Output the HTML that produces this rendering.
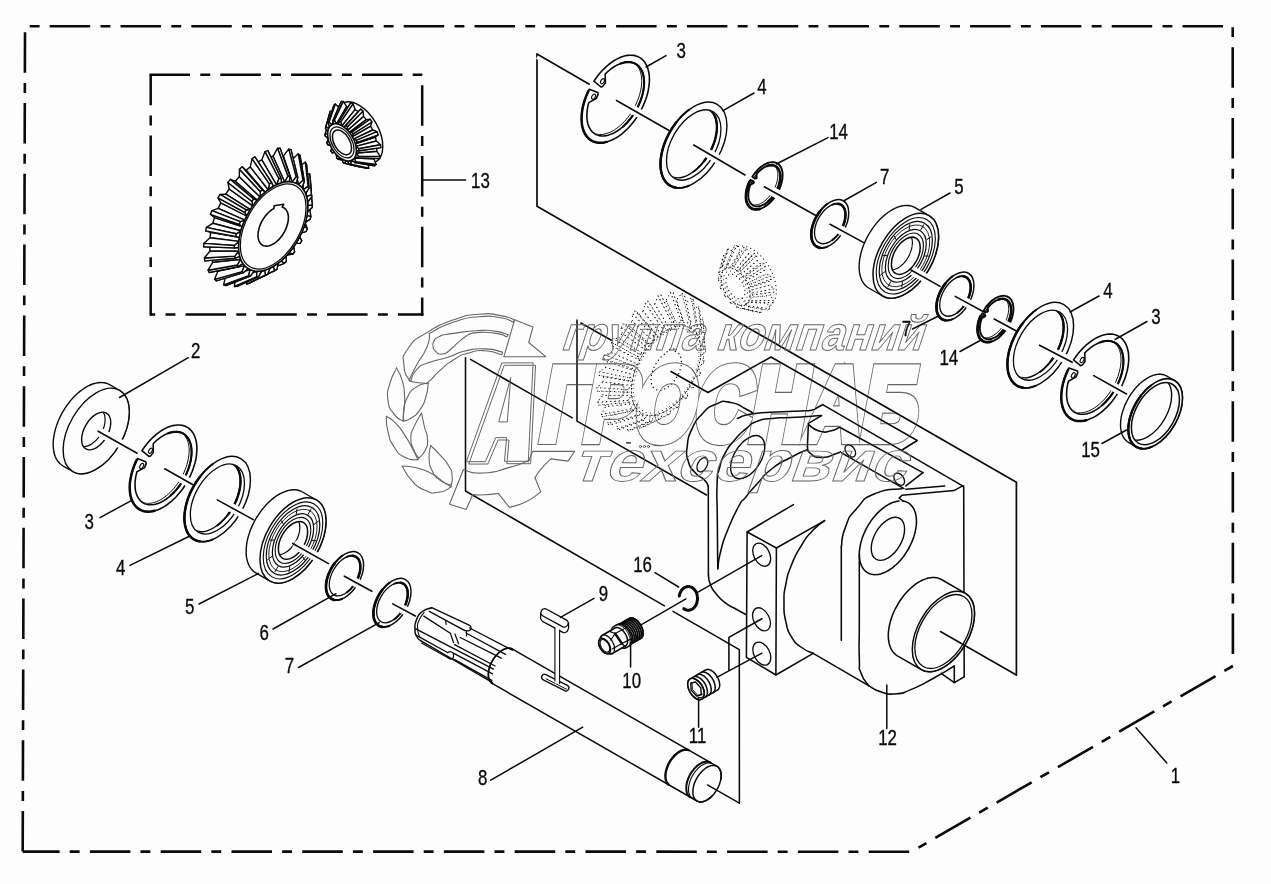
<!DOCTYPE html>
<html><head><meta charset="utf-8"><title>Exploded view</title>
<style>html,body{margin:0;padding:0;background:#fcfdfc;}body{width:1271px;height:884px;overflow:hidden;font-family:"Liberation Sans",sans-serif;}svg{display:block;}</style></head>
<body>
<svg width="1271" height="884" viewBox="0 0 1271 884" font-family="'Liberation Sans', sans-serif" fill="#0a0a0a" stroke-linecap="round" stroke-linejoin="round">
<defs><clipPath id="c1"><ellipse cx="615.5" cy="99.0" rx="39.70" ry="22.92" transform="rotate(-60 615.5 99.0)"/></clipPath><clipPath id="c2"><ellipse cx="693.7" cy="145.0" rx="37.90" ry="21.88" transform="rotate(-60 693.7 145.0)"/></clipPath><clipPath id="c3"><ellipse cx="764.3" cy="185.8" rx="21.80" ry="12.59" transform="rotate(-60 764.3 185.8)"/></clipPath><clipPath id="c4"><ellipse cx="905.8" cy="255.8" rx="19.90" ry="11.49" transform="rotate(-60 905.8 255.8)"/></clipPath><clipPath id="c5"><ellipse cx="995.5" cy="319.0" rx="21.30" ry="12.30" transform="rotate(-60 995.5 319.0)"/></clipPath><clipPath id="c6"><ellipse cx="1040.5" cy="345.2" rx="37.70" ry="21.77" transform="rotate(-60 1040.5 345.2)"/></clipPath><clipPath id="c7"><ellipse cx="1095.0" cy="377.6" rx="39.40" ry="22.75" transform="rotate(-60 1095.0 377.6)"/></clipPath><clipPath id="c8"><ellipse cx="1155.4" cy="413.7" rx="33.50" ry="19.34" transform="rotate(-60 1155.4 413.7)"/></clipPath><clipPath id="c9"><ellipse cx="96.2" cy="431.0" rx="20.10" ry="11.60" transform="rotate(-60 96.2 431.0)"/></clipPath><clipPath id="c10"><ellipse cx="163.3" cy="468.3" rx="39.20" ry="22.63" transform="rotate(-60 163.3 468.3)"/></clipPath><clipPath id="c11"><ellipse cx="217.4" cy="499.0" rx="37.70" ry="21.77" transform="rotate(-60 217.4 499.0)"/></clipPath><clipPath id="c12"><ellipse cx="293.0" cy="540.4" rx="20.20" ry="11.66" transform="rotate(-60 293.0 540.4)"/></clipPath></defs>
<line x1="29.7" y1="26.2" x2="1223.4" y2="26.2" stroke="#0a0a0a" stroke-width="2.6" stroke-dasharray="40.5 10.3 9.9 10.1" stroke-dashoffset="50.8" stroke-linecap="butt"/>
<line x1="1232.7" y1="27.2" x2="1232.9" y2="654.6" stroke="#0a0a0a" stroke-width="2.6" stroke-dasharray="40.5 10.3 9.9 10.1" stroke-dashoffset="50.8" stroke-linecap="butt"/>
<line x1="1232.9" y1="666.0" x2="918.5" y2="847.7" stroke="#0a0a0a" stroke-width="2.6" stroke-dasharray="40.5 10.3 9.9 10.1" stroke-dashoffset="50.8" stroke-linecap="butt"/>
<line x1="909.2" y1="851.7" x2="22.7" y2="851.6" stroke="#0a0a0a" stroke-width="2.6" stroke-dasharray="40.5 10.3 9.9 10.1" stroke-dashoffset="0.0" stroke-linecap="butt"/>
<line x1="25.0" y1="32.2" x2="22.7" y2="851.6" stroke="#0a0a0a" stroke-width="2.6" stroke-dasharray="40.5 10.3 9.9 10.1" stroke-dashoffset="0.0" stroke-linecap="butt"/>
<line x1="149.5" y1="74.7" x2="422.2" y2="74.7" stroke="#0a0a0a" stroke-width="2.5" stroke-dasharray="40.5 10.3 9.9 10.1" stroke-dashoffset="0.0" stroke-linecap="butt"/>
<line x1="422.2" y1="74.7" x2="422.2" y2="315.8" stroke="#0a0a0a" stroke-width="2.5" stroke-dasharray="40.5 10.3 9.9 10.1" stroke-dashoffset="60.3" stroke-linecap="butt"/>
<line x1="150.7" y1="74.7" x2="150.7" y2="315.8" stroke="#0a0a0a" stroke-width="2.5" stroke-dasharray="40.5 10.3 9.9 10.1" stroke-dashoffset="9.9" stroke-linecap="butt"/>
<line x1="150.7" y1="314.6" x2="423.4" y2="314.6" stroke="#0a0a0a" stroke-width="2.5" stroke-dasharray="40.5 10.3 9.9 10.1" stroke-dashoffset="36.0" stroke-linecap="butt"/>
<line x1="423.0" y1="180.0" x2="465.6" y2="180.0" stroke="#0a0a0a" stroke-width="1.6" />
<path d="M537.0 54.0 L537.0 206.3 L1016.4 482.3 L1016.4 675.0" fill="none" stroke="#0a0a0a" stroke-width="1.7" />
<path d="M593.9 81.2 L595.8 78.5 L597.8 75.8 L599.8 73.3 L602.0 70.8 L604.2 68.6 L606.5 66.4 L608.8 64.5 L611.1 62.7 L613.5 61.0 L615.9 59.6 L618.2 58.4 L620.6 57.3 L622.9 56.5 L625.2 55.8 L627.5 55.4 L629.7 55.2 L631.8 55.2 L633.8 55.4 L635.8 55.9 L637.6 56.5 L639.4 57.4 L641.0 58.4 L642.5 59.7 L643.9 61.1 L645.1 62.8 L646.2 64.6 L647.1 66.6 L647.9 68.7 L648.5 71.0 L649.0 73.4 L649.3 76.0 L649.4 78.6 L649.4 81.4 L649.2 84.2 L648.8 87.2 L648.3 90.2 L647.6 93.2 L646.8 96.2 L645.8 99.3 L644.6 102.4 L643.3 105.4 L641.9 108.4 L640.3 111.4 L638.6 114.3 L636.9 117.1 L635.0 119.9 L633.0 122.5 L630.9 125.1 L628.7 127.5 L626.5 129.7 L624.2 131.8 L621.9 133.8 L619.6 135.6 L617.2 137.2 L614.8 138.6 L612.5 139.8 L610.1 140.8 L607.8 141.6 L605.5 142.2 L603.2 142.6 L601.0 142.8 L598.9 142.8 L596.9 142.5 L595.0 142.1 L593.1 141.4 L591.4 140.5 L589.8 139.4 L588.3 138.1 L586.9 136.7 L585.7 135.0 L584.7 133.2 L583.7 131.2 L583.0 129.0 L582.4 126.7 L581.9 124.3 L581.7 121.7 L581.6 119.0 L581.6 116.2 L581.8 113.4 L582.2 110.4 L582.8 107.5 L583.5 104.4 L584.4 101.4 L585.4 98.3 L586.6 95.2 L587.9 92.2 L589.3 89.2 L597.8 92.4 L598.2 94.2 L597.3 96.2 L596.5 98.3 L588.8 102.6 L588.8 102.6 L588.1 105.1 L587.6 107.7 L587.2 110.2 L587.0 112.6 L586.9 115.0 L586.9 117.2 L587.1 119.4 L587.4 121.5 L587.8 123.5 L588.4 125.4 L589.1 127.1 L590.0 128.7 L591.0 130.2 L592.0 131.5 L593.2 132.7 L594.6 133.6 L596.0 134.5 L597.5 135.1 L599.1 135.6 L600.8 135.9 L602.5 136.0 L604.3 135.9 L606.2 135.6 L608.1 135.2 L610.0 134.6 L612.0 133.8 L614.0 132.9 L616.0 131.8 L618.0 130.5 L620.0 129.1 L621.9 127.5 L623.9 125.8 L625.8 123.9 L627.6 122.0 L629.4 119.9 L631.1 117.7 L632.7 115.5 L634.3 113.1 L635.7 110.7 L637.1 108.2 L638.4 105.7 L639.5 103.1 L640.5 100.6 L641.5 98.0 L642.2 95.4 L642.9 92.9 L643.4 90.3 L643.8 87.8 L644.0 85.4 L644.1 83.0 L644.1 80.8 L643.9 78.6 L643.6 76.5 L643.2 74.5 L642.6 72.6 L641.9 70.9 L641.0 69.3 L640.0 67.8 L639.0 66.5 L637.8 65.3 L636.4 64.4 L635.0 63.5 L633.5 62.9 L631.9 62.4 L630.2 62.1 L628.5 62.0 L626.7 62.1 L624.8 62.4 L622.9 62.8 L621.0 63.4 L619.0 64.2 L617.0 65.1 L615.0 66.2 L613.0 67.5 L611.0 68.9 L609.1 70.5 L607.1 72.2 L605.2 74.1 L605.4 82.9 L604.0 84.6 L602.7 86.4 L600.9 87.0 Z" fill="#fcfdfc" stroke="#0a0a0a" stroke-width="1.6" />
<path d="M606.7 141.9 L604.4 142.4 L602.2 142.7 L600.1 142.8 L598.0 142.7 L596.0 142.3 L594.1 141.8 L592.4 141.0 L590.7 140.1 L589.1 138.9 L587.7 137.5 L586.4 136.0 L585.3 134.3 L584.3 132.4 L583.4 130.3 L582.7 128.1 L582.2 125.7 L581.8 123.2 L581.6 120.6 L581.6 117.9 L581.7 115.1 L582.0 112.2 L582.4 109.3 L583.0 106.3 L583.8 103.2 L584.7 100.2 L585.8 97.1 L587.0 94.1 L588.4 91.1" fill="none" stroke="#0a0a0a" stroke-width="2.5" />
<path d="M620.5 63.6 L622.5 62.9 L624.4 62.4 L626.3 62.1 L628.2 62.0 L630.0 62.1 L631.7 62.4 L633.3 62.8 L634.9 63.5 L636.3 64.3 L637.7 65.3 L638.9 66.4 L640.0 67.8 L641.0 69.3 L641.9 70.9 L642.6 72.7 L643.2 74.6 L643.6 76.6 L643.9 78.8 L644.1 81.0 L644.1 83.4 L644.0 85.8 L643.7 88.3 L643.3 90.8 L642.8 93.4 L642.1 96.0 L641.2 98.7 L640.3 101.3 L639.2 103.9 L638.0 106.5 L636.7 109.1 L635.2 111.6 L633.7 114.0 L632.1 116.4 L630.4 118.7 L628.6 120.8 L626.8 122.9 L624.9 124.8 L622.9 126.7" fill="none" stroke="#0a0a0a" stroke-width="2.1" />
<g clip-path="url(#c1)">
<path d="M605.7 69.9 L607.6 68.3 L609.6 66.8 L611.6 65.4 L613.6 64.2 L615.6 63.2 L617.6 62.4 L619.5 61.7 L621.4 61.1 L623.3 60.8 L625.2 60.6 L627.0 60.7 L628.7 60.9 L630.3 61.2 L631.9 61.8 L633.3 62.5 L634.7 63.4 L635.9 64.5 L637.1 65.7 L638.1 67.1 L639.0 68.6 L639.8 70.3 L640.5 72.1 L641.0 74.1 L641.4 76.1 L641.6 78.2 L641.7 80.5 L641.7 82.8 L641.5 85.2 L641.2 87.7 L640.7 90.2 L640.2 92.7 L639.4 95.3 L638.6 97.9 L637.6 100.5 L636.5 103.0 L635.3 105.6 L634.0 108.1 L632.6 110.5 L631.1 112.9 L629.5 115.2 L627.8 117.4 L626.1 119.6 L624.3 121.6 L622.4 123.5 L620.5 125.3 L618.5 126.9 L616.6 128.4 L614.6 129.8 L612.6 131.0 L610.6 132.0 L608.6 132.8 L606.6 133.5 L604.7 134.1 L602.8 134.4 L601.0 134.6 L599.2 134.5 L597.5 134.3 L595.8 134.0 L594.3 133.4 L592.8 132.7 L591.5 131.8 L590.2 130.7 L589.1 129.5 L588.0 128.1 L587.1 126.6" fill="none" stroke="#0a0a0a" stroke-width="1.0" />
</g>
<ellipse cx="593.6" cy="96.6" rx="2.80" ry="1.62" transform="rotate(-60 593.6 96.6)" fill="none" stroke="#0a0a0a" stroke-width="1.1" />
<ellipse cx="602.5" cy="81.2" rx="2.80" ry="1.62" transform="rotate(-60 602.5 81.2)" fill="none" stroke="#0a0a0a" stroke-width="1.1" />
<ellipse cx="693.7" cy="145.0" rx="47.00" ry="27.14" transform="rotate(-60 693.7 145.0)" fill="#fcfdfc" stroke="#0a0a0a" stroke-width="1.45" />
<path d="M689.1 185.7 L686.8 186.5 L684.5 187.2 L682.3 187.6 L680.2 187.9 L678.1 187.9 L676.1 187.7 L674.2 187.3 L672.3 186.7 L670.6 185.9 L669.0 184.9 L667.5 183.7 L666.1 182.4 L664.9 180.8 L663.8 179.1 L662.9 177.2 L662.1 175.1 L661.5 172.9 L661.0 170.6 L660.6 168.1 L660.5 165.5 L660.5 162.8 L660.6 160.1 L661.0 157.2 L661.5 154.3 L662.1 151.4 L662.9 148.4 L663.8 145.4 L664.9 142.4 L666.1 139.4 L667.5 136.5 L669.0 133.6 L670.6 130.7 L672.3 127.9 L674.2 125.2 L676.1 122.6 L678.1 120.1 L680.2 117.7 L682.3 115.5 L684.5 113.4 L686.8 111.5 L689.1 109.7" fill="none" stroke="#0a0a0a" stroke-width="1.9" />
<path d="M676.1 187.7 L674.2 187.3 L672.3 186.7 L670.6 185.9 L669.0 184.9 L667.5 183.7 L666.1 182.4 L664.9 180.8 L663.8 179.1 L662.9 177.2 L662.1 175.1 L661.5 172.9 L661.0 170.6 L660.6 168.1 L660.5 165.5 L660.5 162.8 L660.6 160.1 L661.0 157.2 L661.5 154.3 L662.1 151.4 L662.9 148.4 L663.8 145.4 L664.9 142.4 L666.1 139.4 L667.5 136.5 L669.0 133.6 L670.6 130.7 L672.3 127.9 L674.2 125.2 L676.1 122.6" fill="none" stroke="#0a0a0a" stroke-width="2.5" />
<ellipse cx="693.7" cy="145.0" rx="38.50" ry="22.23" transform="rotate(-60 693.7 145.0)" fill="none" stroke="#0a0a0a" stroke-width="1.3" />
<g clip-path="url(#c2)">
<ellipse cx="689.7" cy="142.7" rx="38.50" ry="22.23" transform="rotate(-60 689.7 142.7)" fill="none" stroke="#0a0a0a" stroke-width="1.3" />
<path d="M693.5 109.4 L695.4 108.7 L697.2 108.2 L699.0 107.8 L700.8 107.6 L702.5 107.6 L704.1 107.7 L705.7 108.0 L707.2 108.5 L708.6 109.2 L709.9 110.0 L711.2 111.0 L712.3 112.1 L713.3 113.4 L714.2 114.8 L715.0 116.4 L715.6 118.0 L716.1 119.8 L716.5 121.8 L716.8 123.8 L716.9 125.9 L716.9 128.1 L716.8 130.4 L716.5 132.7 L716.1 135.1 L715.6 137.5 L715.0 139.9 L714.2 142.4 L713.3 144.8 L712.3 147.2 L711.2 149.7 L709.9 152.1 L708.6 154.4 L707.2 156.7 L705.7 158.9 L704.1 161.0 L702.5 163.1 L700.8 165.0 L699.0 166.9 L697.2 168.6 L695.4 170.2 L693.5 171.6" fill="none" stroke="#0a0a0a" stroke-width="1.8" />
<path d="M704.1 107.7 L705.7 108.0 L707.2 108.5 L708.6 109.2 L709.9 110.0 L711.2 111.0 L712.3 112.1 L713.3 113.4 L714.2 114.8 L715.0 116.4 L715.6 118.0 L716.1 119.8 L716.5 121.8 L716.8 123.8 L716.9 125.9 L716.9 128.1 L716.8 130.4 L716.5 132.7 L716.1 135.1 L715.6 137.5 L715.0 139.9 L714.2 142.4 L713.3 144.8 L712.3 147.2 L711.2 149.7 L709.9 152.1 L708.6 154.4 L707.2 156.7 L705.7 158.9 L704.1 161.0" fill="none" stroke="#0a0a0a" stroke-width="2.3" />
</g>
<path d="M752.3 176.8 L753.3 175.3 L754.3 173.8 L755.4 172.4 L756.6 171.1 L757.7 169.8 L758.9 168.7 L760.2 167.6 L761.4 166.6 L762.7 165.7 L764.0 164.8 L765.3 164.1 L766.5 163.5 L767.8 163.0 L769.0 162.6 L770.3 162.4 L771.5 162.2 L772.6 162.2 L773.7 162.2 L774.8 162.4 L775.8 162.7 L776.8 163.1 L777.7 163.6 L778.5 164.3 L779.3 165.0 L780.0 165.8 L780.6 166.8 L781.2 167.8 L781.6 168.9 L782.0 170.1 L782.3 171.4 L782.5 172.7 L782.6 174.1 L782.6 175.6 L782.5 177.1 L782.4 178.7 L782.1 180.3 L781.8 181.9 L781.4 183.5 L780.9 185.2 L780.3 186.8 L779.7 188.4 L778.9 190.1 L778.1 191.7 L777.2 193.3 L776.3 194.8 L775.3 196.3 L774.3 197.8 L773.2 199.2 L772.0 200.5 L770.9 201.8 L769.7 202.9 L768.4 204.0 L767.2 205.0 L765.9 205.9 L764.6 206.8 L763.3 207.5 L762.1 208.1 L760.8 208.6 L759.6 209.0 L758.3 209.2 L757.1 209.4 L756.0 209.4 L754.9 209.4 L753.8 209.2 L752.8 208.9 L751.8 208.5 L750.9 208.0 L750.1 207.3 L749.3 206.6 L748.6 205.8 L748.0 204.8 L747.4 203.8 L747.0 202.7 L746.6 201.5 L746.3 200.2 L746.1 198.9 L746.0 197.5 L746.0 196.0 L746.1 194.5 L746.2 192.9 L746.5 191.3 L746.8 189.7 L747.2 188.1 L747.7 186.4 L748.3 184.8 L748.9 183.2 L749.7 181.5 L750.5 179.9 L753.3 181.1 L753.9 182.4 L753.7 183.0 L750.3 184.9 L750.3 184.9 L749.8 186.4 L749.4 187.8 L749.0 189.2 L748.7 190.6 L748.5 192.0 L748.4 193.4 L748.3 194.7 L748.3 196.0 L748.4 197.2 L748.6 198.4 L748.9 199.5 L749.2 200.5 L749.6 201.5 L750.1 202.4 L750.6 203.2 L751.2 203.9 L751.9 204.6 L752.6 205.1 L753.4 205.6 L754.2 205.9 L755.1 206.2 L756.1 206.4 L757.0 206.4 L758.1 206.4 L759.1 206.3 L760.2 206.0 L761.3 205.7 L762.4 205.2 L763.5 204.7 L764.6 204.1 L765.7 203.4 L766.8 202.6 L767.9 201.7 L769.0 200.7 L770.0 199.7 L771.1 198.6 L772.0 197.5 L773.0 196.3 L773.9 195.0 L774.8 193.7 L775.6 192.3 L776.4 190.9 L777.1 189.5 L777.7 188.1 L778.3 186.7 L778.8 185.2 L779.2 183.8 L779.6 182.4 L779.9 181.0 L780.1 179.6 L780.2 178.2 L780.3 176.9 L780.3 175.6 L780.2 174.4 L780.0 173.2 L779.7 172.1 L779.4 171.1 L779.0 170.1 L778.5 169.2 L778.0 168.4 L777.4 167.7 L776.7 167.0 L776.0 166.5 L775.2 166.0 L774.4 165.7 L773.5 165.4 L772.5 165.2 L771.6 165.2 L770.5 165.2 L769.5 165.3 L768.4 165.6 L767.3 165.9 L766.2 166.4 L765.1 166.9 L764.0 167.5 L762.9 168.2 L761.8 169.0 L760.7 169.9 L759.6 170.9 L758.6 171.9 L757.5 173.0 L756.6 174.1 L756.6 178.0 L756.2 178.5 L754.7 178.6 Z" fill="#fcfdfc" stroke="#0a0a0a" stroke-width="1.9" />
<path d="M759.6 209.0 L758.3 209.2 L757.1 209.4 L756.0 209.4 L754.9 209.4 L753.8 209.2 L752.8 208.9 L751.8 208.5 L750.9 208.0 L750.1 207.3 L749.3 206.6 L748.6 205.8 L748.0 204.8 L747.4 203.8 L747.0 202.7 L746.6 201.5 L746.3 200.2 L746.1 198.9 L746.0 197.5 L746.0 196.0 L746.1 194.5 L746.2 192.9 L746.5 191.3 L746.8 189.7 L747.2 188.1 L747.7 186.4 L748.3 184.8 L748.9 183.2 L749.7 181.5" fill="none" stroke="#0a0a0a" stroke-width="2.8" />
<path d="M767.1 166.0 L768.2 165.7 L769.3 165.4 L770.3 165.2 L771.4 165.2 L772.4 165.2 L773.3 165.4 L774.3 165.6 L775.1 166.0 L775.9 166.4 L776.7 167.0 L777.4 167.6 L778.0 168.4 L778.5 169.2 L779.0 170.1 L779.4 171.1 L779.8 172.2 L780.0 173.3 L780.2 174.5 L780.3 175.8 L780.3 177.1 L780.2 178.4 L780.1 179.8 L779.8 181.2 L779.5 182.7 L779.1 184.1 L778.7 185.6 L778.1 187.1 L777.5 188.5 L776.8 190.0 L776.1 191.4 L775.3 192.8 L774.5 194.2 L773.6 195.5 L772.6 196.8 L771.6 198.0 L770.6 199.1 L769.5 200.2 L768.4 201.2" fill="none" stroke="#0a0a0a" stroke-width="2.4" />
<g clip-path="url(#c3)">
<path d="M757.7 169.0 L758.8 168.0 L759.9 167.2 L761.0 166.5 L762.2 165.8 L763.3 165.2 L764.4 164.7 L765.5 164.3 L766.5 164.1 L767.6 163.9 L768.6 163.8 L769.6 163.8 L770.6 163.9 L771.5 164.1 L772.4 164.4 L773.2 164.8 L773.9 165.3 L774.6 165.9 L775.3 166.6 L775.9 167.4 L776.4 168.2 L776.8 169.2 L777.2 170.2 L777.4 171.3 L777.7 172.4 L777.8 173.6 L777.9 174.9 L777.8 176.2 L777.7 177.5 L777.6 178.9 L777.3 180.3 L777.0 181.7 L776.6 183.1 L776.1 184.6 L775.6 186.0 L775.0 187.4 L774.3 188.8 L773.6 190.2 L772.8 191.6 L771.9 192.9 L771.0 194.2 L770.1 195.5 L769.1 196.7 L768.1 197.8 L767.1 198.8 L766.0 199.8 L764.9 200.8 L763.8 201.6 L762.7 202.3 L761.6 203.0 L760.5 203.6 L759.4 204.1 L758.3 204.5 L757.2 204.7 L756.1 204.9 L755.1 205.0 L754.1 205.0 L753.2 204.9 L752.3 204.7 L751.4 204.4 L750.6 204.0 L749.8 203.5 L749.1 202.9 L748.5 202.2 L747.9 201.4 L747.4 200.6" fill="none" stroke="#0a0a0a" stroke-width="1.0" />
</g>
<ellipse cx="752.0" cy="182.8" rx="1.30" ry="0.75" transform="rotate(-60 752.0 182.8)" fill="none" stroke="#0a0a0a" stroke-width="1.1" />
<ellipse cx="755.5" cy="176.7" rx="1.30" ry="0.75" transform="rotate(-60 755.5 176.7)" fill="none" stroke="#0a0a0a" stroke-width="1.1" />
<ellipse cx="830.0" cy="223.7" rx="26.50" ry="15.30" transform="rotate(-60 830.0 223.7)" fill="#fcfdfc" stroke="#0a0a0a" stroke-width="1.45" />
<path d="M827.4 246.6 L826.1 247.1 L824.8 247.5 L823.6 247.7 L822.4 247.9 L821.2 247.9 L820.1 247.8 L819.0 247.6 L818.0 247.2 L817.0 246.8 L816.1 246.2 L815.2 245.5 L814.5 244.8 L813.8 243.9 L813.2 242.9 L812.6 241.8 L812.2 240.7 L811.8 239.4 L811.5 238.1 L811.4 236.7 L811.3 235.3 L811.3 233.8 L811.4 232.2 L811.5 230.6 L811.8 229.0 L812.2 227.3 L812.6 225.6 L813.2 223.9 L813.8 222.3 L814.5 220.6 L815.2 218.9 L816.1 217.3 L817.0 215.7 L818.0 214.1 L819.0 212.6 L820.1 211.1 L821.2 209.7 L822.4 208.3 L823.6 207.1 L824.8 205.9 L826.1 204.8 L827.4 203.8" fill="none" stroke="#0a0a0a" stroke-width="2.0" />
<path d="M820.1 247.8 L819.0 247.6 L818.0 247.2 L817.0 246.8 L816.1 246.2 L815.2 245.5 L814.5 244.8 L813.8 243.9 L813.2 242.9 L812.6 241.8 L812.2 240.7 L811.8 239.4 L811.5 238.1 L811.4 236.7 L811.3 235.3 L811.3 233.8 L811.4 232.2 L811.5 230.6 L811.8 229.0 L812.2 227.3 L812.6 225.6 L813.2 223.9 L813.8 222.3 L814.5 220.6 L815.2 218.9 L816.1 217.3 L817.0 215.7 L818.0 214.1 L819.0 212.6 L820.1 211.1" fill="none" stroke="#0a0a0a" stroke-width="2.7" />
<ellipse cx="830.0" cy="223.7" rx="21.90" ry="12.64" transform="rotate(-60 830.0 223.7)" fill="none" stroke="#0a0a0a" stroke-width="1.3" />
<path d="M832.2 204.7 L833.2 204.4 L834.3 204.0 L835.3 203.8 L836.3 203.7 L837.3 203.7 L838.2 203.8 L839.1 204.0 L840.0 204.3 L840.8 204.6 L841.5 205.1 L842.2 205.6 L842.8 206.3 L843.4 207.0 L843.9 207.8 L844.4 208.7 L844.7 209.7 L845.0 210.7 L845.3 211.8 L845.4 212.9 L845.5 214.1 L845.5 215.4 L845.4 216.7 L845.3 218.0 L845.0 219.4 L844.7 220.7 L844.4 222.1 L843.9 223.5 L843.4 224.9 L842.8 226.3 L842.2 227.7 L841.5 229.0 L840.8 230.4 L840.0 231.7 L839.1 232.9 L838.2 234.1 L837.3 235.3 L836.3 236.4 L835.3 237.4 L834.3 238.4 L833.2 239.3 L832.2 240.2" fill="none" stroke="#0a0a0a" stroke-width="1.9" />
<path d="M838.2 203.8 L839.1 204.0 L840.0 204.3 L840.8 204.6 L841.5 205.1 L842.2 205.6 L842.8 206.3 L843.4 207.0 L843.9 207.8 L844.4 208.7 L844.7 209.7 L845.0 210.7 L845.3 211.8 L845.4 212.9 L845.5 214.1 L845.5 215.4 L845.4 216.7 L845.3 218.0 L845.0 219.4 L844.7 220.7 L844.4 222.1 L843.9 223.5 L843.4 224.9 L842.8 226.3 L842.2 227.7 L841.5 229.0 L840.8 230.4 L840.0 231.7 L839.1 232.9 L838.2 234.1" fill="none" stroke="#0a0a0a" stroke-width="2.5" />
<path d="M868.7 288.0 L867.2 287.0 L865.7 285.7 L864.4 284.3 L863.2 282.7 L862.2 281.0 L861.3 279.1 L860.6 277.0 L860.0 274.8 L859.5 272.4 L859.3 270.0 L859.1 267.4 L859.2 264.7 L859.4 262.0 L859.7 259.2 L860.3 256.3 L860.9 253.4 L861.7 250.4 L862.7 247.5 L863.8 244.5 L865.1 241.6 L866.4 238.7 L867.9 235.8 L869.6 233.0 L871.3 230.3 L873.1 227.6 L875.0 225.1 L877.0 222.6 L879.1 220.3 L881.3 218.1 L883.5 216.1 L885.7 214.2 L887.9 212.5 L890.2 211.0 L892.5 209.6 L894.8 208.4 L897.1 207.4 L899.3 206.6 L901.5 206.0 L903.7 205.6 L905.8 205.5 L907.9 205.5 L909.8 205.7 L911.7 206.1 L913.5 206.8 L915.1 207.6 L929.0 215.6 L930.6 216.6 L932.0 217.9 L933.3 219.3 L934.5 220.9 L935.5 222.6 L936.4 224.5 L937.2 226.6 L937.8 228.8 L938.2 231.2 L938.5 233.6 L938.6 236.2 L938.6 238.9 L938.4 241.6 L938.0 244.4 L937.5 247.3 L936.8 250.2 L936.0 253.2 L935.0 256.1 L933.9 259.1 L932.7 262.0 L931.3 264.9 L929.8 267.8 L928.2 270.6 L926.4 273.3 L924.6 276.0 L922.7 278.5 L920.7 281.0 L918.6 283.3 L916.5 285.5 L914.3 287.5 L912.1 289.4 L909.8 291.1 L907.5 292.6 L905.2 294.0 L902.9 295.2 L900.7 296.2 L898.4 297.0 L896.2 297.6 L894.0 298.0 L891.9 298.1 L889.9 298.1 L887.9 297.9 L886.1 297.5 L884.3 296.8 L882.6 296.0 Z" fill="#fcfdfc" stroke="#0a0a0a" stroke-width="1.4" />
<ellipse cx="905.8" cy="255.8" rx="46.40" ry="26.79" transform="rotate(-60 905.8 255.8)" fill="#fcfdfc" stroke="#0a0a0a" stroke-width="1.5" />
<ellipse cx="905.8" cy="255.8" rx="41.80" ry="24.13" transform="rotate(-60 905.8 255.8)" fill="none" stroke="#0a0a0a" stroke-width="1.1" />
<ellipse cx="905.8" cy="255.8" rx="37.60" ry="21.71" transform="rotate(-60 905.8 255.8)" fill="none" stroke="#0a0a0a" stroke-width="1.2" />
<ellipse cx="905.8" cy="255.8" rx="33.90" ry="19.57" transform="rotate(-60 905.8 255.8)" fill="none" stroke="#0a0a0a" stroke-width="0.8" />
<ellipse cx="905.8" cy="255.8" rx="28.90" ry="16.69" transform="rotate(-60 905.8 255.8)" fill="none" stroke="#0a0a0a" stroke-width="1.2" />
<ellipse cx="905.8" cy="255.8" rx="24.90" ry="14.38" transform="rotate(-60 905.8 255.8)" fill="none" stroke="#0a0a0a" stroke-width="1.1" />
<line x1="923.8" y1="224.7" x2="920.8" y2="229.9" stroke="#0a0a0a" stroke-width="1.0" />
<line x1="930.9" y1="236.7" x2="926.7" y2="239.9" stroke="#0a0a0a" stroke-width="1.0" />
<line x1="928.4" y1="256.0" x2="924.6" y2="256.0" stroke="#0a0a0a" stroke-width="1.0" />
<line x1="917.3" y1="275.3" x2="915.4" y2="272.0" stroke="#0a0a0a" stroke-width="1.0" />
<line x1="901.8" y1="287.0" x2="902.5" y2="281.8" stroke="#0a0a0a" stroke-width="1.0" />
<line x1="887.8" y1="286.9" x2="890.8" y2="281.7" stroke="#0a0a0a" stroke-width="1.0" />
<line x1="880.7" y1="274.9" x2="884.9" y2="271.7" stroke="#0a0a0a" stroke-width="1.0" />
<line x1="883.2" y1="255.6" x2="887.0" y2="255.6" stroke="#0a0a0a" stroke-width="1.0" />
<line x1="894.3" y1="236.3" x2="896.2" y2="239.6" stroke="#0a0a0a" stroke-width="1.0" />
<line x1="909.8" y1="224.6" x2="909.1" y2="229.8" stroke="#0a0a0a" stroke-width="1.0" />
<ellipse cx="905.8" cy="255.8" rx="20.40" ry="11.78" transform="rotate(-60 905.8 255.8)" fill="#fcfdfc" stroke="#0a0a0a" stroke-width="1.5" />
<g clip-path="url(#c4)">
<ellipse cx="898.0" cy="251.3" rx="20.40" ry="11.78" transform="rotate(-60 898.0 251.3)" fill="none" stroke="#0a0a0a" stroke-width="1.2" />
</g>
<ellipse cx="955.2" cy="296.2" rx="26.50" ry="15.30" transform="rotate(-60 955.2 296.2)" fill="#fcfdfc" stroke="#0a0a0a" stroke-width="1.45" />
<path d="M952.6 319.1 L951.3 319.6 L950.0 320.0 L948.8 320.2 L947.6 320.4 L946.4 320.4 L945.3 320.3 L944.2 320.1 L943.2 319.7 L942.2 319.3 L941.3 318.7 L940.4 318.0 L939.7 317.3 L939.0 316.4 L938.4 315.4 L937.8 314.3 L937.4 313.2 L937.0 311.9 L936.7 310.6 L936.6 309.2 L936.5 307.8 L936.5 306.3 L936.6 304.7 L936.7 303.1 L937.0 301.5 L937.4 299.8 L937.8 298.1 L938.4 296.4 L939.0 294.8 L939.7 293.1 L940.4 291.4 L941.3 289.8 L942.2 288.2 L943.2 286.6 L944.2 285.1 L945.3 283.6 L946.4 282.2 L947.6 280.8 L948.8 279.6 L950.0 278.4 L951.3 277.3 L952.6 276.3" fill="none" stroke="#0a0a0a" stroke-width="2.0" />
<path d="M945.3 320.3 L944.2 320.1 L943.2 319.7 L942.2 319.3 L941.3 318.7 L940.4 318.0 L939.7 317.3 L939.0 316.4 L938.4 315.4 L937.8 314.3 L937.4 313.2 L937.0 311.9 L936.7 310.6 L936.6 309.2 L936.5 307.8 L936.5 306.3 L936.6 304.7 L936.7 303.1 L937.0 301.5 L937.4 299.8 L937.8 298.1 L938.4 296.4 L939.0 294.8 L939.7 293.1 L940.4 291.4 L941.3 289.8 L942.2 288.2 L943.2 286.6 L944.2 285.1 L945.3 283.6" fill="none" stroke="#0a0a0a" stroke-width="2.7" />
<ellipse cx="955.2" cy="296.2" rx="21.90" ry="12.64" transform="rotate(-60 955.2 296.2)" fill="none" stroke="#0a0a0a" stroke-width="1.3" />
<path d="M957.4 277.2 L958.4 276.9 L959.5 276.5 L960.5 276.3 L961.5 276.2 L962.5 276.2 L963.4 276.3 L964.3 276.5 L965.2 276.8 L966.0 277.1 L966.7 277.6 L967.4 278.1 L968.0 278.8 L968.6 279.5 L969.1 280.3 L969.6 281.2 L969.9 282.2 L970.2 283.2 L970.5 284.3 L970.6 285.4 L970.7 286.6 L970.7 287.9 L970.6 289.2 L970.5 290.5 L970.2 291.9 L969.9 293.2 L969.6 294.6 L969.1 296.0 L968.6 297.4 L968.0 298.8 L967.4 300.2 L966.7 301.5 L966.0 302.9 L965.2 304.2 L964.3 305.4 L963.4 306.6 L962.5 307.8 L961.5 308.9 L960.5 309.9 L959.5 310.9 L958.4 311.8 L957.4 312.7" fill="none" stroke="#0a0a0a" stroke-width="1.9" />
<path d="M963.4 276.3 L964.3 276.5 L965.2 276.8 L966.0 277.1 L966.7 277.6 L967.4 278.1 L968.0 278.8 L968.6 279.5 L969.1 280.3 L969.6 281.2 L969.9 282.2 L970.2 283.2 L970.5 284.3 L970.6 285.4 L970.7 286.6 L970.7 287.9 L970.6 289.2 L970.5 290.5 L970.2 291.9 L969.9 293.2 L969.6 294.6 L969.1 296.0 L968.6 297.4 L968.0 298.8 L967.4 300.2 L966.7 301.5 L966.0 302.9 L965.2 304.2 L964.3 305.4 L963.4 306.6" fill="none" stroke="#0a0a0a" stroke-width="2.5" />
<path d="M983.7 310.2 L984.7 308.7 L985.7 307.3 L986.8 305.9 L987.9 304.6 L989.1 303.4 L990.2 302.2 L991.5 301.1 L992.7 300.1 L993.9 299.2 L995.2 298.4 L996.4 297.7 L997.7 297.2 L998.9 296.7 L1000.1 296.3 L1001.3 296.0 L1002.5 295.9 L1003.7 295.8 L1004.8 295.9 L1005.8 296.1 L1006.8 296.4 L1007.7 296.8 L1008.6 297.3 L1009.5 297.9 L1010.2 298.6 L1010.9 299.4 L1011.5 300.3 L1012.0 301.4 L1012.5 302.4 L1012.8 303.6 L1013.1 304.9 L1013.3 306.2 L1013.4 307.6 L1013.5 309.0 L1013.4 310.5 L1013.2 312.0 L1013.0 313.6 L1012.7 315.1 L1012.3 316.8 L1011.8 318.4 L1011.2 320.0 L1010.6 321.6 L1009.8 323.2 L1009.1 324.8 L1008.2 326.3 L1007.3 327.8 L1006.3 329.3 L1005.3 330.7 L1004.2 332.1 L1003.1 333.4 L1001.9 334.6 L1000.8 335.8 L999.5 336.9 L998.3 337.9 L997.1 338.8 L995.8 339.6 L994.6 340.3 L993.3 340.8 L992.1 341.3 L990.9 341.7 L989.7 342.0 L988.5 342.1 L987.3 342.2 L986.2 342.1 L985.2 341.9 L984.2 341.6 L983.3 341.2 L982.4 340.7 L981.5 340.1 L980.8 339.4 L980.1 338.6 L979.5 337.7 L979.0 336.6 L978.5 335.6 L978.2 334.4 L977.9 333.1 L977.7 331.8 L977.6 330.4 L977.5 329.0 L977.6 327.5 L977.8 326.0 L978.0 324.4 L978.3 322.9 L978.7 321.2 L979.2 319.6 L979.8 318.0 L980.4 316.4 L981.2 314.8 L981.9 313.2 L984.7 314.4 L985.4 315.7 L985.1 316.3 L981.8 318.1 L981.8 318.1 L981.3 319.6 L980.9 321.0 L980.6 322.4 L980.3 323.7 L980.1 325.1 L979.9 326.4 L979.9 327.7 L979.9 329.0 L980.0 330.2 L980.2 331.3 L980.4 332.4 L980.7 333.4 L981.1 334.4 L981.6 335.2 L982.1 336.0 L982.7 336.7 L983.4 337.4 L984.1 337.9 L984.8 338.4 L985.7 338.7 L986.5 339.0 L987.5 339.1 L988.4 339.2 L989.4 339.1 L990.4 339.0 L991.5 338.8 L992.5 338.4 L993.6 338.0 L994.7 337.5 L995.8 336.9 L996.9 336.2 L997.9 335.4 L999.0 334.6 L1000.1 333.6 L1001.1 332.6 L1002.1 331.5 L1003.1 330.4 L1004.0 329.2 L1004.9 328.0 L1005.8 326.7 L1006.5 325.4 L1007.3 324.0 L1008.0 322.7 L1008.6 321.3 L1009.2 319.9 L1009.7 318.4 L1010.1 317.0 L1010.4 315.6 L1010.7 314.3 L1010.9 312.9 L1011.1 311.6 L1011.1 310.3 L1011.1 309.0 L1011.0 307.8 L1010.8 306.7 L1010.6 305.6 L1010.3 304.6 L1009.9 303.6 L1009.4 302.8 L1008.9 302.0 L1008.3 301.3 L1007.6 300.6 L1006.9 300.1 L1006.2 299.6 L1005.3 299.3 L1004.5 299.0 L1003.5 298.9 L1002.6 298.8 L1001.6 298.9 L1000.6 299.0 L999.5 299.2 L998.5 299.6 L997.4 300.0 L996.3 300.5 L995.2 301.1 L994.1 301.8 L993.1 302.6 L992.0 303.4 L990.9 304.4 L989.9 305.4 L988.9 306.5 L987.9 307.6 L987.9 311.3 L987.6 311.9 L986.1 312.0 Z" fill="#fcfdfc" stroke="#0a0a0a" stroke-width="1.9" />
<path d="M990.9 341.7 L989.7 342.0 L988.5 342.1 L987.3 342.2 L986.2 342.1 L985.2 341.9 L984.2 341.6 L983.3 341.2 L982.4 340.7 L981.5 340.1 L980.8 339.4 L980.1 338.6 L979.5 337.7 L979.0 336.6 L978.5 335.6 L978.2 334.4 L977.9 333.1 L977.7 331.8 L977.6 330.4 L977.5 329.0 L977.6 327.5 L977.8 326.0 L978.0 324.4 L978.3 322.9 L978.7 321.2 L979.2 319.6 L979.8 318.0 L980.4 316.4 L981.2 314.8" fill="none" stroke="#0a0a0a" stroke-width="2.8" />
<path d="M998.2 299.7 L999.3 299.3 L1000.4 299.0 L1001.4 298.9 L1002.4 298.8 L1003.4 298.9 L1004.3 299.0 L1005.2 299.3 L1006.1 299.6 L1006.9 300.1 L1007.6 300.6 L1008.3 301.2 L1008.9 302.0 L1009.4 302.8 L1009.9 303.7 L1010.3 304.6 L1010.6 305.7 L1010.9 306.8 L1011.0 308.0 L1011.1 309.2 L1011.1 310.5 L1011.1 311.8 L1010.9 313.2 L1010.7 314.5 L1010.4 316.0 L1010.0 317.4 L1009.5 318.8 L1009.0 320.3 L1008.4 321.7 L1007.8 323.1 L1007.0 324.5 L1006.3 325.9 L1005.4 327.2 L1004.6 328.5 L1003.6 329.7 L1002.7 330.9 L1001.6 332.0 L1000.6 333.1 L999.5 334.1" fill="none" stroke="#0a0a0a" stroke-width="2.4" />
<g clip-path="url(#c5)">
<path d="M989.0 302.5 L990.1 301.6 L991.2 300.8 L992.3 300.1 L993.3 299.4 L994.4 298.8 L995.5 298.4 L996.6 298.0 L997.6 297.7 L998.7 297.5 L999.7 297.4 L1000.7 297.4 L1001.6 297.6 L1002.5 297.8 L1003.3 298.1 L1004.1 298.5 L1004.9 299.0 L1005.6 299.5 L1006.2 300.2 L1006.7 301.0 L1007.2 301.8 L1007.7 302.7 L1008.0 303.7 L1008.3 304.7 L1008.5 305.9 L1008.6 307.0 L1008.7 308.3 L1008.7 309.5 L1008.6 310.8 L1008.4 312.2 L1008.2 313.6 L1007.9 314.9 L1007.5 316.3 L1007.0 317.8 L1006.5 319.2 L1005.9 320.6 L1005.2 321.9 L1004.5 323.3 L1003.7 324.6 L1002.9 325.9 L1002.0 327.2 L1001.1 328.4 L1000.2 329.6 L999.2 330.7 L998.2 331.7 L997.1 332.7 L996.1 333.6 L995.0 334.4 L993.9 335.1 L992.8 335.8 L991.7 336.4 L990.6 336.8 L989.6 337.2 L988.5 337.5 L987.5 337.7 L986.5 337.8 L985.5 337.8 L984.6 337.6 L983.7 337.4 L982.8 337.1 L982.0 336.7 L981.3 336.2 L980.6 335.7 L980.0 335.0 L979.4 334.2 L978.9 333.4" fill="none" stroke="#0a0a0a" stroke-width="1.0" />
</g>
<ellipse cx="983.4" cy="316.0" rx="1.30" ry="0.75" transform="rotate(-60 983.4 316.0)" fill="none" stroke="#0a0a0a" stroke-width="1.1" />
<ellipse cx="986.9" cy="310.1" rx="1.30" ry="0.75" transform="rotate(-60 986.9 310.1)" fill="none" stroke="#0a0a0a" stroke-width="1.1" />
<ellipse cx="1040.5" cy="345.2" rx="46.80" ry="27.02" transform="rotate(-60 1040.5 345.2)" fill="#fcfdfc" stroke="#0a0a0a" stroke-width="1.45" />
<path d="M1035.9 385.7 L1033.6 386.5 L1031.4 387.2 L1029.2 387.6 L1027.0 387.9 L1025.0 387.9 L1023.0 387.7 L1021.0 387.3 L1019.2 386.8 L1017.5 386.0 L1015.9 385.0 L1014.4 383.8 L1013.1 382.4 L1011.8 380.9 L1010.8 379.1 L1009.8 377.2 L1009.0 375.2 L1008.4 373.0 L1007.9 370.7 L1007.6 368.2 L1007.4 365.6 L1007.4 363.0 L1007.6 360.2 L1007.9 357.4 L1008.4 354.5 L1009.0 351.6 L1009.8 348.6 L1010.8 345.6 L1011.8 342.6 L1013.1 339.7 L1014.4 336.7 L1015.9 333.8 L1017.5 331.0 L1019.2 328.2 L1021.0 325.5 L1023.0 322.9 L1025.0 320.4 L1027.0 318.1 L1029.2 315.8 L1031.4 313.7 L1033.6 311.8 L1035.9 310.0" fill="none" stroke="#0a0a0a" stroke-width="1.9" />
<path d="M1023.0 387.7 L1021.0 387.3 L1019.2 386.8 L1017.5 386.0 L1015.9 385.0 L1014.4 383.8 L1013.1 382.4 L1011.8 380.9 L1010.8 379.1 L1009.8 377.2 L1009.0 375.2 L1008.4 373.0 L1007.9 370.7 L1007.6 368.2 L1007.4 365.6 L1007.4 363.0 L1007.6 360.2 L1007.9 357.4 L1008.4 354.5 L1009.0 351.6 L1009.8 348.6 L1010.8 345.6 L1011.8 342.6 L1013.1 339.7 L1014.4 336.7 L1015.9 333.8 L1017.5 331.0 L1019.2 328.2 L1021.0 325.5 L1023.0 322.9" fill="none" stroke="#0a0a0a" stroke-width="2.5" />
<ellipse cx="1040.5" cy="345.2" rx="38.30" ry="22.11" transform="rotate(-60 1040.5 345.2)" fill="none" stroke="#0a0a0a" stroke-width="1.3" />
<g clip-path="url(#c6)">
<ellipse cx="1036.5" cy="342.9" rx="38.30" ry="22.11" transform="rotate(-60 1036.5 342.9)" fill="none" stroke="#0a0a0a" stroke-width="1.3" />
<path d="M1040.3 309.8 L1042.1 309.1 L1044.0 308.5 L1045.8 308.2 L1047.5 308.0 L1049.2 307.9 L1050.9 308.1 L1052.4 308.4 L1053.9 308.9 L1055.3 309.5 L1056.6 310.4 L1057.9 311.3 L1059.0 312.5 L1060.0 313.7 L1060.9 315.1 L1061.6 316.7 L1062.3 318.4 L1062.8 320.2 L1063.2 322.1 L1063.5 324.1 L1063.6 326.2 L1063.6 328.4 L1063.5 330.6 L1063.2 332.9 L1062.8 335.3 L1062.3 337.7 L1061.6 340.1 L1060.9 342.6 L1060.0 345.0 L1059.0 347.4 L1057.9 349.8 L1056.6 352.2 L1055.3 354.5 L1053.9 356.8 L1052.4 359.0 L1050.9 361.1 L1049.2 363.2 L1047.5 365.1 L1045.8 366.9 L1044.0 368.7 L1042.1 370.2 L1040.3 371.7" fill="none" stroke="#0a0a0a" stroke-width="1.8" />
<path d="M1050.9 308.1 L1052.4 308.4 L1053.9 308.9 L1055.3 309.5 L1056.6 310.4 L1057.9 311.3 L1059.0 312.5 L1060.0 313.7 L1060.9 315.1 L1061.6 316.7 L1062.3 318.4 L1062.8 320.2 L1063.2 322.1 L1063.5 324.1 L1063.6 326.2 L1063.6 328.4 L1063.5 330.6 L1063.2 332.9 L1062.8 335.3 L1062.3 337.7 L1061.6 340.1 L1060.9 342.6 L1060.0 345.0 L1059.0 347.4 L1057.9 349.8 L1056.6 352.2 L1055.3 354.5 L1053.9 356.8 L1052.4 359.0 L1050.9 361.1" fill="none" stroke="#0a0a0a" stroke-width="2.3" />
</g>
<path d="M1073.5 359.9 L1075.4 357.2 L1077.4 354.6 L1079.4 352.0 L1081.6 349.6 L1083.8 347.4 L1086.0 345.2 L1088.3 343.3 L1090.7 341.5 L1093.0 339.9 L1095.4 338.4 L1097.7 337.2 L1100.1 336.2 L1102.4 335.3 L1104.7 334.7 L1106.9 334.3 L1109.1 334.1 L1111.2 334.1 L1113.2 334.3 L1115.2 334.7 L1117.0 335.4 L1118.7 336.2 L1120.4 337.3 L1121.9 338.5 L1123.2 340.0 L1124.4 341.6 L1125.5 343.4 L1126.4 345.4 L1127.2 347.5 L1127.8 349.8 L1128.3 352.2 L1128.6 354.7 L1128.7 357.4 L1128.7 360.1 L1128.5 362.9 L1128.1 365.8 L1127.6 368.8 L1126.9 371.8 L1126.1 374.8 L1125.1 377.9 L1123.9 380.9 L1122.6 384.0 L1121.2 387.0 L1119.7 389.9 L1118.0 392.8 L1116.2 395.6 L1114.3 398.4 L1112.4 401.0 L1110.3 403.5 L1108.1 405.9 L1105.9 408.1 L1103.7 410.2 L1101.4 412.2 L1099.0 413.9 L1096.7 415.5 L1094.3 416.9 L1092.0 418.1 L1089.6 419.1 L1087.3 420.0 L1085.0 420.6 L1082.8 421.0 L1080.6 421.1 L1078.5 421.1 L1076.5 420.9 L1074.6 420.4 L1072.8 419.7 L1071.0 418.8 L1069.4 417.8 L1068.0 416.5 L1066.6 415.0 L1065.4 413.4 L1064.4 411.6 L1063.4 409.6 L1062.7 407.4 L1062.1 405.1 L1061.7 402.7 L1061.4 400.2 L1061.3 397.5 L1061.3 394.7 L1061.6 391.9 L1061.9 389.0 L1062.5 386.0 L1063.2 383.0 L1064.1 380.0 L1065.1 376.9 L1066.2 373.9 L1067.5 370.8 L1069.0 367.9 L1077.4 371.0 L1077.8 372.8 L1076.9 374.9 L1076.1 376.9 L1068.5 381.2 L1068.5 381.2 L1067.8 383.7 L1067.3 386.2 L1066.9 388.7 L1066.7 391.1 L1066.6 393.4 L1066.6 395.7 L1066.8 397.9 L1067.1 400.0 L1067.5 401.9 L1068.1 403.8 L1068.8 405.5 L1069.7 407.1 L1070.6 408.6 L1071.7 409.9 L1072.9 411.0 L1074.2 412.0 L1075.6 412.8 L1077.1 413.4 L1078.7 413.9 L1080.4 414.2 L1082.1 414.3 L1083.9 414.2 L1085.7 414.0 L1087.6 413.6 L1089.6 413.0 L1091.5 412.2 L1093.5 411.2 L1095.5 410.1 L1097.5 408.9 L1099.4 407.5 L1101.4 405.9 L1103.3 404.2 L1105.2 402.4 L1107.0 400.4 L1108.8 398.4 L1110.5 396.2 L1112.1 393.9 L1113.6 391.6 L1115.1 389.2 L1116.5 386.7 L1117.7 384.2 L1118.8 381.7 L1119.9 379.2 L1120.8 376.6 L1121.5 374.0 L1122.2 371.5 L1122.7 369.0 L1123.1 366.5 L1123.3 364.1 L1123.4 361.8 L1123.4 359.5 L1123.2 357.3 L1122.9 355.2 L1122.5 353.3 L1121.9 351.4 L1121.2 349.7 L1120.3 348.1 L1119.4 346.6 L1118.3 345.3 L1117.1 344.2 L1115.8 343.2 L1114.4 342.4 L1112.9 341.8 L1111.3 341.3 L1109.6 341.0 L1107.9 340.9 L1106.1 341.0 L1104.3 341.2 L1102.4 341.6 L1100.4 342.2 L1098.5 343.0 L1096.5 344.0 L1094.5 345.1 L1092.5 346.3 L1090.6 347.7 L1088.6 349.3 L1086.7 351.0 L1084.8 352.8 L1085.0 361.6 L1083.6 363.3 L1082.3 365.1 L1080.5 365.7 Z" fill="#fcfdfc" stroke="#0a0a0a" stroke-width="1.6" />
<path d="M1086.3 420.3 L1084.0 420.8 L1081.8 421.1 L1079.7 421.1 L1077.6 421.0 L1075.7 420.7 L1073.8 420.1 L1072.0 419.4 L1070.3 418.4 L1068.8 417.2 L1067.4 415.9 L1066.1 414.4 L1064.9 412.6 L1064.0 410.7 L1063.1 408.7 L1062.4 406.5 L1061.9 404.1 L1061.5 401.7 L1061.3 399.1 L1061.3 396.4 L1061.4 393.6 L1061.7 390.7 L1062.1 387.8 L1062.7 384.8 L1063.5 381.8 L1064.4 378.8 L1065.5 375.8 L1066.7 372.7 L1068.1 369.7" fill="none" stroke="#0a0a0a" stroke-width="2.5" />
<path d="M1099.9 342.4 L1101.9 341.8 L1103.9 341.3 L1105.8 341.0 L1107.6 340.9 L1109.4 341.0 L1111.1 341.3 L1112.7 341.7 L1114.3 342.3 L1115.7 343.1 L1117.0 344.1 L1118.2 345.3 L1119.4 346.6 L1120.3 348.1 L1121.2 349.7 L1121.9 351.5 L1122.5 353.4 L1122.9 355.4 L1123.2 357.5 L1123.4 359.8 L1123.4 362.1 L1123.3 364.5 L1123.0 367.0 L1122.6 369.5 L1122.1 372.1 L1121.4 374.7 L1120.5 377.3 L1119.6 379.9 L1118.5 382.5 L1117.3 385.1 L1116.0 387.6 L1114.6 390.1 L1113.1 392.5 L1111.5 394.9 L1109.8 397.1 L1108.0 399.3 L1106.2 401.3 L1104.3 403.3 L1102.4 405.1" fill="none" stroke="#0a0a0a" stroke-width="2.1" />
<g clip-path="url(#c7)">
<path d="M1085.2 348.7 L1087.2 347.1 L1089.1 345.6 L1091.1 344.3 L1093.1 343.1 L1095.1 342.1 L1097.0 341.2 L1099.0 340.5 L1100.9 340.0 L1102.8 339.7 L1104.6 339.5 L1106.4 339.5 L1108.1 339.7 L1109.7 340.1 L1111.2 340.7 L1112.7 341.4 L1114.0 342.3 L1115.3 343.3 L1116.4 344.6 L1117.4 345.9 L1118.3 347.5 L1119.1 349.1 L1119.8 350.9 L1120.3 352.8 L1120.7 354.9 L1120.9 357.0 L1121.0 359.2 L1121.0 361.5 L1120.8 363.9 L1120.5 366.4 L1120.0 368.8 L1119.5 371.4 L1118.7 373.9 L1117.9 376.5 L1116.9 379.0 L1115.9 381.6 L1114.7 384.1 L1113.4 386.6 L1112.0 389.0 L1110.5 391.4 L1108.9 393.7 L1107.2 395.9 L1105.5 398.0 L1103.7 400.0 L1101.8 401.9 L1099.9 403.7 L1098.0 405.3 L1096.0 406.8 L1094.1 408.1 L1092.1 409.3 L1090.1 410.3 L1088.1 411.2 L1086.2 411.9 L1084.3 412.4 L1082.4 412.7 L1080.6 412.9 L1078.8 412.9 L1077.1 412.7 L1075.5 412.3 L1073.9 411.7 L1072.5 411.0 L1071.1 410.1 L1069.9 409.1 L1068.7 407.8 L1067.7 406.5 L1066.8 404.9" fill="none" stroke="#0a0a0a" stroke-width="1.0" />
</g>
<ellipse cx="1073.3" cy="375.3" rx="2.80" ry="1.62" transform="rotate(-60 1073.3 375.3)" fill="none" stroke="#0a0a0a" stroke-width="1.1" />
<ellipse cx="1082.1" cy="360.0" rx="2.80" ry="1.62" transform="rotate(-60 1082.1 360.0)" fill="none" stroke="#0a0a0a" stroke-width="1.1" />
<path d="M1128.5 442.4 L1127.2 441.5 L1126.0 440.5 L1124.9 439.3 L1123.9 438.0 L1123.1 436.6 L1122.3 435.0 L1121.7 433.3 L1121.2 431.5 L1120.9 429.5 L1120.6 427.5 L1120.5 425.4 L1120.6 423.2 L1120.7 420.9 L1121.0 418.6 L1121.4 416.2 L1122.0 413.8 L1122.7 411.4 L1123.5 408.9 L1124.4 406.5 L1125.4 404.1 L1126.6 401.7 L1127.8 399.3 L1129.1 397.0 L1130.6 394.7 L1132.1 392.6 L1133.7 390.4 L1135.3 388.4 L1137.0 386.5 L1138.8 384.7 L1140.6 383.0 L1142.4 381.5 L1144.3 380.1 L1146.2 378.8 L1148.1 377.7 L1150.0 376.7 L1151.8 375.9 L1153.7 375.2 L1155.5 374.7 L1157.3 374.4 L1159.1 374.3 L1160.7 374.3 L1162.4 374.5 L1163.9 374.8 L1165.4 375.3 L1166.8 376.0 L1174.6 380.5 L1175.8 381.4 L1177.0 382.4 L1178.1 383.6 L1179.1 384.9 L1179.9 386.3 L1180.7 387.9 L1181.3 389.6 L1181.8 391.4 L1182.1 393.4 L1182.4 395.4 L1182.5 397.5 L1182.4 399.7 L1182.3 402.0 L1182.0 404.3 L1181.6 406.7 L1181.0 409.1 L1180.3 411.5 L1179.5 414.0 L1178.6 416.4 L1177.6 418.8 L1176.4 421.2 L1175.2 423.6 L1173.9 425.9 L1172.4 428.2 L1170.9 430.3 L1169.3 432.5 L1167.7 434.5 L1166.0 436.4 L1164.2 438.2 L1162.4 439.9 L1160.6 441.4 L1158.7 442.8 L1156.8 444.1 L1154.9 445.2 L1153.0 446.2 L1151.2 447.0 L1149.3 447.7 L1147.5 448.2 L1145.7 448.5 L1144.0 448.6 L1142.3 448.6 L1140.6 448.4 L1139.1 448.1 L1137.6 447.6 L1136.2 446.9 Z" fill="#fcfdfc" stroke="#0a0a0a" stroke-width="1.4" />
<ellipse cx="1155.4" cy="413.7" rx="38.30" ry="22.11" transform="rotate(-60 1155.4 413.7)" fill="#fcfdfc" stroke="#0a0a0a" stroke-width="1.6" />
<path d="M1151.6 446.8 L1149.8 447.5 L1147.9 448.1 L1146.1 448.4 L1144.4 448.6 L1142.7 448.7 L1141.0 448.5 L1139.5 448.2 L1138.0 447.7 L1136.6 447.1 L1135.3 446.2 L1134.1 445.3 L1132.9 444.1 L1131.9 442.9 L1131.1 441.5 L1130.3 439.9 L1129.6 438.2 L1129.1 436.4 L1128.7 434.5 L1128.5 432.5 L1128.3 430.4 L1128.3 428.2 L1128.5 426.0 L1128.7 423.7 L1129.1 421.3 L1129.6 418.9 L1130.3 416.5 L1131.1 414.0 L1131.9 411.6 L1132.9 409.2 L1134.1 406.8 L1135.3 404.4 L1136.6 402.1 L1138.0 399.8 L1139.5 397.6 L1141.0 395.5 L1142.7 393.4 L1144.4 391.5 L1146.1 389.7 L1147.9 387.9 L1149.8 386.4 L1151.6 384.9" fill="none" stroke="#0a0a0a" stroke-width="1.9" />
<path d="M1141.0 448.5 L1139.5 448.2 L1138.0 447.7 L1136.6 447.1 L1135.3 446.2 L1134.1 445.3 L1132.9 444.1 L1131.9 442.9 L1131.1 441.5 L1130.3 439.9 L1129.6 438.2 L1129.1 436.4 L1128.7 434.5 L1128.5 432.5 L1128.3 430.4 L1128.3 428.2 L1128.5 426.0 L1128.7 423.7 L1129.1 421.3 L1129.6 418.9 L1130.3 416.5 L1131.1 414.0 L1131.9 411.6 L1132.9 409.2 L1134.1 406.8 L1135.3 404.4 L1136.6 402.1 L1138.0 399.8 L1139.5 397.6 L1141.0 395.5" fill="none" stroke="#0a0a0a" stroke-width="2.3" />
<ellipse cx="1155.4" cy="413.7" rx="34.00" ry="19.63" transform="rotate(-60 1155.4 413.7)" fill="none" stroke="#0a0a0a" stroke-width="1.5" />
<g clip-path="url(#c8)">
<ellipse cx="1147.6" cy="409.2" rx="34.00" ry="19.63" transform="rotate(-60 1147.6 409.2)" fill="none" stroke="#0a0a0a" stroke-width="1.4" />
</g>
<line x1="538.3" y1="54.8" x2="586.3" y2="82.4" stroke="#fcfdfc" stroke-width="9.0" stroke-linecap="butt"/>
<line x1="617.8" y1="101.2" x2="665.6" y2="128.6" stroke="#fcfdfc" stroke-width="9.0" stroke-linecap="butt"/>
<line x1="695.0" y1="145.8" x2="742.0" y2="173.2" stroke="#fcfdfc" stroke-width="9.0" stroke-linecap="butt"/>
<line x1="765.6" y1="187.5" x2="813.6" y2="214.3" stroke="#fcfdfc" stroke-width="9.0" stroke-linecap="butt"/>
<line x1="831.3" y1="225.0" x2="860.2" y2="240.7" stroke="#fcfdfc" stroke-width="9.0" stroke-linecap="butt"/>
<line x1="912.3" y1="270.7" x2="937.1" y2="284.7" stroke="#fcfdfc" stroke-width="9.0" stroke-linecap="butt"/>
<line x1="956.5" y1="297.1" x2="982.3" y2="311.1" stroke="#fcfdfc" stroke-width="9.0" stroke-linecap="butt"/>
<line x1="995.5" y1="319.7" x2="1013.7" y2="329.6" stroke="#fcfdfc" stroke-width="9.0" stroke-linecap="butt"/>
<line x1="1040.8" y1="345.9" x2="1069.1" y2="360.7" stroke="#fcfdfc" stroke-width="9.0" stroke-linecap="butt"/>
<line x1="1095.0" y1="376.3" x2="1123.4" y2="392.3" stroke="#fcfdfc" stroke-width="9.0" stroke-linecap="butt"/>
<line x1="537.0" y1="54.0" x2="589.3" y2="84.2" stroke="#0a0a0a" stroke-width="1.6" />
<line x1="616.5" y1="100.5" x2="668.6" y2="130.3" stroke="#0a0a0a" stroke-width="1.6" />
<line x1="693.7" y1="145.0" x2="745.0" y2="175.0" stroke="#0a0a0a" stroke-width="1.6" />
<line x1="764.3" y1="186.8" x2="816.7" y2="216.0" stroke="#0a0a0a" stroke-width="1.6" />
<line x1="830.0" y1="224.3" x2="863.3" y2="242.4" stroke="#0a0a0a" stroke-width="1.6" />
<line x1="911.0" y1="270.0" x2="940.1" y2="286.4" stroke="#0a0a0a" stroke-width="1.6" />
<line x1="955.2" y1="296.4" x2="985.4" y2="312.8" stroke="#0a0a0a" stroke-width="1.6" />
<line x1="994.2" y1="319.0" x2="1016.8" y2="331.3" stroke="#0a0a0a" stroke-width="1.6" />
<line x1="1039.5" y1="345.2" x2="1072.2" y2="362.3" stroke="#0a0a0a" stroke-width="1.6" />
<line x1="1093.7" y1="375.6" x2="1126.5" y2="394.0" stroke="#0a0a0a" stroke-width="1.6" />
<path d="M62.8 465.8 L61.3 464.7 L59.8 463.5 L58.5 462.1 L57.3 460.5 L56.2 458.7 L55.3 456.8 L54.6 454.7 L54.0 452.5 L53.6 450.1 L53.3 447.6 L53.2 445.0 L53.2 442.3 L53.4 439.6 L53.8 436.7 L54.3 433.8 L55.0 430.9 L55.8 427.9 L56.8 424.9 L57.9 421.9 L59.1 419.0 L60.5 416.1 L62.0 413.2 L63.7 410.3 L65.4 407.6 L67.3 404.9 L69.2 402.3 L71.2 399.9 L73.3 397.5 L75.5 395.3 L77.7 393.3 L79.9 391.4 L82.2 389.7 L84.5 388.1 L86.8 386.7 L89.1 385.5 L91.4 384.5 L93.7 383.7 L95.9 383.1 L98.1 382.7 L100.2 382.5 L102.3 382.6 L104.3 382.8 L106.2 383.2 L108.0 383.9 L109.6 384.7 L119.6 390.5 L121.2 391.5 L122.6 392.7 L124.0 394.2 L125.1 395.8 L126.2 397.5 L127.1 399.5 L127.8 401.6 L128.4 403.8 L128.9 406.2 L129.2 408.6 L129.3 411.2 L129.2 413.9 L129.0 416.7 L128.7 419.5 L128.2 422.4 L127.5 425.4 L126.7 428.3 L125.7 431.3 L124.6 434.3 L123.3 437.3 L121.9 440.2 L120.4 443.1 L118.8 445.9 L117.0 448.7 L115.2 451.3 L113.2 453.9 L111.2 456.4 L109.1 458.7 L107.0 460.9 L104.8 463.0 L102.5 464.9 L100.2 466.6 L97.9 468.2 L95.6 469.5 L93.3 470.7 L91.0 471.7 L88.8 472.5 L86.5 473.1 L84.3 473.5 L82.2 473.7 L80.2 473.7 L78.2 473.5 L76.3 473.0 L74.5 472.4 L72.8 471.5 Z" fill="#fcfdfc" stroke="#0a0a0a" stroke-width="1.4" />
<ellipse cx="96.2" cy="431.0" rx="46.80" ry="27.02" transform="rotate(-60 96.2 431.0)" fill="#fcfdfc" stroke="#0a0a0a" stroke-width="1.4" />
<ellipse cx="96.2" cy="431.0" rx="20.60" ry="11.89" transform="rotate(-60 96.2 431.0)" fill="none" stroke="#0a0a0a" stroke-width="1.4" />
<g clip-path="url(#c9)">
<ellipse cx="90.6" cy="427.8" rx="20.60" ry="11.89" transform="rotate(-60 90.6 427.8)" fill="none" stroke="#0a0a0a" stroke-width="1.2" />
</g>
<path d="M141.9 450.7 L143.8 448.0 L145.8 445.3 L147.8 442.8 L149.9 440.4 L152.1 438.2 L154.4 436.1 L156.6 434.1 L159.0 432.3 L161.3 430.7 L163.7 429.3 L166.0 428.1 L168.3 427.0 L170.7 426.2 L172.9 425.6 L175.2 425.2 L177.3 425.0 L179.4 425.0 L181.4 425.2 L183.4 425.6 L185.2 426.3 L186.9 427.1 L188.6 428.1 L190.0 429.4 L191.4 430.8 L192.6 432.4 L193.7 434.2 L194.6 436.2 L195.4 438.3 L196.0 440.6 L196.5 443.0 L196.8 445.5 L196.9 448.1 L196.8 450.9 L196.6 453.7 L196.3 456.6 L195.8 459.5 L195.1 462.5 L194.2 465.6 L193.2 468.6 L192.1 471.6 L190.8 474.6 L189.4 477.6 L187.9 480.6 L186.2 483.4 L184.4 486.2 L182.6 489.0 L180.6 491.6 L178.5 494.1 L176.4 496.5 L174.2 498.7 L171.9 500.8 L169.7 502.7 L167.3 504.5 L165.0 506.1 L162.6 507.5 L160.3 508.7 L158.0 509.7 L155.6 510.5 L153.4 511.1 L151.2 511.5 L149.0 511.6 L146.9 511.6 L144.9 511.4 L143.0 510.9 L141.2 510.2 L139.4 509.4 L137.8 508.3 L136.4 507.0 L135.0 505.6 L133.8 503.9 L132.8 502.1 L131.9 500.1 L131.1 498.0 L130.5 495.7 L130.1 493.3 L129.8 490.8 L129.7 488.1 L129.8 485.4 L130.0 482.5 L130.4 479.6 L130.9 476.7 L131.6 473.7 L132.5 470.7 L133.5 467.6 L134.7 464.6 L136.0 461.6 L137.4 458.6 L145.8 461.8 L146.2 463.6 L145.4 465.6 L144.6 467.6 L136.9 471.8 L136.9 471.8 L136.3 474.4 L135.7 476.9 L135.4 479.3 L135.1 481.7 L135.0 484.1 L135.1 486.3 L135.2 488.5 L135.5 490.6 L136.0 492.5 L136.6 494.4 L137.3 496.1 L138.1 497.7 L139.1 499.1 L140.1 500.4 L141.3 501.5 L142.6 502.5 L144.0 503.3 L145.5 504.0 L147.1 504.4 L148.7 504.7 L150.5 504.8 L152.2 504.7 L154.1 504.5 L156.0 504.1 L157.9 503.5 L159.9 502.7 L161.8 501.8 L163.8 500.7 L165.8 499.4 L167.7 498.0 L169.7 496.4 L171.6 494.8 L173.4 492.9 L175.3 491.0 L177.0 488.9 L178.7 486.8 L180.3 484.6 L181.9 482.2 L183.3 479.8 L184.6 477.4 L185.9 474.9 L187.0 472.4 L188.0 469.9 L188.9 467.3 L189.7 464.8 L190.3 462.2 L190.9 459.7 L191.2 457.3 L191.5 454.9 L191.6 452.5 L191.5 450.3 L191.4 448.1 L191.1 446.0 L190.6 444.1 L190.0 442.2 L189.3 440.5 L188.5 438.9 L187.5 437.5 L186.5 436.2 L185.3 435.1 L184.0 434.1 L182.6 433.3 L181.1 432.6 L179.5 432.2 L177.9 431.9 L176.1 431.8 L174.4 431.9 L172.5 432.1 L170.6 432.5 L168.7 433.1 L166.7 433.9 L164.8 434.8 L162.8 435.9 L160.8 437.2 L158.9 438.6 L156.9 440.2 L155.0 441.8 L153.2 443.7 L153.3 452.4 L152.0 454.1 L150.7 455.9 L148.9 456.4 Z" fill="#fcfdfc" stroke="#0a0a0a" stroke-width="1.6" />
<path d="M154.6 510.8 L152.4 511.3 L150.2 511.6 L148.1 511.7 L146.0 511.5 L144.0 511.2 L142.2 510.6 L140.4 509.9 L138.7 508.9 L137.2 507.8 L135.8 506.4 L134.5 504.9 L133.4 503.2 L132.4 501.3 L131.5 499.3 L130.9 497.1 L130.3 494.7 L130.0 492.3 L129.8 489.7 L129.7 487.0 L129.8 484.2 L130.1 481.4 L130.6 478.5 L131.2 475.5 L131.9 472.5 L132.9 469.5 L133.9 466.5 L135.1 463.4 L136.5 460.4" fill="none" stroke="#0a0a0a" stroke-width="2.5" />
<path d="M168.2 433.3 L170.2 432.6 L172.1 432.2 L174.0 431.9 L175.8 431.8 L177.6 431.9 L179.3 432.1 L180.9 432.6 L182.5 433.2 L183.9 434.0 L185.2 435.0 L186.4 436.2 L187.5 437.5 L188.5 438.9 L189.4 440.6 L190.1 442.3 L190.7 444.2 L191.1 446.2 L191.4 448.3 L191.6 450.6 L191.6 452.9 L191.4 455.3 L191.2 457.7 L190.8 460.2 L190.2 462.8 L189.5 465.4 L188.7 468.0 L187.8 470.6 L186.7 473.2 L185.5 475.7 L184.2 478.2 L182.8 480.7 L181.3 483.1 L179.7 485.5 L178.0 487.7 L176.2 489.9 L174.4 491.9 L172.5 493.8 L170.6 495.6" fill="none" stroke="#0a0a0a" stroke-width="2.1" />
<g clip-path="url(#c10)">
<path d="M153.6 439.6 L155.5 438.0 L157.4 436.5 L159.4 435.1 L161.4 434.0 L163.3 432.9 L165.3 432.1 L167.2 431.4 L169.1 430.9 L171.0 430.6 L172.8 430.4 L174.6 430.4 L176.3 430.6 L177.9 431.0 L179.4 431.5 L180.9 432.3 L182.2 433.1 L183.5 434.2 L184.6 435.4 L185.6 436.8 L186.5 438.3 L187.3 440.0 L187.9 441.7 L188.4 443.6 L188.8 445.7 L189.1 447.8 L189.2 450.0 L189.1 452.3 L188.9 454.7 L188.6 457.1 L188.2 459.6 L187.6 462.1 L186.9 464.6 L186.1 467.2 L185.1 469.7 L184.0 472.3 L182.9 474.8 L181.6 477.2 L180.2 479.6 L178.7 482.0 L177.1 484.3 L175.4 486.5 L173.7 488.6 L171.9 490.6 L170.1 492.5 L168.2 494.2 L166.3 495.8 L164.3 497.3 L162.4 498.7 L160.4 499.8 L158.4 500.9 L156.5 501.7 L154.5 502.4 L152.6 502.9 L150.7 503.2 L148.9 503.4 L147.2 503.4 L145.5 503.2 L143.9 502.8 L142.3 502.3 L140.9 501.5 L139.5 500.7 L138.3 499.6 L137.2 498.4 L136.1 497.0 L135.2 495.5" fill="none" stroke="#0a0a0a" stroke-width="1.0" />
</g>
<ellipse cx="141.7" cy="466.0" rx="2.80" ry="1.62" transform="rotate(-60 141.7 466.0)" fill="none" stroke="#0a0a0a" stroke-width="1.1" />
<ellipse cx="150.5" cy="450.8" rx="2.80" ry="1.62" transform="rotate(-60 150.5 450.8)" fill="none" stroke="#0a0a0a" stroke-width="1.1" />
<ellipse cx="217.4" cy="499.0" rx="46.70" ry="26.96" transform="rotate(-60 217.4 499.0)" fill="#fcfdfc" stroke="#0a0a0a" stroke-width="1.45" />
<path d="M212.8 539.4 L210.5 540.3 L208.3 540.9 L206.1 541.4 L204.0 541.6 L201.9 541.6 L199.9 541.4 L198.0 541.1 L196.2 540.5 L194.5 539.7 L192.9 538.7 L191.4 537.5 L190.0 536.1 L188.8 534.6 L187.7 532.9 L186.8 531.0 L186.0 528.9 L185.4 526.7 L184.9 524.4 L184.6 521.9 L184.4 519.4 L184.4 516.7 L184.6 514.0 L184.9 511.2 L185.4 508.3 L186.0 505.3 L186.8 502.4 L187.7 499.4 L188.8 496.4 L190.0 493.5 L191.4 490.5 L192.9 487.7 L194.5 484.8 L196.2 482.0 L198.0 479.4 L199.9 476.8 L201.9 474.3 L204.0 471.9 L206.1 469.7 L208.3 467.6 L210.5 465.7 L212.8 463.9" fill="none" stroke="#0a0a0a" stroke-width="1.9" />
<path d="M199.9 541.4 L198.0 541.1 L196.2 540.5 L194.5 539.7 L192.9 538.7 L191.4 537.5 L190.0 536.1 L188.8 534.6 L187.7 532.9 L186.8 531.0 L186.0 528.9 L185.4 526.7 L184.9 524.4 L184.6 521.9 L184.4 519.4 L184.4 516.7 L184.6 514.0 L184.9 511.2 L185.4 508.3 L186.0 505.3 L186.8 502.4 L187.7 499.4 L188.8 496.4 L190.0 493.5 L191.4 490.5 L192.9 487.7 L194.5 484.8 L196.2 482.0 L198.0 479.4 L199.9 476.8" fill="none" stroke="#0a0a0a" stroke-width="2.5" />
<ellipse cx="217.4" cy="499.0" rx="38.30" ry="22.11" transform="rotate(-60 217.4 499.0)" fill="none" stroke="#0a0a0a" stroke-width="1.3" />
<g clip-path="url(#c11)">
<ellipse cx="213.4" cy="496.7" rx="38.30" ry="22.11" transform="rotate(-60 213.4 496.7)" fill="none" stroke="#0a0a0a" stroke-width="1.3" />
<path d="M217.2 463.6 L219.0 462.9 L220.9 462.3 L222.7 462.0 L224.4 461.8 L226.1 461.7 L227.8 461.9 L229.3 462.2 L230.8 462.7 L232.2 463.3 L233.5 464.2 L234.8 465.1 L235.9 466.3 L236.9 467.5 L237.8 468.9 L238.5 470.5 L239.2 472.2 L239.7 474.0 L240.1 475.9 L240.4 477.9 L240.5 480.0 L240.5 482.2 L240.4 484.4 L240.1 486.7 L239.7 489.1 L239.2 491.5 L238.5 493.9 L237.8 496.4 L236.9 498.8 L235.9 501.2 L234.8 503.6 L233.5 506.0 L232.2 508.3 L230.8 510.6 L229.3 512.8 L227.8 514.9 L226.1 517.0 L224.4 518.9 L222.7 520.7 L220.9 522.5 L219.0 524.0 L217.2 525.5" fill="none" stroke="#0a0a0a" stroke-width="1.8" />
<path d="M227.8 461.9 L229.3 462.2 L230.8 462.7 L232.2 463.3 L233.5 464.2 L234.8 465.1 L235.9 466.3 L236.9 467.5 L237.8 468.9 L238.5 470.5 L239.2 472.2 L239.7 474.0 L240.1 475.9 L240.4 477.9 L240.5 480.0 L240.5 482.2 L240.4 484.4 L240.1 486.7 L239.7 489.1 L239.2 491.5 L238.5 493.9 L237.8 496.4 L236.9 498.8 L235.9 501.2 L234.8 503.6 L233.5 506.0 L232.2 508.3 L230.8 510.6 L229.3 512.8 L227.8 514.9" fill="none" stroke="#0a0a0a" stroke-width="2.3" />
</g>
<path d="M255.8 572.8 L254.2 571.8 L252.8 570.6 L251.4 569.2 L250.3 567.6 L249.2 565.8 L248.3 563.9 L247.6 561.8 L247.0 559.6 L246.5 557.2 L246.2 554.7 L246.1 552.1 L246.2 549.4 L246.4 546.7 L246.7 543.8 L247.2 540.9 L247.9 538.0 L248.7 535.1 L249.7 532.1 L250.8 529.1 L252.1 526.1 L253.5 523.2 L255.0 520.3 L256.6 517.5 L258.4 514.8 L260.2 512.1 L262.1 509.5 L264.2 507.1 L266.2 504.8 L268.4 502.6 L270.6 500.5 L272.8 498.6 L275.1 496.9 L277.4 495.3 L279.7 493.9 L282.0 492.8 L284.3 491.8 L286.6 491.0 L288.8 490.4 L291.0 490.0 L293.1 489.8 L295.2 489.8 L297.1 490.0 L299.0 490.5 L300.8 491.1 L302.5 492.0 L316.4 500.0 L317.9 501.0 L319.4 502.2 L320.7 503.6 L321.9 505.2 L322.9 507.0 L323.8 508.9 L324.6 511.0 L325.2 513.2 L325.6 515.6 L325.9 518.1 L326.0 520.7 L326.0 523.4 L325.8 526.1 L325.4 529.0 L324.9 531.9 L324.2 534.8 L323.4 537.7 L322.4 540.7 L321.3 543.7 L320.0 546.7 L318.7 549.6 L317.2 552.5 L315.5 555.3 L313.8 558.0 L311.9 560.7 L310.0 563.3 L308.0 565.7 L305.9 568.0 L303.8 570.2 L301.5 572.3 L299.3 574.2 L297.0 575.9 L294.7 577.5 L292.4 578.9 L290.1 580.0 L287.8 581.0 L285.6 581.8 L283.3 582.4 L281.2 582.8 L279.0 583.0 L277.0 583.0 L275.0 582.8 L273.1 582.3 L271.3 581.7 L269.6 580.8 Z" fill="#fcfdfc" stroke="#0a0a0a" stroke-width="1.4" />
<ellipse cx="293.0" cy="540.4" rx="46.70" ry="26.96" transform="rotate(-60 293.0 540.4)" fill="#fcfdfc" stroke="#0a0a0a" stroke-width="1.5" />
<ellipse cx="293.0" cy="540.4" rx="42.10" ry="24.31" transform="rotate(-60 293.0 540.4)" fill="none" stroke="#0a0a0a" stroke-width="1.1" />
<ellipse cx="293.0" cy="540.4" rx="37.90" ry="21.88" transform="rotate(-60 293.0 540.4)" fill="none" stroke="#0a0a0a" stroke-width="1.2" />
<ellipse cx="293.0" cy="540.4" rx="34.20" ry="19.75" transform="rotate(-60 293.0 540.4)" fill="none" stroke="#0a0a0a" stroke-width="0.8" />
<ellipse cx="293.0" cy="540.4" rx="29.20" ry="16.86" transform="rotate(-60 293.0 540.4)" fill="none" stroke="#0a0a0a" stroke-width="1.2" />
<ellipse cx="293.0" cy="540.4" rx="25.20" ry="14.55" transform="rotate(-60 293.0 540.4)" fill="none" stroke="#0a0a0a" stroke-width="1.1" />
<line x1="311.1" y1="509.0" x2="308.1" y2="514.2" stroke="#0a0a0a" stroke-width="1.0" />
<line x1="318.3" y1="521.2" x2="314.1" y2="524.4" stroke="#0a0a0a" stroke-width="1.0" />
<line x1="315.8" y1="540.7" x2="312.0" y2="540.6" stroke="#0a0a0a" stroke-width="1.0" />
<line x1="304.6" y1="560.0" x2="302.7" y2="556.8" stroke="#0a0a0a" stroke-width="1.0" />
<line x1="289.0" y1="571.9" x2="289.7" y2="566.7" stroke="#0a0a0a" stroke-width="1.0" />
<line x1="274.9" y1="571.8" x2="277.9" y2="566.6" stroke="#0a0a0a" stroke-width="1.0" />
<line x1="267.7" y1="559.6" x2="271.9" y2="556.4" stroke="#0a0a0a" stroke-width="1.0" />
<line x1="270.2" y1="540.1" x2="274.0" y2="540.2" stroke="#0a0a0a" stroke-width="1.0" />
<line x1="281.4" y1="520.8" x2="283.3" y2="524.0" stroke="#0a0a0a" stroke-width="1.0" />
<line x1="297.0" y1="508.9" x2="296.3" y2="514.1" stroke="#0a0a0a" stroke-width="1.0" />
<ellipse cx="293.0" cy="540.4" rx="20.70" ry="11.95" transform="rotate(-60 293.0 540.4)" fill="#fcfdfc" stroke="#0a0a0a" stroke-width="1.5" />
<g clip-path="url(#c12)">
<ellipse cx="285.2" cy="535.9" rx="20.70" ry="11.95" transform="rotate(-60 285.2 535.9)" fill="none" stroke="#0a0a0a" stroke-width="1.2" />
</g>
<ellipse cx="344.8" cy="575.8" rx="26.60" ry="15.36" transform="rotate(-60 344.8 575.8)" fill="#fcfdfc" stroke="#0a0a0a" stroke-width="1.45" />
<path d="M342.2 598.8 L340.9 599.3 L339.6 599.7 L338.4 599.9 L337.1 600.1 L336.0 600.1 L334.8 600.0 L333.7 599.8 L332.7 599.4 L331.7 599.0 L330.8 598.4 L330.0 597.7 L329.2 596.9 L328.5 596.1 L327.9 595.1 L327.4 594.0 L326.9 592.8 L326.5 591.6 L326.3 590.3 L326.1 588.9 L326.0 587.4 L326.0 585.9 L326.1 584.3 L326.3 582.7 L326.5 581.1 L326.9 579.4 L327.4 577.7 L327.9 576.0 L328.5 574.3 L329.2 572.7 L330.0 571.0 L330.8 569.3 L331.7 567.7 L332.7 566.1 L333.7 564.6 L334.8 563.1 L336.0 561.7 L337.1 560.4 L338.4 559.1 L339.6 557.9 L340.9 556.8 L342.2 555.8" fill="none" stroke="#0a0a0a" stroke-width="2.0" />
<path d="M334.8 600.0 L333.7 599.8 L332.7 599.4 L331.7 599.0 L330.8 598.4 L330.0 597.7 L329.2 596.9 L328.5 596.1 L327.9 595.1 L327.4 594.0 L326.9 592.8 L326.5 591.6 L326.3 590.3 L326.1 588.9 L326.0 587.4 L326.0 585.9 L326.1 584.3 L326.3 582.7 L326.5 581.1 L326.9 579.4 L327.4 577.7 L327.9 576.0 L328.5 574.3 L329.2 572.7 L330.0 571.0 L330.8 569.3 L331.7 567.7 L332.7 566.1 L333.7 564.6 L334.8 563.1" fill="none" stroke="#0a0a0a" stroke-width="2.7" />
<ellipse cx="344.8" cy="575.8" rx="22.00" ry="12.70" transform="rotate(-60 344.8 575.8)" fill="none" stroke="#0a0a0a" stroke-width="1.3" />
<path d="M347.0 556.8 L348.0 556.4 L349.1 556.1 L350.1 555.8 L351.1 555.7 L352.1 555.7 L353.0 555.8 L353.9 556.0 L354.8 556.3 L355.6 556.6 L356.4 557.1 L357.1 557.7 L357.7 558.3 L358.3 559.0 L358.8 559.9 L359.2 560.7 L359.6 561.7 L359.9 562.7 L360.1 563.8 L360.3 565.0 L360.3 566.2 L360.3 567.5 L360.3 568.7 L360.1 570.1 L359.9 571.4 L359.6 572.8 L359.2 574.2 L358.8 575.6 L358.3 577.0 L357.7 578.4 L357.1 579.8 L356.4 581.1 L355.6 582.5 L354.8 583.8 L353.9 585.1 L353.0 586.3 L352.1 587.4 L351.1 588.6 L350.1 589.6 L349.1 590.6 L348.0 591.5 L347.0 592.3" fill="none" stroke="#0a0a0a" stroke-width="1.9" />
<path d="M353.0 555.8 L353.9 556.0 L354.8 556.3 L355.6 556.6 L356.4 557.1 L357.1 557.7 L357.7 558.3 L358.3 559.0 L358.8 559.9 L359.2 560.7 L359.6 561.7 L359.9 562.7 L360.1 563.8 L360.3 565.0 L360.3 566.2 L360.3 567.5 L360.3 568.7 L360.1 570.1 L359.9 571.4 L359.6 572.8 L359.2 574.2 L358.8 575.6 L358.3 577.0 L357.7 578.4 L357.1 579.8 L356.4 581.1 L355.6 582.5 L354.8 583.8 L353.9 585.1 L353.0 586.3" fill="none" stroke="#0a0a0a" stroke-width="2.5" />
<ellipse cx="392.2" cy="602.7" rx="26.60" ry="15.36" transform="rotate(-60 392.2 602.7)" fill="#fcfdfc" stroke="#0a0a0a" stroke-width="1.45" />
<path d="M389.6 625.7 L388.3 626.2 L387.0 626.6 L385.8 626.8 L384.5 627.0 L383.4 627.0 L382.2 626.9 L381.1 626.7 L380.1 626.3 L379.1 625.9 L378.2 625.3 L377.4 624.6 L376.6 623.8 L375.9 623.0 L375.3 622.0 L374.8 620.9 L374.3 619.7 L373.9 618.5 L373.7 617.2 L373.5 615.8 L373.4 614.3 L373.4 612.8 L373.5 611.2 L373.7 609.6 L373.9 608.0 L374.3 606.3 L374.8 604.6 L375.3 602.9 L375.9 601.2 L376.6 599.6 L377.4 597.9 L378.2 596.2 L379.1 594.6 L380.1 593.0 L381.1 591.5 L382.2 590.0 L383.4 588.6 L384.5 587.3 L385.8 586.0 L387.0 584.8 L388.3 583.7 L389.6 582.7" fill="none" stroke="#0a0a0a" stroke-width="2.0" />
<path d="M382.2 626.9 L381.1 626.7 L380.1 626.3 L379.1 625.9 L378.2 625.3 L377.4 624.6 L376.6 623.8 L375.9 623.0 L375.3 622.0 L374.8 620.9 L374.3 619.7 L373.9 618.5 L373.7 617.2 L373.5 615.8 L373.4 614.3 L373.4 612.8 L373.5 611.2 L373.7 609.6 L373.9 608.0 L374.3 606.3 L374.8 604.6 L375.3 602.9 L375.9 601.2 L376.6 599.6 L377.4 597.9 L378.2 596.2 L379.1 594.6 L380.1 593.0 L381.1 591.5 L382.2 590.0" fill="none" stroke="#0a0a0a" stroke-width="2.7" />
<ellipse cx="392.2" cy="602.7" rx="22.00" ry="12.70" transform="rotate(-60 392.2 602.7)" fill="none" stroke="#0a0a0a" stroke-width="1.3" />
<path d="M394.4 583.7 L395.4 583.3 L396.5 583.0 L397.5 582.7 L398.5 582.6 L399.5 582.6 L400.4 582.7 L401.3 582.9 L402.2 583.2 L403.0 583.5 L403.8 584.0 L404.5 584.6 L405.1 585.2 L405.7 585.9 L406.2 586.8 L406.6 587.6 L407.0 588.6 L407.3 589.6 L407.5 590.7 L407.7 591.9 L407.7 593.1 L407.7 594.4 L407.7 595.6 L407.5 597.0 L407.3 598.3 L407.0 599.7 L406.6 601.1 L406.2 602.5 L405.7 603.9 L405.1 605.3 L404.5 606.7 L403.8 608.0 L403.0 609.4 L402.2 610.7 L401.3 612.0 L400.4 613.2 L399.5 614.3 L398.5 615.5 L397.5 616.5 L396.5 617.5 L395.4 618.4 L394.4 619.2" fill="none" stroke="#0a0a0a" stroke-width="1.9" />
<path d="M400.4 582.7 L401.3 582.9 L402.2 583.2 L403.0 583.5 L403.8 584.0 L404.5 584.6 L405.1 585.2 L405.7 585.9 L406.2 586.8 L406.6 587.6 L407.0 588.6 L407.3 589.6 L407.5 590.7 L407.7 591.9 L407.7 593.1 L407.7 594.4 L407.7 595.6 L407.5 597.0 L407.3 598.3 L407.0 599.7 L406.6 601.1 L406.2 602.5 L405.7 603.9 L405.1 605.3 L404.5 606.7 L403.8 608.0 L403.0 609.4 L402.2 610.7 L401.3 612.0 L400.4 613.2" fill="none" stroke="#0a0a0a" stroke-width="2.5" />
<line x1="99.4" y1="431.9" x2="134.1" y2="451.5" stroke="#fcfdfc" stroke-width="9.0" stroke-linecap="butt"/>
<line x1="166.1" y1="469.5" x2="189.5" y2="482.8" stroke="#fcfdfc" stroke-width="9.0" stroke-linecap="butt"/>
<line x1="218.6" y1="500.6" x2="250.2" y2="517.9" stroke="#fcfdfc" stroke-width="9.0" stroke-linecap="butt"/>
<line x1="294.0" y1="544.2" x2="325.4" y2="561.9" stroke="#fcfdfc" stroke-width="9.0" stroke-linecap="butt"/>
<line x1="345.6" y1="576.9" x2="368.7" y2="589.6" stroke="#fcfdfc" stroke-width="9.0" stroke-linecap="butt"/>
<line x1="394.0" y1="604.6" x2="412.3" y2="614.4" stroke="#fcfdfc" stroke-width="9.0" stroke-linecap="butt"/>
<line x1="98.1" y1="431.2" x2="137.1" y2="453.2" stroke="#0a0a0a" stroke-width="1.6" />
<line x1="164.8" y1="468.8" x2="192.5" y2="484.5" stroke="#0a0a0a" stroke-width="1.6" />
<line x1="217.3" y1="499.9" x2="253.3" y2="519.6" stroke="#0a0a0a" stroke-width="1.6" />
<line x1="292.7" y1="543.5" x2="328.5" y2="563.6" stroke="#0a0a0a" stroke-width="1.6" />
<line x1="344.3" y1="576.2" x2="371.8" y2="591.3" stroke="#0a0a0a" stroke-width="1.6" />
<line x1="392.7" y1="603.9" x2="415.4" y2="616.0" stroke="#0a0a0a" stroke-width="1.6" />
<path d="M577.0 320.0 L577.0 421.2 L706.5 495.0" fill="none" stroke="#0a0a0a" stroke-width="1.55" />
<line x1="580.9" y1="323.0" x2="613.6" y2="341.5" stroke="#0a0a0a" stroke-width="1.55" />
<line x1="470.5" y1="359.3" x2="572.3" y2="417.8" stroke="#0a0a0a" stroke-width="1.55" />
<path d="M465.5 357.7 L465.5 491.0 L664.5 605.8" fill="none" stroke="#0a0a0a" stroke-width="1.55" />
<path d="M673.0 611.3 L739.3 649.6 L739.4 803.2" fill="none" stroke="#0a0a0a" stroke-width="1.55" />
<line x1="626.5" y1="442.8" x2="630.5" y2="442.8" stroke="#0a0a0a" stroke-width="1.2" />
<circle cx="640.5" cy="446.5" r="1.1" fill="none" stroke="#0a0a0a" stroke-width="0.6"/>
<circle cx="644.5" cy="446.5" r="1.1" fill="none" stroke="#0a0a0a" stroke-width="0.6"/>
<circle cx="648.5" cy="446.5" r="1.1" fill="none" stroke="#0a0a0a" stroke-width="0.6"/>
<path d="M753.4 413.7 C750.9 412.1 753.5 412.8 745.9 409.0 C738.3 405.2 740.8 404.0 730.7 402.4 C720.6 400.8 725.0 400.5 715.6 404.3 C706.2 408.1 710.3 405.5 702.4 413.7 C694.5 421.9 697.0 418.1 692.0 428.8 C687.0 439.5 688.6 435.2 687.3 445.9 C686.0 456.6 685.7 452.2 688.2 461.0 C690.7 469.8 689.4 466.0 694.8 472.3 C700.2 478.6 699.8 475.3 704.3 479.9 C708.8 484.5 706.9 484.0 708.2 486.0" fill="none" stroke="#0a0a0a" stroke-width="1.55" />
<line x1="708.3" y1="486.0" x2="708.4" y2="574.5" stroke="#0a0a0a" stroke-width="1.55" />
<path d="M708.4 574.5 C709.0 577.7 707.7 577.7 710.2 584.0 C712.7 590.3 710.8 587.1 715.9 593.4 C721.0 599.7 718.5 597.5 725.4 602.9 C732.3 608.3 729.8 605.6 736.7 609.5 C743.6 613.4 743.0 612.9 746.2 614.6" fill="none" stroke="#0a0a0a" stroke-width="1.55" />
<path d="M717.8 568.8 C717.6 552.5 717.5 548.4 717.3 520.0 C717.1 491.6 716.4 500.9 717.1 483.7 C717.8 466.5 716.8 478.6 719.4 468.5 C722.0 458.4 720.0 462.8 725.0 453.4 C730.0 444.0 727.5 448.4 734.5 440.2 C741.5 432.0 738.3 435.1 745.9 428.8 C753.5 422.5 748.4 424.8 757.2 421.3 C766.0 417.8 761.0 419.7 772.3 418.4 C783.6 417.1 774.8 418.4 791.2 417.5 C807.6 416.6 811.4 416.2 821.5 415.6" fill="none" stroke="#0a0a0a" stroke-width="1.55" />
<path d="M737.4 418.4 C742.7 416.8 738.6 415.9 753.4 413.7 C768.2 411.5 766.3 412.7 781.8 411.8 C797.3 410.9 790.2 411.5 800.0 411.0 C809.8 410.5 805.6 411.3 811.3 410.2 C817.0 409.1 813.2 409.6 817.0 407.7 C820.8 405.8 820.8 405.6 822.7 404.6" fill="none" stroke="#0a0a0a" stroke-width="1.55" />
<line x1="822.7" y1="404.6" x2="962.6" y2="485.9" stroke="#0a0a0a" stroke-width="1.55" />
<path d="M821.5 415.6 L808.4 423.4 L807.4 446.5" fill="none" stroke="#0a0a0a" stroke-width="1.55" />
<path d="M807.4 446.5 C808.4 448.8 805.6 449.9 810.5 453.5 C815.4 457.1 813.5 457.3 822.0 457.4 C830.5 457.5 829.7 455.6 835.9 453.7 C842.1 451.8 839.0 452.4 840.6 451.8" fill="none" stroke="#0a0a0a" stroke-width="1.55" />
<path d="M808.4 424.5 C811.9 426.7 811.6 428.8 818.9 431.0 C826.2 433.2 823.3 432.2 830.2 431.0 C837.1 429.8 836.5 428.5 839.7 427.3" fill="none" stroke="#0a0a0a" stroke-width="1.55" />
<line x1="839.7" y1="427.3" x2="922.9" y2="472.6" stroke="#0a0a0a" stroke-width="1.55" />
<line x1="841.6" y1="452.8" x2="904.0" y2="488.7" stroke="#0a0a0a" stroke-width="1.55" />
<line x1="922.9" y1="472.6" x2="905.9" y2="485.9" stroke="#0a0a0a" stroke-width="1.55" />
<path d="M807.3 449.6 C801.9 452.1 802.9 450.9 791.2 457.2 C779.5 463.5 783.6 459.7 772.3 468.5 C761.0 477.3 766.0 474.2 757.2 483.7 C748.4 493.2 752.2 489.1 745.9 496.9 C739.6 504.7 744.5 495.6 738.3 507.0 C732.1 518.4 733.2 516.1 727.3 531.0 C721.4 545.9 723.8 539.2 720.6 551.8 C717.4 564.4 718.7 563.1 717.8 568.8" fill="none" stroke="#0a0a0a" stroke-width="1.55" />
<ellipse cx="702.4" cy="464.8" rx="7.60" ry="4.71" transform="rotate(-62 702.4 464.8)" fill="none" stroke="#0a0a0a" stroke-width="1.3" />
<ellipse cx="850.3" cy="450.9" rx="6.80" ry="4.49" transform="rotate(-125 850.3 450.9)" fill="none" stroke="#0a0a0a" stroke-width="1.3" />
<ellipse cx="899.2" cy="479.2" rx="6.80" ry="4.49" transform="rotate(-125 899.2 479.2)" fill="none" stroke="#0a0a0a" stroke-width="1.3" />
<ellipse cx="747.7" cy="457.2" rx="24.00" ry="13.44" transform="rotate(-58 747.7 457.2)" fill="none" stroke="#0a0a0a" stroke-width="1.4" />
<path d="M747.1 532.0 L776.4 548.0 L775.9 675.0 L746.4 657.4 Z" fill="none" stroke="#0a0a0a" stroke-width="1.55" />
<line x1="747.1" y1="532.0" x2="793.4" y2="504.6" stroke="#0a0a0a" stroke-width="1.55" />
<line x1="776.4" y1="548.0" x2="824.6" y2="520.6" stroke="#0a0a0a" stroke-width="1.55" />
<line x1="775.9" y1="675.0" x2="813.2" y2="653.4" stroke="#0a0a0a" stroke-width="1.55" />
<ellipse cx="761.7" cy="554.7" rx="12.30" ry="7.87" transform="rotate(63 761.7 554.7)" fill="none" stroke="#0a0a0a" stroke-width="1.3" />
<ellipse cx="761.5" cy="619.3" rx="12.30" ry="7.87" transform="rotate(63 761.5 619.3)" fill="none" stroke="#0a0a0a" stroke-width="1.3" />
<ellipse cx="761.8" cy="653.6" rx="12.30" ry="7.87" transform="rotate(63 761.8 653.6)" fill="none" stroke="#0a0a0a" stroke-width="1.3" />
<path d="M761.9 618.8 L728.9 637.4 L728.9 670.3" fill="none" stroke="#0a0a0a" stroke-width="1.55" />
<path d="M824.6 520.6 C820.5 524.1 820.2 522.5 812.3 531.0 C804.4 539.5 807.9 534.9 801.0 546.2 C794.1 557.5 796.5 552.4 791.5 565.0 C786.5 577.6 788.4 571.4 785.9 584.0 C783.4 596.6 784.0 590.3 784.0 602.9 C784.0 615.5 783.4 610.5 785.9 621.8 C788.4 633.1 786.5 628.5 791.5 636.9 C796.5 645.3 793.8 641.5 801.0 647.0 C808.2 652.5 809.1 651.3 813.2 653.4" fill="none" stroke="#0a0a0a" stroke-width="1.55" />
<line x1="813.2" y1="653.4" x2="868.6" y2="685.6" stroke="#0a0a0a" stroke-width="1.55" />
<path d="M868.6 685.6 C872.8 687.7 872.0 689.3 881.2 692.0 C890.4 694.7 886.2 694.6 896.3 693.7 C906.4 692.8 898.8 694.6 911.4 689.4 C924.0 684.2 919.7 685.8 934.0 678.0 C948.3 670.2 947.5 670.0 954.3 666.0" fill="none" stroke="#0a0a0a" stroke-width="1.55" />
<path d="M902.0 488.7 C893.2 490.3 890.7 486.8 875.6 493.4 C860.5 500.0 866.8 497.2 856.7 508.5 C846.6 519.8 850.5 514.6 845.4 527.4 C840.3 540.2 842.7 540.5 841.3 547.0" fill="none" stroke="#0a0a0a" stroke-width="1.55" />
<line x1="841.3" y1="547.0" x2="841.3" y2="640.3" stroke="#0a0a0a" stroke-width="1.55" />
<path d="M859.3 554.3 C859.3 576.2 859.3 585.4 859.3 620.0 C859.3 654.6 858.7 640.3 859.3 658.0 C859.9 675.7 857.9 663.8 861.0 673.0 C864.1 682.2 866.1 681.4 868.6 685.6" fill="none" stroke="#0a0a0a" stroke-width="1.55" />
<path d="M962.6 485.9 L954.0 490.6 L902.0 495.3 L899.2 498.1 L903.0 501.0" fill="none" stroke="#0a0a0a" stroke-width="1.55" />
<line x1="905.9" y1="489.3" x2="944.6" y2="485.9" stroke="#0a0a0a" stroke-width="1.55" />
<path d="M902.6 501.0 L904.3 501.3 L905.9 501.8 L907.4 502.4 L908.8 503.2 L910.1 504.2 L911.3 505.4 L912.4 506.7 L913.4 508.1 L914.2 509.7 L914.9 511.5 L915.5 513.3 L915.9 515.3 L916.3 517.4 L916.4 519.6 L916.5 521.9 L916.4 524.2 L916.1 526.7 L915.7 529.1 L915.2 531.7 L914.6 534.2 L913.8 536.8 L912.9 539.4 L911.9 541.9 L910.7 544.5 L909.5 547.0 L908.1 549.5 L906.6 551.9 L905.1 554.2 L903.5 556.5 L901.7 558.7 L900.0 560.7 L898.1 562.7 L896.3 564.5 L894.3 566.2 L892.4 567.8 L890.4 569.2 L888.4 570.5 L886.4 571.6 L884.4 572.6 L882.4 573.3 L880.5 573.9 L878.6 574.4 L876.7 574.6 L874.9 574.7 L873.2 574.6 L871.5 574.3 L869.9 573.8 L868.4 573.2 L867.0 572.4 L865.7 571.4 L864.5 570.2 L863.4 568.9 L862.4 567.5 L861.6 565.9 L860.9 564.1 L860.3 562.3 L859.9 560.3 L859.5 558.2 L859.4 556.0 L859.3 553.7 L859.4 551.4 L859.7 548.9 L860.1 546.5 L860.6 543.9 L861.2 541.4 L862.0 538.8 L862.9 536.2 L863.9 533.7 L865.1 531.1 L866.3 528.6 L867.7 526.1 L869.2 523.7 L870.7 521.4 L872.3 519.1 L874.1 516.9 L875.8 514.9 L877.7 512.9 L879.5 511.1 L881.5 509.4 L883.4 507.8 L885.4 506.4 L887.4 505.1 L889.4 504.0 L891.4 503.0 L893.4 502.3 L895.3 501.7 L897.2 501.2 L899.1 501.0" fill="none" stroke="#0a0a0a" stroke-width="1.55" />
<ellipse cx="887.9" cy="538.8" rx="23.60" ry="13.63" transform="rotate(-60 887.9 538.8)" fill="none" stroke="#0a0a0a" stroke-width="1.4" />
<line x1="963.7" y1="485.9" x2="964.2" y2="676.8" stroke="#0a0a0a" stroke-width="1.55" />
<path d="M964.2 676.8 L954.3 682.6 L941.2 673.3" fill="none" stroke="#0a0a0a" stroke-width="1.55" />
<line x1="954.3" y1="666.0" x2="954.3" y2="682.6" stroke="#0a0a0a" stroke-width="1.55" />
<path d="M897.4 655.8 L895.9 654.8 L894.6 653.6 L893.3 652.3 L892.2 650.8 L891.2 649.1 L890.4 647.3 L889.7 645.3 L889.1 643.2 L888.7 641.0 L888.4 638.7 L888.3 636.2 L888.3 633.7 L888.5 631.1 L888.9 628.4 L889.4 625.7 L890.0 622.9 L890.8 620.1 L891.7 617.3 L892.7 614.5 L893.9 611.8 L895.2 609.0 L896.7 606.3 L898.2 603.6 L899.8 601.0 L901.6 598.5 L903.4 596.1 L905.3 593.8 L907.3 591.6 L909.3 589.5 L911.4 587.6 L913.5 585.8 L915.6 584.2 L917.8 582.7 L920.0 581.4 L922.1 580.3 L924.3 579.4 L926.4 578.6 L928.5 578.0 L930.6 577.7 L932.6 577.5 L934.5 577.5 L936.4 577.7 L938.1 578.1 L939.8 578.8 L941.4 579.5 L965.4 593.4 L966.9 594.4 L968.2 595.5 L969.5 596.9 L970.6 598.4 L971.6 600.0 L972.4 601.9 L973.2 603.8 L973.7 605.9 L974.1 608.1 L974.4 610.5 L974.5 612.9 L974.5 615.4 L974.3 618.0 L973.9 620.7 L973.5 623.4 L972.8 626.2 L972.0 629.0 L971.1 631.8 L970.1 634.6 L968.9 637.4 L967.6 640.1 L966.2 642.9 L964.6 645.5 L963.0 648.1 L961.2 650.6 L959.4 653.0 L957.5 655.4 L955.6 657.6 L953.5 659.6 L951.5 661.6 L949.3 663.3 L947.2 665.0 L945.0 666.4 L942.9 667.7 L940.7 668.9 L938.5 669.8 L936.4 670.5 L934.3 671.1 L932.3 671.5 L930.3 671.7 L928.3 671.6 L926.5 671.4 L924.7 671.0 L923.0 670.4 L921.4 669.6 Z" fill="#fcfdfc" stroke="#0a0a0a" stroke-width="1.55" />
<ellipse cx="943.4" cy="631.5" rx="44.00" ry="25.40" transform="rotate(-60 943.4 631.5)" fill="#fcfdfc" stroke="#0a0a0a" stroke-width="1.5" />
<ellipse cx="943.4" cy="631.5" rx="40.40" ry="23.32" transform="rotate(-60 943.4 631.5)" fill="none" stroke="#0a0a0a" stroke-width="1.3" />
<line x1="940.4" y1="631.5" x2="1016.4" y2="675.0" stroke="#0a0a0a" stroke-width="1.55" />
<polygon points="431.7,607.7 468.1,624.6 469.7,628 512.4,650.2 492.6,682.6 420.6,640.7 415,629.6 419,615" fill="#fcfdfc" stroke="none"/>
<path d="M492.5 683.7 L491.7 683.1 L490.9 682.4 L490.3 681.6 L489.7 680.7 L489.2 679.7 L488.8 678.5 L488.6 677.3 L488.4 676.0 L488.4 674.6 L488.4 673.1 L488.6 671.6 L488.8 670.1 L489.2 668.5 L489.7 666.9 L490.2 665.3 L490.9 663.7 L491.7 662.2 L492.5 660.6 L493.4 659.2 L494.4 657.7 L495.4 656.4 L496.5 655.1 L497.7 653.9 L498.8 652.8 L500.0 651.7 L501.3 650.9 L502.5 650.1 L503.7 649.4 L505.0 648.9 L506.2 648.5 L507.3 648.3 L508.5 648.1 L509.6 648.2 L510.6 648.3 L511.6 648.6 L512.5 649.1 L717.0 766.3 L717.8 766.9 L718.6 767.6 L719.2 768.4 L719.8 769.3 L720.3 770.4 L720.7 771.5 L720.9 772.8 L721.1 774.1 L721.1 775.5 L721.1 776.9 L720.9 778.4 L720.7 780.0 L720.3 781.5 L719.8 783.1 L719.3 784.7 L718.6 786.3 L717.8 787.9 L717.0 789.4 L716.1 790.9 L715.1 792.3 L714.1 793.7 L713.0 795.0 L711.8 796.2 L710.7 797.3 L709.5 798.3 L708.2 799.2 L707.0 800.0 L705.8 800.6 L704.5 801.1 L703.3 801.5 L702.2 801.8 L701.0 801.9 L699.9 801.9 L698.9 801.7 L697.9 801.4 L697.0 801.0 Z" fill="#fcfdfc" stroke="#0a0a0a" stroke-width="1.5" />
<path d="M492.5 683.7 L491.7 683.1 L490.9 682.4 L490.3 681.6 L489.7 680.7 L489.2 679.7 L488.8 678.5 L488.6 677.3 L488.4 676.0 L488.4 674.6 L488.4 673.1 L488.6 671.6 L488.8 670.1 L489.2 668.5 L489.7 666.9 L490.2 665.3 L490.9 663.7 L491.7 662.2 L492.5 660.6 L493.4 659.2 L494.4 657.7 L495.4 656.4 L496.5 655.1 L497.7 653.9 L498.8 652.8 L500.0 651.7 L501.3 650.9 L502.5 650.1 L503.7 649.4 L505.0 648.9 L506.2 648.5 L507.3 648.3 L508.5 648.1 L509.6 648.2 L510.6 648.3 L511.6 648.6 L512.5 649.1" fill="none" stroke="#0a0a0a" stroke-width="1.4" />
<path d="M431.7 607.7 C428.6 609.0 427.5 607.6 422.5 611.5 C417.5 615.4 419.1 613.5 416.6 619.5 C414.1 625.5 414.9 623.9 415.0 629.6 C415.1 635.3 414.9 632.8 416.8 636.5 C418.7 640.2 419.3 639.3 420.6 640.7" fill="#fcfdfc" stroke="#0a0a0a" stroke-width="1.5" />
<path d="M424.0 612.5 C422.3 615.2 421.1 615.2 419.0 620.5 C416.9 625.8 417.4 623.2 417.6 628.5 C417.8 633.8 418.9 633.8 419.5 636.5" fill="none" stroke="#0a0a0a" stroke-width="1.1" />
<line x1="431.7" y1="607.7" x2="468.1" y2="624.6" stroke="#0a0a0a" stroke-width="1.35" />
<line x1="429.3" y1="611.4" x2="462.5" y2="629.3" stroke="#0a0a0a" stroke-width="1.35" />
<line x1="423.8" y1="616.1" x2="450.7" y2="633.5" stroke="#0a0a0a" stroke-width="1.35" />
<line x1="415.8" y1="628.8" x2="493.4" y2="669.2" stroke="#0a0a0a" stroke-width="1.35" />
<line x1="417.4" y1="635.9" x2="447.5" y2="652.5" stroke="#0a0a0a" stroke-width="1.35" />
<line x1="420.6" y1="640.7" x2="492.6" y2="682.6" stroke="#0a0a0a" stroke-width="1.35" />
<line x1="469.7" y1="628.0" x2="512.4" y2="650.2" stroke="#0a0a0a" stroke-width="1.35" />
<line x1="466.0" y1="633.0" x2="505.5" y2="654.3" stroke="#0a0a0a" stroke-width="1.35" />
<line x1="460.2" y1="637.5" x2="501.3" y2="658.1" stroke="#0a0a0a" stroke-width="1.35" />
<line x1="454.6" y1="644.6" x2="495.0" y2="666.0" stroke="#0a0a0a" stroke-width="1.35" />
<line x1="453.8" y1="653.3" x2="492.6" y2="673.9" stroke="#0a0a0a" stroke-width="1.35" />
<line x1="454.6" y1="659.7" x2="491.8" y2="680.3" stroke="#0a0a0a" stroke-width="1.35" />
<path d="M468.1 624.6 C469.0 625.3 470.1 624.8 470.8 626.6 C471.5 628.4 471.6 628.6 470.2 630.0 C468.8 631.4 469.1 631.0 466.5 630.8 C463.9 630.6 463.8 629.8 462.5 629.3" fill="none" stroke="#0a0a0a" stroke-width="1.3" />
<path d="M447.5 652.5 C448.8 652.3 449.5 651.0 451.5 652.0 C453.5 653.0 453.5 653.2 453.5 655.5 C453.5 657.8 453.5 658.3 451.5 659.0 C449.5 659.7 448.8 658.0 447.5 657.5" fill="none" stroke="#0a0a0a" stroke-width="1.3" />
<line x1="447.5" y1="657.5" x2="421.5" y2="643.0" stroke="#0a0a0a" stroke-width="1.2" />
<line x1="450.7" y1="634.3" x2="453.6" y2="642.8" stroke="#0a0a0a" stroke-width="1.2" />
<line x1="454.9" y1="634.0" x2="458.6" y2="643.8" stroke="#0a0a0a" stroke-width="1.2" />
<line x1="445.6" y1="621.0" x2="446.2" y2="624.5" stroke="#0a0a0a" stroke-width="1.2" />
<line x1="466.5" y1="630.8" x2="466.5" y2="636.0" stroke="#0a0a0a" stroke-width="1.1" />
<line x1="544.6" y1="677.2" x2="566.0" y2="688.0" stroke="#0a0a0a" stroke-width="7.2" stroke-linecap="round"/>
<line x1="544.6" y1="677.2" x2="566.0" y2="688.0" stroke="#fcfdfc" stroke-width="4.6" stroke-linecap="round"/>
<line x1="546.1" y1="678.8" x2="566.5" y2="689.2" stroke="#0a0a0a" stroke-width="1.0" />
<path d="M668.6 784.6 L667.8 783.8 L667.2 783.0 L666.6 782.0 L666.2 780.9 L665.8 779.7 L665.6 778.4 L665.5 777.1 L665.4 775.6 L665.5 774.1 L665.7 772.6 L666.0 771.0 L666.5 769.4 L667.0 767.8 L667.6 766.2 L668.3 764.5 L669.1 763.0 L670.0 761.4 L671.0 759.9 L672.0 758.5 L673.1 757.2 L674.2 755.9 L675.4 754.7 L676.7 753.7 L677.9 752.7 L679.1 751.9 L680.4 751.2 L681.7 750.6 L682.9 750.2 L684.1 749.9 L685.3 749.7 L686.4 749.7 L687.5 749.8 L688.5 750.1" fill="none" stroke="#0a0a0a" stroke-width="2.4" />
<path d="M689.9 796.9 L689.1 796.2 L688.4 795.4 L687.8 794.5 L687.2 793.5 L686.8 792.3 L686.5 791.1 L686.3 789.8 L686.3 788.4 L686.3 786.9 L686.4 785.4 L686.7 783.8 L687.0 782.2 L687.5 780.6 L688.1 778.9 L688.8 777.3 L689.5 775.7 L690.4 774.1 L691.3 772.6 L692.3 771.1 L693.4 769.8 L694.5 768.4 L695.7 767.2 L696.9 766.1 L698.1 765.1 L699.4 764.2 L700.7 763.4 L701.9 762.8 L703.2 762.3 L704.4 761.9 L705.6 761.7 L706.7 761.6 L707.8 761.7 L708.9 761.9 L709.9 762.3" fill="none" stroke="#0a0a0a" stroke-width="2.0" />
<path d="M691.8 797.9 L691.1 797.2 L690.4 796.4 L689.8 795.5 L689.4 794.4 L689.0 793.3 L688.7 792.1 L688.6 790.7 L688.5 789.4 L688.6 787.9 L688.7 786.4 L689.0 784.9 L689.4 783.3 L689.8 781.7 L690.4 780.1 L691.1 778.5 L691.8 777.0 L692.6 775.4 L693.6 773.9 L694.5 772.5 L695.6 771.1 L696.7 769.9 L697.8 768.6 L699.0 767.5 L700.2 766.5 L701.4 765.6 L702.6 764.9 L703.9 764.2 L705.1 763.7 L706.3 763.3 L707.5 763.0 L708.6 762.9 L709.7 763.0 L710.8 763.1 L711.7 763.4" fill="none" stroke="#0a0a0a" stroke-width="1.1" />
<path d="M712.5 795.5 L711.4 796.6 L710.2 797.7 L709.0 798.7 L707.7 799.5 L706.5 800.3 L705.3 800.9 L704.0 801.3 L702.8 801.7 L701.7 801.9 L700.5 801.9 L699.5 801.8 L698.4 801.6 L697.5 801.2 L696.6 800.7 L695.8 800.1 L695.1 799.4 L694.5 798.5 L693.9 797.5 L693.5 796.4 L693.2 795.2 L693.0 793.9 L692.9 792.6 L692.9 791.2 L693.0 789.7 L693.2 788.1 L693.5 786.6 L693.9 785.0 L694.4 783.4 L695.0 781.8 L695.8 780.2 L696.6 778.7 L697.4 777.2 L698.4 775.7 L699.4 774.3 L700.5 773.0 L701.6 771.7 L702.8 770.5 L704.0 769.5 L705.2 768.5 L706.4 767.7 L707.6 767.0 L708.9 766.4 L710.1 765.9 L711.3 765.6 L712.5 765.5 L713.6 765.4 L714.6 765.5 L715.7 765.8 L716.6 766.1 L717.5 766.6 L718.3 767.3 L719.0 768.1 L719.6 768.9 L720.1 769.9 L720.5 771.0 L720.8 772.2 L721.0 773.5 L721.1 774.9 L721.1 776.3 L721.0 777.8 L720.8 779.4" fill="none" stroke="#0a0a0a" stroke-width="1.5" />
<line x1="707.4" y1="784.9" x2="739.4" y2="803.2" stroke="#0a0a0a" stroke-width="1.4" />
<line x1="544.8" y1="618.2" x2="564.3" y2="628.8" stroke="#0a0a0a" stroke-width="9.0" stroke-linecap="round"/>
<line x1="544.8" y1="618.2" x2="564.3" y2="628.8" stroke="#fcfdfc" stroke-width="6.4" stroke-linecap="round"/>
<polygon points="540.2,612.6 540.2,618.2 568.3,628.8 568.3,623.2" fill="#fcfdfc" stroke="none"/>
<line x1="540.6" y1="613.1" x2="540.6" y2="618.7" stroke="#0a0a0a" stroke-width="1.2" />
<line x1="568.6" y1="622.7" x2="568.6" y2="628.3" stroke="#0a0a0a" stroke-width="1.2" />
<line x1="544.8" y1="612.6" x2="564.3" y2="623.2" stroke="#0a0a0a" stroke-width="9.0" stroke-linecap="round"/>
<line x1="544.8" y1="612.6" x2="564.3" y2="623.2" stroke="#fcfdfc" stroke-width="6.4" stroke-linecap="round"/>
<rect x="554.9" y="627" width="4.7" height="56.5" fill="#fcfdfc" stroke="none"/>
<line x1="554.9" y1="627.5" x2="554.9" y2="681.0" stroke="#0a0a0a" stroke-width="1.1" />
<line x1="559.6" y1="630.0" x2="559.6" y2="683.5" stroke="#0a0a0a" stroke-width="1.1" />
<path d="M617.0 625.5 L616.5 625.9 L616.0 626.4 L615.5 627.1 L615.2 627.8 L614.9 628.5 L614.8 629.4 L614.7 630.3 L614.7 631.3 L614.8 632.3 L614.9 633.4 L615.2 634.5 L615.5 635.6 L616.0 636.7 L616.5 637.8 L617.0 638.8 L617.7 639.8 L618.4 640.8 L619.1 641.7 L619.9 642.6 L620.7 643.4 L621.5 644.0 L622.4 644.6 L623.2 645.1 L624.1 645.5 L624.9 645.8 L625.7 645.9 L626.5 646.0 L627.2 645.9 L627.9 645.8 L628.5 645.5 L640.7 638.5 L641.2 638.1 L641.7 637.6 L642.2 636.9 L642.5 636.2 L642.8 635.5 L642.9 634.6 L643.0 633.7 L643.0 632.7 L642.9 631.7 L642.8 630.6 L642.5 629.5 L642.2 628.4 L641.7 627.3 L641.2 626.2 L640.7 625.2 L640.0 624.2 L639.3 623.2 L638.6 622.3 L637.8 621.4 L637.0 620.6 L636.2 620.0 L635.3 619.4 L634.5 618.9 L633.6 618.5 L632.8 618.2 L632.0 618.1 L631.2 618.0 L630.5 618.1 L629.8 618.2 L629.2 618.5 Z" fill="#fcfdfc" stroke="#0a0a0a" stroke-width="1.6" />
<path d="M630.8 644.1 L631.3 643.6 L631.8 642.9 L632.1 642.2 L632.4 641.5 L632.6 640.6 L632.6 639.7 L632.6 638.7 L632.6 637.7 L632.4 636.6 L632.1 635.5 L631.8 634.4 L631.3 633.3 L630.8 632.2 L630.3 631.2 L629.6 630.2 L628.9 629.2 L628.2 628.3 L627.4 627.4 L626.6 626.6 L625.8 626.0 L624.9 625.4 L624.1 624.9 L623.2 624.5 L622.4 624.2 L621.6 624.1 L620.8 624.0 L620.1 624.1 L619.4 624.2" fill="none" stroke="#0a0a0a" stroke-width="1.8" />
<path d="M632.6 643.1 L633.1 642.6 L633.5 641.9 L633.8 641.2 L634.1 640.5 L634.3 639.6 L634.4 638.7 L634.4 637.7 L634.3 636.7 L634.1 635.6 L633.8 634.5 L633.5 633.4 L633.1 632.3 L632.6 631.2 L632.0 630.2 L631.4 629.2 L630.7 628.2 L629.9 627.3 L629.2 626.4 L628.4 625.6 L627.5 625.0 L626.7 624.4 L625.8 623.9 L625.0 623.5 L624.1 623.2 L623.3 623.1 L622.6 623.0 L621.8 623.1 L621.1 623.2" fill="none" stroke="#0a0a0a" stroke-width="1.8" />
<path d="M634.3 642.1 L634.8 641.6 L635.2 640.9 L635.6 640.2 L635.8 639.5 L636.0 638.6 L636.1 637.7 L636.1 636.7 L636.0 635.7 L635.8 634.6 L635.6 633.5 L635.2 632.4 L634.8 631.3 L634.3 630.2 L633.7 629.2 L633.1 628.2 L632.4 627.2 L631.7 626.3 L630.9 625.4 L630.1 624.6 L629.3 624.0 L628.4 623.4 L627.6 622.9 L626.7 622.5 L625.9 622.2 L625.1 622.1 L624.3 622.0 L623.6 622.1 L622.9 622.2" fill="none" stroke="#0a0a0a" stroke-width="1.8" />
<path d="M636.0 641.1 L636.5 640.6 L637.0 639.9 L637.3 639.2 L637.6 638.5 L637.7 637.6 L637.8 636.7 L637.8 635.7 L637.7 634.7 L637.6 633.6 L637.3 632.5 L637.0 631.4 L636.5 630.3 L636.0 629.2 L635.5 628.2 L634.8 627.2 L634.1 626.2 L633.4 625.3 L632.6 624.4 L631.8 623.6 L631.0 623.0 L630.1 622.4 L629.3 621.9 L628.4 621.5 L627.6 621.2 L626.8 621.1 L626.0 621.0 L625.3 621.1 L624.6 621.2" fill="none" stroke="#0a0a0a" stroke-width="1.8" />
<path d="M637.8 640.1 L638.3 639.6 L638.7 638.9 L639.0 638.2 L639.3 637.5 L639.5 636.6 L639.6 635.7 L639.6 634.7 L639.5 633.7 L639.3 632.6 L639.0 631.5 L638.7 630.4 L638.3 629.3 L637.8 628.2 L637.2 627.2 L636.6 626.2 L635.9 625.2 L635.1 624.3 L634.4 623.4 L633.6 622.6 L632.7 622.0 L631.9 621.4 L631.0 620.9 L630.2 620.5 L629.3 620.2 L628.5 620.1 L627.8 620.0 L627.0 620.1 L626.3 620.2" fill="none" stroke="#0a0a0a" stroke-width="1.8" />
<path d="M639.5 639.1 L640.0 638.6 L640.4 637.9 L640.8 637.2 L641.0 636.5 L641.2 635.6 L641.3 634.7 L641.3 633.7 L641.2 632.7 L641.0 631.6 L640.8 630.5 L640.4 629.4 L640.0 628.3 L639.5 627.2 L638.9 626.2 L638.3 625.2 L637.6 624.2 L636.9 623.3 L636.1 622.4 L635.3 621.6 L634.5 621.0 L633.6 620.4 L632.8 619.9 L631.9 619.5 L631.1 619.2 L630.3 619.1 L629.5 619.0 L628.7 619.1 L628.1 619.2" fill="none" stroke="#0a0a0a" stroke-width="1.8" />
<path d="M641.2 638.1 L641.7 637.6 L642.2 636.9 L642.5 636.2 L642.8 635.5 L642.9 634.6 L643.0 633.7 L643.0 632.7 L642.9 631.7 L642.8 630.6 L642.5 629.5 L642.2 628.4 L641.7 627.3 L641.2 626.2 L640.7 625.2 L640.0 624.2 L639.3 623.2 L638.6 622.3 L637.8 621.4 L637.0 620.6 L636.2 620.0 L635.3 619.4 L634.5 618.9 L633.6 618.5 L632.8 618.2 L632.0 618.1 L631.2 618.0 L630.5 618.1 L629.8 618.2" fill="none" stroke="#0a0a0a" stroke-width="1.8" />
<path d="M614.0 626.3 L613.4 626.7 L612.8 627.2 L612.4 627.9 L612.0 628.6 L611.7 629.5 L611.5 630.4 L611.4 631.4 L611.4 632.5 L611.5 633.6 L611.7 634.7 L612.0 635.9 L612.4 637.1 L612.8 638.3 L613.4 639.4 L614.0 640.6 L614.7 641.7 L615.4 642.7 L616.2 643.7 L617.0 644.6 L617.9 645.5 L618.8 646.2 L619.7 646.8 L620.6 647.4 L621.6 647.8 L622.5 648.1 L623.3 648.3 L624.2 648.3 L625.0 648.2 L625.7 648.1 L626.4 647.7 L629.0 646.2 L629.6 645.8 L630.1 645.3 L630.6 644.6 L631.0 643.9 L631.3 643.0 L631.4 642.1 L631.5 641.1 L631.5 640.0 L631.4 638.9 L631.3 637.8 L631.0 636.6 L630.6 635.4 L630.1 634.2 L629.6 633.1 L629.0 631.9 L628.3 630.8 L627.6 629.8 L626.8 628.8 L625.9 627.9 L625.1 627.0 L624.2 626.3 L623.2 625.7 L622.3 625.1 L621.4 624.7 L620.5 624.4 L619.6 624.2 L618.8 624.2 L618.0 624.3 L617.3 624.4 L616.6 624.8 Z" fill="#fcfdfc" stroke="#0a0a0a" stroke-width="1.4" />
<path d="M627.7 647.0 L628.3 646.6 L628.8 646.0 L629.3 645.4 L629.7 644.6 L630.0 643.8 L630.1 642.8 L630.2 641.8 L630.2 640.8 L630.1 639.7 L630.0 638.5 L629.7 637.3 L629.3 636.2 L628.8 635.0 L628.3 633.8 L627.7 632.7 L627.0 631.6 L626.3 630.5 L625.5 629.5 L624.6 628.6 L623.8 627.8 L622.9 627.0 L621.9 626.4 L621.0 625.9 L620.1 625.5 L619.2 625.2 L618.3 625.0 L617.5 624.9 L616.7 625.0 L616.0 625.2 L615.3 625.5" fill="none" stroke="#0a0a0a" stroke-width="1.0" />
<path d="M602.0 635.5 L601.5 635.9 L601.0 636.3 L600.6 636.9 L600.3 637.5 L600.1 638.2 L599.9 639.0 L599.9 639.8 L599.9 640.7 L599.9 641.6 L600.1 642.6 L600.3 643.6 L600.6 644.6 L601.0 645.6 L601.5 646.5 L602.0 647.5 L602.6 648.4 L603.2 649.3 L603.9 650.1 L604.6 650.9 L605.3 651.6 L606.0 652.2 L606.8 652.8 L607.6 653.2 L608.3 653.6 L609.1 653.8 L609.8 653.9 L610.5 654.0 L611.2 653.9 L611.8 653.8 L612.4 653.5 L625.4 646.0 L625.9 645.6 L626.4 645.2 L626.7 644.6 L627.1 644.0 L627.3 643.3 L627.5 642.5 L627.5 641.7 L627.5 640.8 L627.5 639.9 L627.3 638.9 L627.1 637.9 L626.7 636.9 L626.4 635.9 L625.9 635.0 L625.4 634.0 L624.8 633.1 L624.2 632.2 L623.5 631.4 L622.8 630.6 L622.1 629.9 L621.3 629.3 L620.6 628.7 L619.8 628.3 L619.0 627.9 L618.3 627.7 L617.6 627.6 L616.8 627.5 L616.2 627.6 L615.6 627.7 L615.0 628.0 Z" fill="#fcfdfc" stroke="#0a0a0a" stroke-width="1.5" />
<path d="M600.4 638.7 L600.0 639.0 L599.6 639.4 L599.3 639.8 L599.1 640.3 L598.9 640.9 L598.7 641.5 L598.7 642.2 L598.7 642.9 L598.7 643.7 L598.9 644.5 L599.1 645.3 L599.3 646.1 L599.6 646.9 L600.0 647.7 L600.4 648.4 L600.9 649.2 L601.4 649.9 L601.9 650.6 L602.5 651.2 L603.1 651.7 L603.7 652.2 L604.3 652.7 L604.9 653.0 L605.5 653.3 L606.1 653.5 L606.7 653.6 L607.3 653.7 L607.8 653.6 L608.3 653.5 L608.8 653.3 L612.4 653.5 L612.9 653.1 L613.4 652.7 L613.8 652.1 L614.1 651.5 L614.3 650.8 L614.5 650.0 L614.5 649.2 L614.5 648.3 L614.5 647.4 L614.3 646.4 L614.1 645.4 L613.8 644.4 L613.4 643.4 L612.9 642.5 L612.4 641.5 L611.8 640.6 L611.2 639.7 L610.5 638.9 L609.8 638.1 L609.1 637.4 L608.3 636.8 L607.6 636.2 L606.8 635.8 L606.0 635.4 L605.3 635.2 L604.6 635.1 L603.9 635.0 L603.2 635.1 L602.6 635.2 L602.0 635.5 Z" fill="#fcfdfc" stroke="#0a0a0a" stroke-width="1.3" />
<line x1="615.1" y1="633.5" x2="621.9" y2="643.5" stroke="#0a0a0a" stroke-width="2.3" />
<line x1="609.5" y1="631.3" x2="615.1" y2="633.5" stroke="#0a0a0a" stroke-width="1.25" />
<line x1="615.1" y1="633.5" x2="610.8" y2="640.0" stroke="#0a0a0a" stroke-width="1.25" />
<line x1="621.9" y1="643.5" x2="612.6" y2="648.8" stroke="#0a0a0a" stroke-width="1.25" />
<line x1="615.1" y1="633.5" x2="627.5" y2="627.0" stroke="#0a0a0a" stroke-width="1.25" />
<line x1="621.9" y1="643.5" x2="631.5" y2="638.6" stroke="#0a0a0a" stroke-width="1.25" />
<line x1="621.9" y1="643.5" x2="625.5" y2="647.0" stroke="#0a0a0a" stroke-width="1.25" />
<ellipse cx="604.6" cy="646.0" rx="8.40" ry="4.85" transform="rotate(60 604.6 646.0)" fill="#fcfdfc" stroke="#0a0a0a" stroke-width="1.7" />
<ellipse cx="604.9" cy="645.8" rx="6.90" ry="3.98" transform="rotate(60 604.9 645.8)" fill="none" stroke="#0a0a0a" stroke-width="1.2" />
<line x1="641.4" y1="624.6" x2="685.9" y2="598.9" stroke="#0a0a0a" stroke-width="1.4" />
<path d="M690.1 678.9 L689.6 679.3 L689.1 679.8 L688.6 680.4 L688.3 681.1 L688.0 681.9 L687.8 682.8 L687.7 683.7 L687.7 684.7 L687.8 685.8 L688.0 686.9 L688.3 688.0 L688.6 689.1 L689.1 690.2 L689.6 691.3 L690.2 692.4 L690.8 693.4 L691.5 694.4 L692.2 695.3 L693.0 696.2 L693.9 697.0 L694.7 697.7 L695.6 698.3 L696.4 698.8 L697.3 699.2 L698.1 699.5 L699.0 699.6 L699.8 699.7 L700.5 699.6 L701.2 699.4 L701.9 699.1 L717.3 690.2 L717.8 689.8 L718.4 689.3 L718.8 688.7 L719.1 688.0 L719.4 687.2 L719.6 686.3 L719.7 685.4 L719.7 684.4 L719.6 683.3 L719.4 682.2 L719.1 681.1 L718.8 680.0 L718.4 678.9 L717.8 677.8 L717.3 676.7 L716.6 675.7 L715.9 674.7 L715.2 673.8 L714.4 672.9 L713.6 672.1 L712.7 671.4 L711.8 670.8 L711.0 670.3 L710.1 669.9 L709.3 669.6 L708.5 669.5 L707.7 669.4 L706.9 669.5 L706.2 669.7 L705.6 670.0 Z" fill="#fcfdfc" stroke="#0a0a0a" stroke-width="1.5" />
<path d="M705.4 697.1 L705.9 696.6 L706.4 696.0 L706.8 695.3 L707.1 694.5 L707.3 693.6 L707.4 692.7 L707.4 691.6 L707.3 690.6 L707.1 689.5 L706.9 688.3 L706.5 687.2 L706.1 686.1 L705.6 684.9 L705.0 683.8 L704.3 682.8 L703.6 681.7 L702.8 680.8 L702.0 679.9 L701.2 679.1 L700.3 678.4 L699.4 677.8 L698.5 677.3 L697.6 676.9 L696.8 676.7 L695.9 676.5 L695.1 676.5 L694.4 676.6 L693.7 676.9" fill="none" stroke="#0a0a0a" stroke-width="1.5" />
<path d="M709.2 694.9 L709.7 694.4 L710.2 693.8 L710.6 693.1 L710.9 692.3 L711.1 691.4 L711.2 690.5 L711.2 689.4 L711.1 688.4 L710.9 687.3 L710.7 686.1 L710.3 685.0 L709.9 683.9 L709.4 682.7 L708.8 681.6 L708.1 680.6 L707.4 679.5 L706.6 678.6 L705.8 677.7 L705.0 676.9 L704.1 676.2 L703.2 675.6 L702.3 675.1 L701.5 674.7 L700.6 674.5 L699.8 674.3 L699.0 674.3 L698.2 674.4 L697.5 674.7" fill="none" stroke="#0a0a0a" stroke-width="1.5" />
<path d="M713.2 692.6 L713.7 692.1 L714.2 691.5 L714.6 690.8 L714.8 690.0 L715.1 689.1 L715.2 688.2 L715.2 687.1 L715.1 686.1 L714.9 685.0 L714.7 683.8 L714.3 682.7 L713.9 681.6 L713.4 680.4 L712.8 679.3 L712.1 678.3 L711.4 677.2 L710.6 676.3 L709.8 675.4 L709.0 674.6 L708.1 673.9 L707.2 673.3 L706.3 672.8 L705.4 672.4 L704.6 672.2 L703.7 672.0 L702.9 672.0 L702.2 672.1 L701.5 672.4" fill="none" stroke="#0a0a0a" stroke-width="1.5" />
<ellipse cx="696.0" cy="689.0" rx="11.70" ry="6.75" transform="rotate(60 696.0 689.0)" fill="#fcfdfc" stroke="#0a0a0a" stroke-width="1.6" />
<path d="M697.8 697.0 L698.5 697.3 L699.2 697.5 L700.0 697.6 L700.6 697.7 L701.3 697.6 L701.9 697.4 L702.4 697.1 L702.9 696.7 L703.3 696.2 L703.7 695.6 L704.0 694.9 L704.2 694.2 L704.3 693.4 L704.3 692.5 L704.3 691.6 L704.2 690.7 L704.0 689.7 L703.7 688.8 L703.4 687.8 L702.9 686.8 L702.5 685.8 L701.9 684.9 L701.3 684.0 L700.7 683.2 L700.0 682.4 L699.3 681.7 L698.5 681.0 L697.8 680.4 L697.0 680.0 L696.3 679.6 L695.5 679.3 L694.8 679.1 L694.1 679.0" fill="none" stroke="#0a0a0a" stroke-width="1.1" />
<path d="M701.3 694.9 L700.8 687.9 L695.5 682.0 L690.7 683.1 L691.2 690.1 L696.5 696.0 Z" fill="none" stroke="#0a0a0a" stroke-width="1.4" />
<path d="M691.9 682.4 L692.4 689.4 L697.7 695.3 L702.5 694.2" fill="none" stroke="#0a0a0a" stroke-width="1.0" />
<line x1="716.8" y1="677.3" x2="761.9" y2="653.2" stroke="#0a0a0a" stroke-width="1.4" />
<path d="M679.3 596.1 L679.4 595.2 L679.7 594.2 L680.0 593.3 L680.3 592.5 L680.8 591.6 L681.2 590.8 L681.7 590.1 L682.3 589.4 L682.9 588.8 L683.6 588.3 L684.2 587.8 L684.9 587.4 L685.7 587.1 L686.4 586.8 L687.2 586.7 L687.9 586.6 L688.7 586.6 L689.5 586.7 L690.2 586.9 L691.0 587.1 L691.7 587.4 L692.4 587.8 L693.1 588.3 L693.7 588.9 L694.3 589.5 L694.9 590.2 L695.4 590.9 L695.9 591.7 L696.3 592.5 L696.6 593.4 L696.9 594.3 L697.2 595.3 L697.3 596.2 L697.5 597.2 L697.5 598.2 L697.5 599.2 L697.4 600.2 L697.2 601.1 L697.0 602.1 L696.8 603.0 L696.4 603.9 L696.1 604.8 L695.6 605.6 L695.1 606.3 L694.6 607.0 L694.0 607.7 L693.4 608.3 L692.7 608.8 L692.0 609.2 L691.3 609.6 L690.6 609.8 L689.8 610.0 L689.0 610.2 L688.3 610.2 L687.5 610.2 L686.7 610.0 L686.0 609.8 L685.2 609.5 L684.5 609.2 L683.8 608.7" fill="none" stroke="#0a0a0a" stroke-width="3.0" />
<line x1="696.7" y1="592.9" x2="761.7" y2="555.6" stroke="#0a0a0a" stroke-width="1.4" />
<path d="M301.7 240.7 L296.5 236.8 L294.6 240.2 L300.3 243.2 Z" fill="#fcfdfc" stroke="#0a0a0a" stroke-width="1.4" />
<path d="M294.6 251.8 L286.6 252.1 L284.3 255.2 L292.8 254.0 Z" fill="#fcfdfc" stroke="#0a0a0a" stroke-width="1.4" />
<path d="M307.3 228.7 L304.1 220.3 L302.7 223.9 L306.2 231.3 Z" fill="#fcfdfc" stroke="#0a0a0a" stroke-width="1.4" />
<path d="M300.3 243.2 L294.6 240.2 L288.7 240.5 L296.1 243.4 Z" fill="#fcfdfc" stroke="#0a0a0a" stroke-width="1.4" />
<path d="M299.7 237.0 L293.7 231.7 L296.5 236.8 L301.7 240.7 Z" fill="#fcfdfc" stroke="#0a0a0a" stroke-width="1.4" />
<path d="M293.6 247.1 L285.3 245.6 L286.6 252.1 L294.6 251.8 Z" fill="#fcfdfc" stroke="#0a0a0a" stroke-width="1.4" />
<path d="M306.2 231.3 L302.7 223.9 L296.4 226.2 L301.6 232.9 Z" fill="#fcfdfc" stroke="#0a0a0a" stroke-width="1.4" />
<path d="M292.8 254.0 L284.3 255.2 L279.2 253.4 L289.2 252.8 Z" fill="#fcfdfc" stroke="#0a0a0a" stroke-width="1.4" />
<path d="M304.3 226.3 L300.0 217.0 L304.1 220.3 L307.3 228.7 Z" fill="#fcfdfc" stroke="#0a0a0a" stroke-width="1.4" />
<path d="M286.1 261.5 L275.1 265.4 L272.4 267.9 L284.2 263.3 Z" fill="#fcfdfc" stroke="#0a0a0a" stroke-width="1.4" />
<path d="M296.1 243.4 L288.7 240.5 L285.3 245.6 L293.6 247.1 Z" fill="#fcfdfc" stroke="#0a0a0a" stroke-width="1.4" />
<path d="M301.6 232.9 L296.4 226.2 L293.7 231.7 L299.7 237.0 Z" fill="#fcfdfc" stroke="#0a0a0a" stroke-width="1.4" />
<path d="M310.8 216.6 L309.0 203.7 L308.2 207.2 L310.2 219.2 Z" fill="#fcfdfc" stroke="#0a0a0a" stroke-width="1.4" />
<path d="M286.3 256.0 L275.3 257.8 L275.1 265.4 L286.1 261.5 Z" fill="#fcfdfc" stroke="#0a0a0a" stroke-width="1.4" />
<path d="M310.2 219.2 L308.2 207.2 L301.7 211.3 L305.5 222.2 Z" fill="#fcfdfc" stroke="#0a0a0a" stroke-width="1.4" />
<path d="M289.2 252.8 L279.2 253.4 L275.3 257.8 L286.3 256.0 Z" fill="#fcfdfc" stroke="#0a0a0a" stroke-width="1.4" />
<path d="M305.5 222.2 L301.7 211.3 L300.0 217.0 L304.3 226.3 Z" fill="#fcfdfc" stroke="#0a0a0a" stroke-width="1.4" />
<path d="M284.2 263.3 L272.4 267.9 L268.5 264.3 L281.3 260.7 Z" fill="#fcfdfc" stroke="#0a0a0a" stroke-width="1.4" />
<path d="M307.0 215.6 L303.8 202.3 L309.0 203.7 L310.8 216.6 Z" fill="#fcfdfc" stroke="#0a0a0a" stroke-width="1.4" />
<path d="M277.0 269.1 L262.5 275.9 L259.7 277.7 L274.9 270.5 Z" fill="#fcfdfc" stroke="#0a0a0a" stroke-width="1.4" />
<path d="M278.2 263.2 L264.2 267.7 L262.5 275.9 L277.0 269.1 Z" fill="#fcfdfc" stroke="#0a0a0a" stroke-width="1.4" />
<path d="M312.2 205.1 L310.8 187.8 L310.7 191.2 L312.1 207.5 Z" fill="#fcfdfc" stroke="#0a0a0a" stroke-width="1.4" />
<path d="M281.3 260.7 L268.5 264.3 L264.2 267.7 L278.2 263.2 Z" fill="#fcfdfc" stroke="#0a0a0a" stroke-width="1.4" />
<path d="M312.1 207.5 L310.7 191.2 L304.5 196.9 L307.6 211.6 Z" fill="#fcfdfc" stroke="#0a0a0a" stroke-width="1.4" />
<path d="M307.6 211.6 L304.5 196.9 L303.8 202.3 L307.0 215.6 Z" fill="#fcfdfc" stroke="#0a0a0a" stroke-width="1.4" />
<path d="M274.9 270.5 L259.7 277.7 L257.1 272.4 L273.1 266.6 Z" fill="#fcfdfc" stroke="#0a0a0a" stroke-width="1.4" />
<path d="M299.7 237.0 L301.7 240.7 L300.3 243.2 L296.1 243.4 Z" fill="#fcfdfc" stroke="#0a0a0a" stroke-width="1.4" />
<path d="M307.8 205.5 L304.9 188.4 L310.8 187.8 L312.2 205.1 Z" fill="#fcfdfc" stroke="#0a0a0a" stroke-width="1.4" />
<path d="M293.6 247.1 L294.6 251.8 L292.8 254.0 L289.2 252.8 Z" fill="#fcfdfc" stroke="#0a0a0a" stroke-width="1.4" />
<path d="M304.3 226.3 L307.3 228.7 L306.2 231.3 L301.6 232.9 Z" fill="#fcfdfc" stroke="#0a0a0a" stroke-width="1.4" />
<path d="M273.1 266.6 L257.1 272.4 L252.7 274.7 L269.9 268.2 Z" fill="#fcfdfc" stroke="#0a0a0a" stroke-width="1.4" />
<path d="M286.3 256.0 L286.1 261.5 L284.2 263.3 L281.3 260.7 Z" fill="#fcfdfc" stroke="#0a0a0a" stroke-width="1.4" />
<path d="M307.6 202.0 L304.6 183.6 L304.9 188.4 L307.8 205.5 Z" fill="#fcfdfc" stroke="#0a0a0a" stroke-width="1.4" />
<path d="M269.9 268.2 L252.7 274.7 L249.5 283.0 L267.6 274.3 Z" fill="#fcfdfc" stroke="#0a0a0a" stroke-width="1.4" />
<path d="M307.0 215.6 L310.8 216.6 L310.2 219.2 L305.5 222.2 Z" fill="#fcfdfc" stroke="#0a0a0a" stroke-width="1.4" />
<path d="M267.6 274.3 L249.5 283.0 L246.8 284.0 L265.6 275.0 Z" fill="#fcfdfc" stroke="#0a0a0a" stroke-width="1.4" />
<path d="M311.6 196.9 L310.1 176.6 L304.6 183.6 L307.6 202.0 Z" fill="#fcfdfc" stroke="#0a0a0a" stroke-width="1.4" />
<path d="M311.3 194.8 L309.6 173.7 L310.1 176.6 L311.6 196.9 Z" fill="#fcfdfc" stroke="#0a0a0a" stroke-width="1.4" />
<path d="M265.6 275.0 L246.8 284.0 L245.7 277.3 L264.8 270.2 Z" fill="#fcfdfc" stroke="#0a0a0a" stroke-width="1.4" />
<path d="M306.6 196.7 L303.2 176.3 L309.6 173.7 L311.3 194.8 Z" fill="#fcfdfc" stroke="#0a0a0a" stroke-width="1.4" />
<path d="M278.2 263.2 L277.0 269.1 L274.9 270.5 L273.1 266.6 Z" fill="#fcfdfc" stroke="#0a0a0a" stroke-width="1.4" />
<path d="M307.8 205.5 L312.2 205.1 L312.1 207.5 L307.6 211.6 Z" fill="#fcfdfc" stroke="#0a0a0a" stroke-width="1.4" />
<path d="M264.8 270.2 L245.7 277.3 L241.5 278.3 L261.7 270.9 Z" fill="#fcfdfc" stroke="#0a0a0a" stroke-width="1.4" />
<path d="M305.6 193.7 L301.9 172.3 L303.2 176.3 L306.6 196.7 Z" fill="#fcfdfc" stroke="#0a0a0a" stroke-width="1.4" />
<path d="M261.7 270.9 L241.5 278.3 L237.1 286.3 L258.5 276.7 Z" fill="#fcfdfc" stroke="#0a0a0a" stroke-width="1.4" />
<path d="M309.0 188.0 L306.5 164.4 L301.9 172.3 L305.6 193.7 Z" fill="#fcfdfc" stroke="#0a0a0a" stroke-width="1.4" />
<path d="M258.5 276.7 L237.1 286.3 L234.5 286.5 L256.6 276.8 Z" fill="#fcfdfc" stroke="#0a0a0a" stroke-width="1.4" />
<path d="M308.1 186.4 L305.3 162.1 L306.5 164.4 L309.0 188.0 Z" fill="#fcfdfc" stroke="#0a0a0a" stroke-width="1.4" />
<path d="M269.9 268.2 L267.6 274.3 L265.6 275.0 L264.8 270.2 Z" fill="#fcfdfc" stroke="#0a0a0a" stroke-width="1.4" />
<path d="M306.6 196.7 L311.3 194.8 L311.6 196.9 L307.6 202.0 Z" fill="#fcfdfc" stroke="#0a0a0a" stroke-width="1.4" />
<path d="M256.6 276.8 L234.5 286.5 L235.0 278.8 L257.0 271.2 Z" fill="#fcfdfc" stroke="#0a0a0a" stroke-width="1.4" />
<path d="M303.5 189.6 L298.9 166.5 L305.3 162.1 L308.1 186.4 Z" fill="#fcfdfc" stroke="#0a0a0a" stroke-width="1.4" />
<path d="M257.0 271.2 L235.0 278.8 L231.2 278.4 L254.2 270.9 Z" fill="#fcfdfc" stroke="#0a0a0a" stroke-width="1.4" />
<path d="M301.8 187.4 L296.6 163.5 L298.9 166.5 L303.5 189.6 Z" fill="#fcfdfc" stroke="#0a0a0a" stroke-width="1.4" />
<path d="M254.2 270.9 L231.2 278.4 L225.8 285.5 L250.3 276.1 Z" fill="#fcfdfc" stroke="#0a0a0a" stroke-width="1.4" />
<path d="M261.7 270.9 L258.5 276.7 L256.6 276.8 L257.0 271.2 Z" fill="#fcfdfc" stroke="#0a0a0a" stroke-width="1.4" />
<path d="M303.5 189.6 L308.1 186.4 L309.0 188.0 L305.6 193.7 Z" fill="#fcfdfc" stroke="#0a0a0a" stroke-width="1.4" />
<path d="M304.3 181.4 L300.0 155.3 L296.6 163.5 L301.8 187.4 Z" fill="#fcfdfc" stroke="#0a0a0a" stroke-width="1.4" />
<path d="M250.3 276.1 L225.8 285.5 L223.6 284.9 L248.7 275.6 Z" fill="#fcfdfc" stroke="#0a0a0a" stroke-width="1.4" />
<path d="M303.0 180.3 L298.2 153.7 L300.0 155.3 L304.3 181.4 Z" fill="#fcfdfc" stroke="#0a0a0a" stroke-width="1.4" />
<path d="M248.7 275.6 L223.6 284.9 L225.5 276.6 L250.1 269.7 Z" fill="#fcfdfc" stroke="#0a0a0a" stroke-width="1.4" />
<path d="M298.5 184.6 L292.1 159.7 L298.2 153.7 L303.0 180.3 Z" fill="#fcfdfc" stroke="#0a0a0a" stroke-width="1.4" />
<path d="M250.1 269.7 L225.5 276.6 L222.4 274.9 L247.9 268.4 Z" fill="#fcfdfc" stroke="#0a0a0a" stroke-width="1.4" />
<path d="M296.3 183.3 L289.0 158.0 L292.1 159.7 L298.5 184.6 Z" fill="#fcfdfc" stroke="#0a0a0a" stroke-width="1.4" />
<path d="M254.2 270.9 L250.3 276.1 L248.7 275.6 L250.1 269.7 Z" fill="#fcfdfc" stroke="#0a0a0a" stroke-width="1.4" />
<path d="M298.5 184.6 L303.0 180.3 L304.3 181.4 L301.8 187.4 Z" fill="#fcfdfc" stroke="#0a0a0a" stroke-width="1.4" />
<path d="M247.9 268.4 L222.4 274.9 L216.3 280.9 L243.4 272.7 Z" fill="#fcfdfc" stroke="#0a0a0a" stroke-width="1.4" />
<path d="M297.7 177.4 L291.0 149.7 L289.0 158.0 L296.3 183.3 Z" fill="#fcfdfc" stroke="#0a0a0a" stroke-width="1.4" />
<path d="M243.4 272.7 L216.3 280.9 L214.6 279.3 L242.1 271.6 Z" fill="#fcfdfc" stroke="#0a0a0a" stroke-width="1.4" />
<path d="M296.1 176.9 L288.7 149.1 L291.0 149.7 L297.7 177.4 Z" fill="#fcfdfc" stroke="#0a0a0a" stroke-width="1.4" />
<path d="M242.1 271.6 L214.6 279.3 L218.0 271.1 L244.6 265.6 Z" fill="#fcfdfc" stroke="#0a0a0a" stroke-width="1.4" />
<path d="M292.2 182.1 L283.3 156.2 L288.7 149.1 L296.1 176.9 Z" fill="#fcfdfc" stroke="#0a0a0a" stroke-width="1.4" />
<path d="M244.6 265.6 L218.0 271.1 L215.7 268.1 L242.9 263.4 Z" fill="#fcfdfc" stroke="#0a0a0a" stroke-width="1.4" />
<path d="M247.9 268.4 L243.4 272.7 L242.1 271.6 L244.6 265.6 Z" fill="#fcfdfc" stroke="#0a0a0a" stroke-width="1.4" />
<path d="M289.4 181.8 L279.6 155.8 L283.3 156.2 L292.2 182.1 Z" fill="#fcfdfc" stroke="#0a0a0a" stroke-width="1.4" />
<path d="M292.2 182.1 L296.1 176.9 L297.7 177.4 L296.3 183.3 Z" fill="#fcfdfc" stroke="#0a0a0a" stroke-width="1.4" />
<path d="M242.9 263.4 L215.7 268.1 L209.2 272.5 L238.3 266.6 Z" fill="#fcfdfc" stroke="#0a0a0a" stroke-width="1.4" />
<path d="M289.8 176.2 L280.0 148.1 L279.6 155.8 L289.4 181.8 Z" fill="#fcfdfc" stroke="#0a0a0a" stroke-width="1.4" />
<path d="M238.3 266.6 L209.2 272.5 L208.1 270.2 L237.4 265.0 Z" fill="#fcfdfc" stroke="#0a0a0a" stroke-width="1.4" />
<path d="M287.9 176.3 L277.5 148.3 L280.0 148.1 L289.8 176.2 Z" fill="#fcfdfc" stroke="#0a0a0a" stroke-width="1.4" />
<path d="M237.4 265.0 L208.1 270.2 L212.7 262.3 L240.8 259.3 Z" fill="#fcfdfc" stroke="#0a0a0a" stroke-width="1.4" />
<path d="M284.7 182.1 L273.0 156.3 L277.5 148.3 L287.9 176.3 Z" fill="#fcfdfc" stroke="#0a0a0a" stroke-width="1.4" />
<path d="M242.9 263.4 L238.3 266.6 L237.4 265.0 L240.8 259.3 Z" fill="#fcfdfc" stroke="#0a0a0a" stroke-width="1.4" />
<path d="M240.8 259.3 L212.7 262.3 L211.3 258.3 L239.8 256.3 Z" fill="#fcfdfc" stroke="#0a0a0a" stroke-width="1.4" />
<path d="M284.7 182.1 L287.9 176.3 L289.8 176.2 L289.4 181.8 Z" fill="#fcfdfc" stroke="#0a0a0a" stroke-width="1.4" />
<path d="M281.6 182.8 L268.9 157.3 L273.0 156.3 L284.7 182.1 Z" fill="#fcfdfc" stroke="#0a0a0a" stroke-width="1.4" />
<path d="M239.8 256.3 L211.3 258.3 L204.9 260.9 L235.1 258.2 Z" fill="#fcfdfc" stroke="#0a0a0a" stroke-width="1.4" />
<path d="M280.8 178.0 L267.8 150.6 L268.9 157.3 L281.6 182.8 Z" fill="#fcfdfc" stroke="#0a0a0a" stroke-width="1.4" />
<path d="M235.1 258.2 L204.9 260.9 L204.4 258.0 L234.8 256.1 Z" fill="#fcfdfc" stroke="#0a0a0a" stroke-width="1.4" />
<path d="M239.8 256.3 L235.1 258.2 L234.8 256.1 L238.8 251.0 Z" fill="#fcfdfc" stroke="#0a0a0a" stroke-width="1.4" />
<path d="M234.8 256.1 L204.4 258.0 L210.0 251.0 L238.8 251.0 Z" fill="#fcfdfc" stroke="#0a0a0a" stroke-width="1.4" />
<path d="M278.8 178.7 L265.0 151.6 L267.8 150.6 L280.8 178.0 Z" fill="#fcfdfc" stroke="#0a0a0a" stroke-width="1.4" />
<path d="M276.5 184.8 L278.8 178.7 L280.8 178.0 L281.6 182.8 Z" fill="#fcfdfc" stroke="#0a0a0a" stroke-width="1.4" />
<path d="M276.5 184.8 L261.8 159.9 L265.0 151.6 L278.8 178.7 Z" fill="#fcfdfc" stroke="#0a0a0a" stroke-width="1.4" />
<path d="M238.8 251.0 L210.0 251.0 L209.6 246.2 L238.6 247.5 Z" fill="#fcfdfc" stroke="#0a0a0a" stroke-width="1.4" />
<path d="M273.3 186.4 L257.5 162.2 L261.8 159.9 L276.5 184.8 Z" fill="#fcfdfc" stroke="#0a0a0a" stroke-width="1.4" />
<path d="M238.6 247.5 L209.6 246.2 L203.7 246.8 L234.2 247.9 Z" fill="#fcfdfc" stroke="#0a0a0a" stroke-width="1.4" />
<path d="M271.5 182.5 L254.9 156.9 L257.5 162.2 L273.3 186.4 Z" fill="#fcfdfc" stroke="#0a0a0a" stroke-width="1.4" />
<path d="M238.6 247.5 L234.2 247.9 L234.3 245.5 L238.8 241.4 Z" fill="#fcfdfc" stroke="#0a0a0a" stroke-width="1.4" />
<path d="M268.2 189.8 L269.4 183.9 L271.5 182.5 L273.3 186.4 Z" fill="#fcfdfc" stroke="#0a0a0a" stroke-width="1.4" />
<path d="M238.8 241.4 L210.0 237.7 L210.7 232.3 L239.4 237.4 Z" fill="#fcfdfc" stroke="#0a0a0a" stroke-width="1.4" />
<path d="M234.3 245.5 L203.8 243.4 L210.0 237.7 L238.8 241.4 Z" fill="#fcfdfc" stroke="#0a0a0a" stroke-width="1.4" />
<path d="M265.1 192.3 L246.1 170.3 L250.3 166.9 L268.2 189.8 Z" fill="#fcfdfc" stroke="#0a0a0a" stroke-width="1.4" />
<path d="M234.2 247.9 L203.7 246.8 L203.8 243.4 L234.3 245.5 Z" fill="#fcfdfc" stroke="#0a0a0a" stroke-width="1.4" />
<path d="M268.2 189.8 L250.3 166.9 L252.1 158.7 L269.4 183.9 Z" fill="#fcfdfc" stroke="#0a0a0a" stroke-width="1.4" />
<path d="M269.4 183.9 L252.1 158.7 L254.9 156.9 L271.5 182.5 Z" fill="#fcfdfc" stroke="#0a0a0a" stroke-width="1.4" />
<path d="M239.4 237.4 L210.7 232.3 L205.6 230.9 L235.6 236.4 Z" fill="#fcfdfc" stroke="#0a0a0a" stroke-width="1.4" />
<path d="M262.2 189.7 L242.1 166.7 L246.1 170.3 L265.1 192.3 Z" fill="#fcfdfc" stroke="#0a0a0a" stroke-width="1.4" />
<path d="M239.4 237.4 L235.6 236.4 L236.2 233.8 L240.9 230.8 Z" fill="#fcfdfc" stroke="#0a0a0a" stroke-width="1.4" />
<path d="M240.9 230.8 L212.8 223.3 L214.5 217.6 L242.1 226.7 Z" fill="#fcfdfc" stroke="#0a0a0a" stroke-width="1.4" />
<path d="M260.1 197.0 L260.3 191.5 L262.2 189.7 L265.1 192.3 Z" fill="#fcfdfc" stroke="#0a0a0a" stroke-width="1.4" />
<path d="M257.2 200.2 L235.3 181.2 L239.3 176.8 L260.1 197.0 Z" fill="#fcfdfc" stroke="#0a0a0a" stroke-width="1.4" />
<path d="M236.2 233.8 L206.4 227.4 L212.8 223.3 L240.9 230.8 Z" fill="#fcfdfc" stroke="#0a0a0a" stroke-width="1.4" />
<path d="M260.1 197.0 L239.3 176.8 L239.5 169.2 L260.3 191.5 Z" fill="#fcfdfc" stroke="#0a0a0a" stroke-width="1.4" />
<path d="M235.6 236.4 L205.6 230.9 L206.4 227.4 L236.2 233.8 Z" fill="#fcfdfc" stroke="#0a0a0a" stroke-width="1.4" />
<path d="M244.8 220.1 L218.2 208.4 L220.8 202.9 L246.7 216.0 Z" fill="#fcfdfc" stroke="#0a0a0a" stroke-width="1.4" />
<path d="M250.3 209.6 L225.8 194.1 L229.2 189.0 L252.8 205.9 Z" fill="#fcfdfc" stroke="#0a0a0a" stroke-width="1.4" />
<path d="M260.3 191.5 L239.5 169.2 L242.1 166.7 L262.2 189.7 Z" fill="#fcfdfc" stroke="#0a0a0a" stroke-width="1.4" />
<path d="M242.1 226.7 L239.1 224.3 L240.2 221.7 L244.8 220.1 Z" fill="#fcfdfc" stroke="#0a0a0a" stroke-width="1.4" />
<path d="M252.8 205.9 L251.8 201.2 L253.6 199.0 L257.2 200.2 Z" fill="#fcfdfc" stroke="#0a0a0a" stroke-width="1.4" />
<path d="M242.1 226.7 L214.5 217.6 L210.4 214.3 L239.1 224.3 Z" fill="#fcfdfc" stroke="#0a0a0a" stroke-width="1.4" />
<path d="M253.6 199.0 L230.3 179.4 L235.3 181.2 L257.2 200.2 Z" fill="#fcfdfc" stroke="#0a0a0a" stroke-width="1.4" />
<path d="M246.7 216.0 L244.7 212.3 L246.1 209.8 L250.3 209.6 Z" fill="#fcfdfc" stroke="#0a0a0a" stroke-width="1.4" />
<path d="M240.2 221.7 L211.9 210.7 L218.2 208.4 L244.8 220.1 Z" fill="#fcfdfc" stroke="#0a0a0a" stroke-width="1.4" />
<path d="M252.8 205.9 L229.2 189.0 L227.9 182.5 L251.8 201.2 Z" fill="#fcfdfc" stroke="#0a0a0a" stroke-width="1.4" />
<path d="M246.7 216.0 L220.8 202.9 L218.0 197.8 L244.7 212.3 Z" fill="#fcfdfc" stroke="#0a0a0a" stroke-width="1.4" />
<path d="M246.1 209.8 L220.0 194.4 L225.8 194.1 L250.3 209.6 Z" fill="#fcfdfc" stroke="#0a0a0a" stroke-width="1.4" />
<path d="M239.1 224.3 L210.4 214.3 L211.9 210.7 L240.2 221.7 Z" fill="#fcfdfc" stroke="#0a0a0a" stroke-width="1.4" />
<path d="M251.8 201.2 L227.9 182.5 L230.3 179.4 L253.6 199.0 Z" fill="#fcfdfc" stroke="#0a0a0a" stroke-width="1.4" />
<path d="M244.7 212.3 L218.0 197.8 L220.0 194.4 L246.1 209.8 Z" fill="#fcfdfc" stroke="#0a0a0a" stroke-width="1.4" />
<ellipse cx="273.2" cy="226.5" rx="48.99" ry="28.28" transform="rotate(-60 273.2 226.5)" fill="#fcfdfc" stroke="#0a0a0a" stroke-width="1.5499999999999998" />
<ellipse cx="273.2" cy="226.5" rx="46.50" ry="26.85" transform="rotate(-60 273.2 226.5)" fill="none" stroke="#0a0a0a" stroke-width="1.25" />
<path d="M282.3 207.2 L283.6 207.7 L284.7 208.4 L285.7 209.3 L286.5 210.3 L287.2 211.6 L287.8 213.0 L288.1 214.6 L288.4 216.3 L288.4 218.1 L288.3 220.0 L288.0 222.0 L287.5 224.1 L286.9 226.1 L286.2 228.2 L285.3 230.2 L284.2 232.2 L283.0 234.2 L281.8 236.0 L280.4 237.8 L279.0 239.4 L277.4 240.9 L275.9 242.2 L274.3 243.4 L272.7 244.3 L271.1 245.1 L269.5 245.7 L268.0 246.0 L266.5 246.1 L265.1 246.0 L263.8 245.7 L262.6 245.2 L261.5 244.5 L260.6 243.6 L259.7 242.4 L259.1 241.1 L258.6 239.7 L258.2 238.1 L258.0 236.4 L258.0 234.5 L258.2 232.6 L258.5 230.6 L259.0 228.6 L259.6 226.5 L260.4 224.4 L261.3 222.4 L262.4 220.4 L263.6 218.5 L264.9 216.6 L266.3 214.9 L267.7 213.3 L269.2 211.8 L270.8 210.5 L272.4 209.4 L274.0 208.5 L274.1 205.8 L283.7 204.3 Z" fill="none" stroke="#0a0a0a" stroke-width="1.5999999999999999" />
<ellipse cx="358.9" cy="132.7" rx="33.80" ry="19.52" transform="rotate(60 358.9 132.7)" fill="#fcfdfc" stroke="#0a0a0a" stroke-width="1.4" />
<path d="M330.9 150.9 L338.0 147.8 L339.9 150.6 L332.1 152.7 Z" fill="#fcfdfc" stroke="#0a0a0a" stroke-width="1.4" />
<path d="M326.8 142.5 L331.8 135.0 L333.0 138.1 L327.6 144.5 Z" fill="#fcfdfc" stroke="#0a0a0a" stroke-width="1.4" />
<path d="M331.8 148.2 L339.3 143.7 L338.0 147.8 L330.9 150.9 Z" fill="#fcfdfc" stroke="#0a0a0a" stroke-width="1.4" />
<path d="M327.6 144.5 L333.0 138.1 L337.3 139.8 L330.5 145.6 Z" fill="#fcfdfc" stroke="#0a0a0a" stroke-width="1.4" />
<path d="M332.1 152.7 L339.9 150.6 L343.7 150.2 L334.6 152.4 Z" fill="#fcfdfc" stroke="#0a0a0a" stroke-width="1.4" />
<path d="M336.7 158.0 L346.9 158.7 L349.1 160.7 L338.2 159.3 Z" fill="#fcfdfc" stroke="#0a0a0a" stroke-width="1.4" />
<path d="M328.7 141.0 L334.6 132.7 L331.8 135.0 L326.8 142.5 Z" fill="#fcfdfc" stroke="#0a0a0a" stroke-width="1.4" />
<path d="M330.5 145.6 L337.3 139.8 L339.3 143.7 L331.8 148.2 Z" fill="#fcfdfc" stroke="#0a0a0a" stroke-width="1.4" />
<path d="M336.4 154.5 L346.5 153.4 L346.9 158.7 L336.7 158.0 Z" fill="#fcfdfc" stroke="#0a0a0a" stroke-width="1.4" />
<path d="M334.6 152.4 L343.7 150.2 L346.5 153.4 L336.4 154.5 Z" fill="#fcfdfc" stroke="#0a0a0a" stroke-width="1.4" />
<path d="M325.1 134.1 L329.1 122.2 L329.4 125.0 L325.3 136.0 Z" fill="#fcfdfc" stroke="#0a0a0a" stroke-width="1.4" />
<path d="M325.3 136.0 L329.4 125.0 L333.7 128.8 L328.1 138.4 Z" fill="#fcfdfc" stroke="#0a0a0a" stroke-width="1.4" />
<path d="M338.2 159.3 L349.1 160.7 L351.8 158.2 L339.9 157.6 Z" fill="#fcfdfc" stroke="#0a0a0a" stroke-width="1.4" />
<path d="M328.1 138.4 L333.7 128.8 L334.6 132.7 L328.7 141.0 Z" fill="#fcfdfc" stroke="#0a0a0a" stroke-width="1.4" />
<path d="M327.6 134.0 L333.0 122.1 L329.1 122.2 L325.1 134.1 Z" fill="#fcfdfc" stroke="#0a0a0a" stroke-width="1.4" />
<path d="M339.9 157.6 L351.8 158.2 L354.9 160.2 L341.9 159.0 Z" fill="#fcfdfc" stroke="#0a0a0a" stroke-width="1.4" />
<path d="M341.9 159.0 L354.9 160.2 L356.9 165.9 L343.3 162.7 Z" fill="#fcfdfc" stroke="#0a0a0a" stroke-width="1.4" />
<path d="M343.3 162.7 L356.9 165.9 L359.3 166.9 L344.8 163.3 Z" fill="#fcfdfc" stroke="#0a0a0a" stroke-width="1.4" />
<path d="M327.8 131.8 L333.2 118.6 L333.0 122.1 L327.6 134.0 Z" fill="#fcfdfc" stroke="#0a0a0a" stroke-width="1.4" />
<path d="M325.5 128.4 L329.7 113.5 L333.2 118.6 L327.8 131.8 Z" fill="#fcfdfc" stroke="#0a0a0a" stroke-width="1.4" />
<path d="M344.8 163.3 L359.3 166.9 L360.3 162.6 L345.5 160.5 Z" fill="#fcfdfc" stroke="#0a0a0a" stroke-width="1.4" />
<path d="M331.8 148.2 L330.9 150.9 L332.1 152.7 L334.6 152.4 Z" fill="#fcfdfc" stroke="#0a0a0a" stroke-width="1.4" />
<path d="M325.9 127.0 L330.3 111.3 L329.7 113.5 L325.5 128.4 Z" fill="#fcfdfc" stroke="#0a0a0a" stroke-width="1.4" />
<path d="M328.7 141.0 L326.8 142.5 L327.6 144.5 L330.5 145.6 Z" fill="#fcfdfc" stroke="#0a0a0a" stroke-width="1.4" />
<path d="M336.4 154.5 L336.7 158.0 L338.2 159.3 L339.9 157.6 Z" fill="#fcfdfc" stroke="#0a0a0a" stroke-width="1.4" />
<path d="M328.7 128.3 L334.7 113.3 L330.3 111.3 L325.9 127.0 Z" fill="#fcfdfc" stroke="#0a0a0a" stroke-width="1.4" />
<path d="M345.5 160.5 L360.3 162.6 L363.3 163.2 L347.4 160.9 Z" fill="#fcfdfc" stroke="#0a0a0a" stroke-width="1.4" />
<path d="M327.6 134.0 L325.1 134.1 L325.3 136.0 L328.1 138.4 Z" fill="#fcfdfc" stroke="#0a0a0a" stroke-width="1.4" />
<path d="M347.4 160.9 L363.3 163.2 L366.7 168.4 L349.6 164.3 Z" fill="#fcfdfc" stroke="#0a0a0a" stroke-width="1.4" />
<path d="M349.6 164.3 L366.7 168.4 L368.7 168.3 L351.0 164.2 Z" fill="#fcfdfc" stroke="#0a0a0a" stroke-width="1.4" />
<path d="M329.7 126.7 L336.1 111.0 L334.7 113.3 L328.7 128.3 Z" fill="#fcfdfc" stroke="#0a0a0a" stroke-width="1.4" />
<path d="M341.9 159.0 L343.3 162.7 L344.8 163.3 L345.5 160.5 Z" fill="#fcfdfc" stroke="#0a0a0a" stroke-width="1.4" />
<path d="M328.2 123.0 L333.9 105.3 L336.1 111.0 L329.7 126.7 Z" fill="#fcfdfc" stroke="#0a0a0a" stroke-width="1.4" />
<path d="M351.0 164.2 L368.7 168.3 L368.1 162.9 L350.6 160.7 Z" fill="#fcfdfc" stroke="#0a0a0a" stroke-width="1.4" />
<path d="M328.7 128.3 L325.9 127.0 L325.5 128.4 L327.8 131.8 Z" fill="#fcfdfc" stroke="#0a0a0a" stroke-width="1.4" />
<path d="M329.1 122.2 L335.3 104.0 L333.9 105.3 L328.2 123.0 Z" fill="#fcfdfc" stroke="#0a0a0a" stroke-width="1.4" />
<path d="M350.6 160.7 L368.1 162.9 L370.5 161.9 L352.1 160.0 Z" fill="#fcfdfc" stroke="#0a0a0a" stroke-width="1.4" />
<path d="M331.9 124.8 L339.5 107.9 L335.3 104.0 L329.1 122.2 Z" fill="#fcfdfc" stroke="#0a0a0a" stroke-width="1.4" />
<path d="M347.4 160.9 L349.6 164.3 L351.0 164.2 L350.6 160.7 Z" fill="#fcfdfc" stroke="#0a0a0a" stroke-width="1.4" />
<path d="M352.1 160.0 L370.5 161.9 L374.7 165.8 L354.9 162.6 Z" fill="#fcfdfc" stroke="#0a0a0a" stroke-width="1.4" />
<path d="M333.4 124.1 L341.9 106.9 L339.5 107.9 L331.9 124.8 Z" fill="#fcfdfc" stroke="#0a0a0a" stroke-width="1.4" />
<path d="M354.9 162.6 L374.7 165.8 L376.1 164.5 L355.8 161.8 Z" fill="#fcfdfc" stroke="#0a0a0a" stroke-width="1.4" />
<path d="M331.9 124.8 L329.1 122.2 L328.2 123.0 L329.7 126.7 Z" fill="#fcfdfc" stroke="#0a0a0a" stroke-width="1.4" />
<path d="M333.0 120.6 L341.2 101.5 L341.9 106.9 L333.4 124.1 Z" fill="#fcfdfc" stroke="#0a0a0a" stroke-width="1.4" />
<path d="M355.8 161.8 L376.1 164.5 L373.9 158.8 L354.3 158.1 Z" fill="#fcfdfc" stroke="#0a0a0a" stroke-width="1.4" />
<path d="M354.3 158.1 L373.9 158.8 L375.3 156.5 L355.3 156.5 Z" fill="#fcfdfc" stroke="#0a0a0a" stroke-width="1.4" />
<path d="M334.4 120.5 L343.3 101.4 L341.2 101.5 L333.0 120.6 Z" fill="#fcfdfc" stroke="#0a0a0a" stroke-width="1.4" />
<path d="M352.1 160.0 L354.9 162.6 L355.8 161.8 L354.3 158.1 Z" fill="#fcfdfc" stroke="#0a0a0a" stroke-width="1.4" />
<path d="M336.6 123.9 L346.7 106.6 L343.3 101.4 L334.4 120.5 Z" fill="#fcfdfc" stroke="#0a0a0a" stroke-width="1.4" />
<path d="M338.5 124.3 L349.6 107.2 L346.7 106.6 L336.6 123.9 Z" fill="#fcfdfc" stroke="#0a0a0a" stroke-width="1.4" />
<path d="M355.3 156.5 L375.3 156.5 L379.7 158.5 L358.1 157.8 Z" fill="#fcfdfc" stroke="#0a0a0a" stroke-width="1.4" />
<path d="M336.6 123.9 L334.4 120.5 L333.0 120.6 L333.4 124.1 Z" fill="#fcfdfc" stroke="#0a0a0a" stroke-width="1.4" />
<path d="M358.1 157.8 L379.7 158.5 L380.3 156.3 L358.5 156.4 Z" fill="#fcfdfc" stroke="#0a0a0a" stroke-width="1.4" />
<path d="M339.2 121.5 L350.7 102.9 L349.6 107.2 L338.5 124.3 Z" fill="#fcfdfc" stroke="#0a0a0a" stroke-width="1.4" />
<path d="M358.5 156.4 L380.3 156.3 L376.7 151.2 L356.2 153.0 Z" fill="#fcfdfc" stroke="#0a0a0a" stroke-width="1.4" />
<path d="M356.2 153.0 L376.7 151.2 L377.0 147.7 L356.4 150.8 Z" fill="#fcfdfc" stroke="#0a0a0a" stroke-width="1.4" />
<path d="M355.3 156.5 L358.1 157.8 L358.5 156.4 L356.2 153.0 Z" fill="#fcfdfc" stroke="#0a0a0a" stroke-width="1.4" />
<path d="M340.7 122.1 L353.1 103.9 L350.7 102.9 L339.2 121.5 Z" fill="#fcfdfc" stroke="#0a0a0a" stroke-width="1.4" />
<path d="M342.1 125.8 L355.1 109.6 L353.1 103.9 L340.7 122.1 Z" fill="#fcfdfc" stroke="#0a0a0a" stroke-width="1.4" />
<path d="M344.1 127.2 L358.2 111.6 L355.1 109.6 L342.1 125.8 Z" fill="#fcfdfc" stroke="#0a0a0a" stroke-width="1.4" />
<path d="M342.1 125.8 L340.7 122.1 L339.2 121.5 L338.5 124.3 Z" fill="#fcfdfc" stroke="#0a0a0a" stroke-width="1.4" />
<path d="M356.4 150.8 L377.0 147.7 L380.9 147.6 L358.9 150.7 Z" fill="#fcfdfc" stroke="#0a0a0a" stroke-width="1.4" />
<path d="M355.9 146.4 L376.3 141.0 L375.4 137.1 L355.3 143.8 Z" fill="#fcfdfc" stroke="#0a0a0a" stroke-width="1.4" />
<path d="M345.8 125.5 L360.8 109.1 L358.2 111.6 L344.1 127.2 Z" fill="#fcfdfc" stroke="#0a0a0a" stroke-width="1.4" />
<path d="M358.7 148.8 L380.6 144.8 L376.3 141.0 L355.9 146.4 Z" fill="#fcfdfc" stroke="#0a0a0a" stroke-width="1.4" />
<path d="M356.4 150.8 L358.9 150.7 L358.7 148.8 L355.9 146.4 Z" fill="#fcfdfc" stroke="#0a0a0a" stroke-width="1.4" />
<path d="M358.9 150.7 L380.9 147.6 L380.6 144.8 L358.7 148.8 Z" fill="#fcfdfc" stroke="#0a0a0a" stroke-width="1.4" />
<path d="M349.4 132.4 L366.3 119.6 L363.5 116.4 L347.6 130.3 Z" fill="#fcfdfc" stroke="#0a0a0a" stroke-width="1.4" />
<path d="M347.6 130.3 L363.5 116.4 L363.1 111.1 L347.3 126.8 Z" fill="#fcfdfc" stroke="#0a0a0a" stroke-width="1.4" />
<path d="M353.5 139.2 L372.7 130.0 L370.6 126.1 L352.2 136.6 Z" fill="#fcfdfc" stroke="#0a0a0a" stroke-width="1.4" />
<path d="M347.6 130.3 L347.3 126.8 L345.8 125.5 L344.1 127.2 Z" fill="#fcfdfc" stroke="#0a0a0a" stroke-width="1.4" />
<path d="M355.3 143.8 L375.4 137.1 L378.2 134.8 L357.2 142.3 Z" fill="#fcfdfc" stroke="#0a0a0a" stroke-width="1.4" />
<path d="M347.3 126.8 L363.1 111.1 L360.8 109.1 L345.8 125.5 Z" fill="#fcfdfc" stroke="#0a0a0a" stroke-width="1.4" />
<path d="M351.9 132.1 L370.1 119.2 L366.3 119.6 L349.4 132.4 Z" fill="#fcfdfc" stroke="#0a0a0a" stroke-width="1.4" />
<path d="M356.4 140.3 L377.0 131.7 L372.7 130.0 L353.5 139.2 Z" fill="#fcfdfc" stroke="#0a0a0a" stroke-width="1.4" />
<path d="M355.3 143.8 L357.2 142.3 L356.4 140.3 L353.5 139.2 Z" fill="#fcfdfc" stroke="#0a0a0a" stroke-width="1.4" />
<path d="M352.2 136.6 L370.6 126.1 L371.9 122.0 L353.1 133.9 Z" fill="#fcfdfc" stroke="#0a0a0a" stroke-width="1.4" />
<path d="M352.2 136.6 L353.1 133.9 L351.9 132.1 L349.4 132.4 Z" fill="#fcfdfc" stroke="#0a0a0a" stroke-width="1.4" />
<path d="M357.2 142.3 L378.2 134.8 L377.0 131.7 L356.4 140.3 Z" fill="#fcfdfc" stroke="#0a0a0a" stroke-width="1.4" />
<path d="M353.1 133.9 L371.9 122.0 L370.1 119.2 L351.9 132.1 Z" fill="#fcfdfc" stroke="#0a0a0a" stroke-width="1.4" />
<ellipse cx="342.0" cy="142.4" rx="20.33" ry="11.74" transform="rotate(60 342.0 142.4)" fill="#fcfdfc" stroke="#0a0a0a" stroke-width="1.5499999999999998" />
<ellipse cx="342.0" cy="142.4" rx="17.00" ry="9.81" transform="rotate(60 342.0 142.4)" fill="none" stroke="#0a0a0a" stroke-width="1.25" />
<ellipse cx="342.0" cy="142.4" rx="13.50" ry="7.79" transform="rotate(60 342.0 142.4)" fill="none" stroke="#0a0a0a" stroke-width="1.5" />
<path d="M694.7 384.9 L689.5 381.0 L687.6 384.4 L693.3 387.4 Z" fill="#fcfdfc" stroke="#0a0a0a" stroke-width="1.15" stroke-dasharray="0.1 4.1" stroke-linecap="round"/>
<path d="M687.6 396.0 L679.6 396.3 L677.3 399.4 L685.8 398.2 Z" fill="#fcfdfc" stroke="#0a0a0a" stroke-width="1.15" stroke-dasharray="0.1 4.1" stroke-linecap="round"/>
<path d="M700.3 372.9 L697.1 364.5 L695.7 368.1 L699.2 375.5 Z" fill="#fcfdfc" stroke="#0a0a0a" stroke-width="1.15" stroke-dasharray="0.1 4.1" stroke-linecap="round"/>
<path d="M693.3 387.4 L687.6 384.4 L681.7 384.7 L689.1 387.6 Z" fill="#fcfdfc" stroke="#0a0a0a" stroke-width="1.15" stroke-dasharray="0.1 4.1" stroke-linecap="round"/>
<path d="M692.7 381.2 L686.7 375.9 L689.5 381.0 L694.7 384.9 Z" fill="#fcfdfc" stroke="#0a0a0a" stroke-width="1.15" stroke-dasharray="0.1 4.1" stroke-linecap="round"/>
<path d="M686.6 391.3 L678.3 389.8 L679.6 396.3 L687.6 396.0 Z" fill="#fcfdfc" stroke="#0a0a0a" stroke-width="1.15" stroke-dasharray="0.1 4.1" stroke-linecap="round"/>
<path d="M699.2 375.5 L695.7 368.1 L689.4 370.4 L694.6 377.1 Z" fill="#fcfdfc" stroke="#0a0a0a" stroke-width="1.15" stroke-dasharray="0.1 4.1" stroke-linecap="round"/>
<path d="M685.8 398.2 L677.3 399.4 L672.2 397.6 L682.2 397.0 Z" fill="#fcfdfc" stroke="#0a0a0a" stroke-width="1.15" stroke-dasharray="0.1 4.1" stroke-linecap="round"/>
<path d="M697.3 370.5 L693.0 361.2 L697.1 364.5 L700.3 372.9 Z" fill="#fcfdfc" stroke="#0a0a0a" stroke-width="1.15" stroke-dasharray="0.1 4.1" stroke-linecap="round"/>
<path d="M679.1 405.7 L668.1 409.6 L665.4 412.1 L677.2 407.5 Z" fill="#fcfdfc" stroke="#0a0a0a" stroke-width="1.15" stroke-dasharray="0.1 4.1" stroke-linecap="round"/>
<path d="M689.1 387.6 L681.7 384.7 L678.3 389.8 L686.6 391.3 Z" fill="#fcfdfc" stroke="#0a0a0a" stroke-width="1.15" stroke-dasharray="0.1 4.1" stroke-linecap="round"/>
<path d="M694.6 377.1 L689.4 370.4 L686.7 375.9 L692.7 381.2 Z" fill="#fcfdfc" stroke="#0a0a0a" stroke-width="1.15" stroke-dasharray="0.1 4.1" stroke-linecap="round"/>
<path d="M703.8 360.8 L702.0 347.9 L701.2 351.4 L703.2 363.4 Z" fill="#fcfdfc" stroke="#0a0a0a" stroke-width="1.15" stroke-dasharray="0.1 4.1" stroke-linecap="round"/>
<path d="M679.3 400.2 L668.3 402.0 L668.1 409.6 L679.1 405.7 Z" fill="#fcfdfc" stroke="#0a0a0a" stroke-width="1.15" stroke-dasharray="0.1 4.1" stroke-linecap="round"/>
<path d="M703.2 363.4 L701.2 351.4 L694.7 355.5 L698.5 366.4 Z" fill="#fcfdfc" stroke="#0a0a0a" stroke-width="1.15" stroke-dasharray="0.1 4.1" stroke-linecap="round"/>
<path d="M682.2 397.0 L672.2 397.6 L668.3 402.0 L679.3 400.2 Z" fill="#fcfdfc" stroke="#0a0a0a" stroke-width="1.15" stroke-dasharray="0.1 4.1" stroke-linecap="round"/>
<path d="M698.5 366.4 L694.7 355.5 L693.0 361.2 L697.3 370.5 Z" fill="#fcfdfc" stroke="#0a0a0a" stroke-width="1.15" stroke-dasharray="0.1 4.1" stroke-linecap="round"/>
<path d="M677.2 407.5 L665.4 412.1 L661.5 408.5 L674.3 404.9 Z" fill="#fcfdfc" stroke="#0a0a0a" stroke-width="1.15" stroke-dasharray="0.1 4.1" stroke-linecap="round"/>
<path d="M700.0 359.8 L696.8 346.5 L702.0 347.9 L703.8 360.8 Z" fill="#fcfdfc" stroke="#0a0a0a" stroke-width="1.15" stroke-dasharray="0.1 4.1" stroke-linecap="round"/>
<path d="M670.0 413.3 L655.5 420.1 L652.7 421.9 L667.9 414.7 Z" fill="#fcfdfc" stroke="#0a0a0a" stroke-width="1.15" stroke-dasharray="0.1 4.1" stroke-linecap="round"/>
<path d="M671.2 407.4 L657.2 411.9 L655.5 420.1 L670.0 413.3 Z" fill="#fcfdfc" stroke="#0a0a0a" stroke-width="1.15" stroke-dasharray="0.1 4.1" stroke-linecap="round"/>
<path d="M705.2 349.3 L703.8 332.0 L703.7 335.4 L705.1 351.7 Z" fill="#fcfdfc" stroke="#0a0a0a" stroke-width="1.15" stroke-dasharray="0.1 4.1" stroke-linecap="round"/>
<path d="M674.3 404.9 L661.5 408.5 L657.2 411.9 L671.2 407.4 Z" fill="#fcfdfc" stroke="#0a0a0a" stroke-width="1.15" stroke-dasharray="0.1 4.1" stroke-linecap="round"/>
<path d="M705.1 351.7 L703.7 335.4 L697.5 341.1 L700.6 355.8 Z" fill="#fcfdfc" stroke="#0a0a0a" stroke-width="1.15" stroke-dasharray="0.1 4.1" stroke-linecap="round"/>
<path d="M700.6 355.8 L697.5 341.1 L696.8 346.5 L700.0 359.8 Z" fill="#fcfdfc" stroke="#0a0a0a" stroke-width="1.15" stroke-dasharray="0.1 4.1" stroke-linecap="round"/>
<path d="M667.9 414.7 L652.7 421.9 L650.1 416.6 L666.1 410.8 Z" fill="#fcfdfc" stroke="#0a0a0a" stroke-width="1.15" stroke-dasharray="0.1 4.1" stroke-linecap="round"/>
<path d="M692.7 381.2 L694.7 384.9 L693.3 387.4 L689.1 387.6 Z" fill="#fcfdfc" stroke="#0a0a0a" stroke-width="1.15" stroke-dasharray="0.1 4.1" stroke-linecap="round"/>
<path d="M700.8 349.7 L697.9 332.6 L703.8 332.0 L705.2 349.3 Z" fill="#fcfdfc" stroke="#0a0a0a" stroke-width="1.15" stroke-dasharray="0.1 4.1" stroke-linecap="round"/>
<path d="M686.6 391.3 L687.6 396.0 L685.8 398.2 L682.2 397.0 Z" fill="#fcfdfc" stroke="#0a0a0a" stroke-width="1.15" stroke-dasharray="0.1 4.1" stroke-linecap="round"/>
<path d="M697.3 370.5 L700.3 372.9 L699.2 375.5 L694.6 377.1 Z" fill="#fcfdfc" stroke="#0a0a0a" stroke-width="1.15" stroke-dasharray="0.1 4.1" stroke-linecap="round"/>
<path d="M666.1 410.8 L650.1 416.6 L645.7 418.9 L662.9 412.4 Z" fill="#fcfdfc" stroke="#0a0a0a" stroke-width="1.15" stroke-dasharray="0.1 4.1" stroke-linecap="round"/>
<path d="M679.3 400.2 L679.1 405.7 L677.2 407.5 L674.3 404.9 Z" fill="#fcfdfc" stroke="#0a0a0a" stroke-width="1.15" stroke-dasharray="0.1 4.1" stroke-linecap="round"/>
<path d="M700.6 346.2 L697.6 327.8 L697.9 332.6 L700.8 349.7 Z" fill="#fcfdfc" stroke="#0a0a0a" stroke-width="1.15" stroke-dasharray="0.1 4.1" stroke-linecap="round"/>
<path d="M662.9 412.4 L645.7 418.9 L642.5 427.2 L660.6 418.5 Z" fill="#fcfdfc" stroke="#0a0a0a" stroke-width="1.15" stroke-dasharray="0.1 4.1" stroke-linecap="round"/>
<path d="M700.0 359.8 L703.8 360.8 L703.2 363.4 L698.5 366.4 Z" fill="#fcfdfc" stroke="#0a0a0a" stroke-width="1.15" stroke-dasharray="0.1 4.1" stroke-linecap="round"/>
<path d="M660.6 418.5 L642.5 427.2 L639.8 428.2 L658.6 419.2 Z" fill="#fcfdfc" stroke="#0a0a0a" stroke-width="1.15" stroke-dasharray="0.1 4.1" stroke-linecap="round"/>
<path d="M704.6 341.1 L703.1 320.8 L697.6 327.8 L700.6 346.2 Z" fill="#fcfdfc" stroke="#0a0a0a" stroke-width="1.15" stroke-dasharray="0.1 4.1" stroke-linecap="round"/>
<path d="M704.3 339.0 L702.6 317.9 L703.1 320.8 L704.6 341.1 Z" fill="#fcfdfc" stroke="#0a0a0a" stroke-width="1.15" stroke-dasharray="0.1 4.1" stroke-linecap="round"/>
<path d="M658.6 419.2 L639.8 428.2 L638.7 421.5 L657.8 414.4 Z" fill="#fcfdfc" stroke="#0a0a0a" stroke-width="1.15" stroke-dasharray="0.1 4.1" stroke-linecap="round"/>
<path d="M699.6 340.9 L696.2 320.5 L702.6 317.9 L704.3 339.0 Z" fill="#fcfdfc" stroke="#0a0a0a" stroke-width="1.15" stroke-dasharray="0.1 4.1" stroke-linecap="round"/>
<path d="M671.2 407.4 L670.0 413.3 L667.9 414.7 L666.1 410.8 Z" fill="#fcfdfc" stroke="#0a0a0a" stroke-width="1.15" stroke-dasharray="0.1 4.1" stroke-linecap="round"/>
<path d="M700.8 349.7 L705.2 349.3 L705.1 351.7 L700.6 355.8 Z" fill="#fcfdfc" stroke="#0a0a0a" stroke-width="1.15" stroke-dasharray="0.1 4.1" stroke-linecap="round"/>
<path d="M657.8 414.4 L638.7 421.5 L634.5 422.5 L654.7 415.1 Z" fill="#fcfdfc" stroke="#0a0a0a" stroke-width="1.15" stroke-dasharray="0.1 4.1" stroke-linecap="round"/>
<path d="M698.6 337.9 L694.9 316.5 L696.2 320.5 L699.6 340.9 Z" fill="#fcfdfc" stroke="#0a0a0a" stroke-width="1.15" stroke-dasharray="0.1 4.1" stroke-linecap="round"/>
<path d="M654.7 415.1 L634.5 422.5 L630.1 430.5 L651.5 420.9 Z" fill="#fcfdfc" stroke="#0a0a0a" stroke-width="1.15" stroke-dasharray="0.1 4.1" stroke-linecap="round"/>
<path d="M702.0 332.2 L699.5 308.6 L694.9 316.5 L698.6 337.9 Z" fill="#fcfdfc" stroke="#0a0a0a" stroke-width="1.15" stroke-dasharray="0.1 4.1" stroke-linecap="round"/>
<path d="M651.5 420.9 L630.1 430.5 L627.5 430.7 L649.6 421.0 Z" fill="#fcfdfc" stroke="#0a0a0a" stroke-width="1.15" stroke-dasharray="0.1 4.1" stroke-linecap="round"/>
<path d="M701.1 330.6 L698.3 306.3 L699.5 308.6 L702.0 332.2 Z" fill="#fcfdfc" stroke="#0a0a0a" stroke-width="1.15" stroke-dasharray="0.1 4.1" stroke-linecap="round"/>
<path d="M662.9 412.4 L660.6 418.5 L658.6 419.2 L657.8 414.4 Z" fill="#fcfdfc" stroke="#0a0a0a" stroke-width="1.15" stroke-dasharray="0.1 4.1" stroke-linecap="round"/>
<path d="M699.6 340.9 L704.3 339.0 L704.6 341.1 L700.6 346.2 Z" fill="#fcfdfc" stroke="#0a0a0a" stroke-width="1.15" stroke-dasharray="0.1 4.1" stroke-linecap="round"/>
<path d="M649.6 421.0 L627.5 430.7 L628.0 423.0 L650.0 415.4 Z" fill="#fcfdfc" stroke="#0a0a0a" stroke-width="1.15" stroke-dasharray="0.1 4.1" stroke-linecap="round"/>
<path d="M696.5 333.8 L691.9 310.7 L698.3 306.3 L701.1 330.6 Z" fill="#fcfdfc" stroke="#0a0a0a" stroke-width="1.15" stroke-dasharray="0.1 4.1" stroke-linecap="round"/>
<path d="M650.0 415.4 L628.0 423.0 L624.2 422.6 L647.2 415.1 Z" fill="#fcfdfc" stroke="#0a0a0a" stroke-width="1.15" stroke-dasharray="0.1 4.1" stroke-linecap="round"/>
<path d="M694.8 331.6 L689.6 307.7 L691.9 310.7 L696.5 333.8 Z" fill="#fcfdfc" stroke="#0a0a0a" stroke-width="1.15" stroke-dasharray="0.1 4.1" stroke-linecap="round"/>
<path d="M647.2 415.1 L624.2 422.6 L618.8 429.7 L643.3 420.3 Z" fill="#fcfdfc" stroke="#0a0a0a" stroke-width="1.15" stroke-dasharray="0.1 4.1" stroke-linecap="round"/>
<path d="M654.7 415.1 L651.5 420.9 L649.6 421.0 L650.0 415.4 Z" fill="#fcfdfc" stroke="#0a0a0a" stroke-width="1.15" stroke-dasharray="0.1 4.1" stroke-linecap="round"/>
<path d="M696.5 333.8 L701.1 330.6 L702.0 332.2 L698.6 337.9 Z" fill="#fcfdfc" stroke="#0a0a0a" stroke-width="1.15" stroke-dasharray="0.1 4.1" stroke-linecap="round"/>
<path d="M697.3 325.6 L693.0 299.5 L689.6 307.7 L694.8 331.6 Z" fill="#fcfdfc" stroke="#0a0a0a" stroke-width="1.15" stroke-dasharray="0.1 4.1" stroke-linecap="round"/>
<path d="M643.3 420.3 L618.8 429.7 L616.6 429.1 L641.7 419.8 Z" fill="#fcfdfc" stroke="#0a0a0a" stroke-width="1.15" stroke-dasharray="0.1 4.1" stroke-linecap="round"/>
<path d="M696.0 324.5 L691.2 297.9 L693.0 299.5 L697.3 325.6 Z" fill="#fcfdfc" stroke="#0a0a0a" stroke-width="1.15" stroke-dasharray="0.1 4.1" stroke-linecap="round"/>
<path d="M641.7 419.8 L616.6 429.1 L618.5 420.8 L643.1 413.9 Z" fill="#fcfdfc" stroke="#0a0a0a" stroke-width="1.15" stroke-dasharray="0.1 4.1" stroke-linecap="round"/>
<path d="M691.5 328.8 L685.1 303.9 L691.2 297.9 L696.0 324.5 Z" fill="#fcfdfc" stroke="#0a0a0a" stroke-width="1.15" stroke-dasharray="0.1 4.1" stroke-linecap="round"/>
<path d="M643.1 413.9 L618.5 420.8 L615.4 419.1 L640.9 412.6 Z" fill="#fcfdfc" stroke="#0a0a0a" stroke-width="1.15" stroke-dasharray="0.1 4.1" stroke-linecap="round"/>
<path d="M689.3 327.5 L682.0 302.2 L685.1 303.9 L691.5 328.8 Z" fill="#fcfdfc" stroke="#0a0a0a" stroke-width="1.15" stroke-dasharray="0.1 4.1" stroke-linecap="round"/>
<path d="M647.2 415.1 L643.3 420.3 L641.7 419.8 L643.1 413.9 Z" fill="#fcfdfc" stroke="#0a0a0a" stroke-width="1.15" stroke-dasharray="0.1 4.1" stroke-linecap="round"/>
<path d="M691.5 328.8 L696.0 324.5 L697.3 325.6 L694.8 331.6 Z" fill="#fcfdfc" stroke="#0a0a0a" stroke-width="1.15" stroke-dasharray="0.1 4.1" stroke-linecap="round"/>
<path d="M640.9 412.6 L615.4 419.1 L609.3 425.1 L636.4 416.9 Z" fill="#fcfdfc" stroke="#0a0a0a" stroke-width="1.15" stroke-dasharray="0.1 4.1" stroke-linecap="round"/>
<path d="M690.7 321.6 L684.0 293.9 L682.0 302.2 L689.3 327.5 Z" fill="#fcfdfc" stroke="#0a0a0a" stroke-width="1.15" stroke-dasharray="0.1 4.1" stroke-linecap="round"/>
<path d="M636.4 416.9 L609.3 425.1 L607.6 423.5 L635.1 415.8 Z" fill="#fcfdfc" stroke="#0a0a0a" stroke-width="1.15" stroke-dasharray="0.1 4.1" stroke-linecap="round"/>
<path d="M689.1 321.1 L681.7 293.3 L684.0 293.9 L690.7 321.6 Z" fill="#fcfdfc" stroke="#0a0a0a" stroke-width="1.15" stroke-dasharray="0.1 4.1" stroke-linecap="round"/>
<path d="M635.1 415.8 L607.6 423.5 L611.0 415.3 L637.6 409.8 Z" fill="#fcfdfc" stroke="#0a0a0a" stroke-width="1.15" stroke-dasharray="0.1 4.1" stroke-linecap="round"/>
<path d="M685.2 326.3 L676.3 300.4 L681.7 293.3 L689.1 321.1 Z" fill="#fcfdfc" stroke="#0a0a0a" stroke-width="1.15" stroke-dasharray="0.1 4.1" stroke-linecap="round"/>
<path d="M637.6 409.8 L611.0 415.3 L608.7 412.3 L635.9 407.6 Z" fill="#fcfdfc" stroke="#0a0a0a" stroke-width="1.15" stroke-dasharray="0.1 4.1" stroke-linecap="round"/>
<path d="M640.9 412.6 L636.4 416.9 L635.1 415.8 L637.6 409.8 Z" fill="#fcfdfc" stroke="#0a0a0a" stroke-width="1.15" stroke-dasharray="0.1 4.1" stroke-linecap="round"/>
<path d="M682.4 326.0 L672.6 300.0 L676.3 300.4 L685.2 326.3 Z" fill="#fcfdfc" stroke="#0a0a0a" stroke-width="1.15" stroke-dasharray="0.1 4.1" stroke-linecap="round"/>
<path d="M685.2 326.3 L689.1 321.1 L690.7 321.6 L689.3 327.5 Z" fill="#fcfdfc" stroke="#0a0a0a" stroke-width="1.15" stroke-dasharray="0.1 4.1" stroke-linecap="round"/>
<path d="M635.9 407.6 L608.7 412.3 L602.2 416.7 L631.3 410.8 Z" fill="#fcfdfc" stroke="#0a0a0a" stroke-width="1.15" stroke-dasharray="0.1 4.1" stroke-linecap="round"/>
<path d="M682.8 320.4 L673.0 292.3 L672.6 300.0 L682.4 326.0 Z" fill="#fcfdfc" stroke="#0a0a0a" stroke-width="1.15" stroke-dasharray="0.1 4.1" stroke-linecap="round"/>
<path d="M631.3 410.8 L602.2 416.7 L601.1 414.4 L630.4 409.2 Z" fill="#fcfdfc" stroke="#0a0a0a" stroke-width="1.15" stroke-dasharray="0.1 4.1" stroke-linecap="round"/>
<path d="M680.9 320.5 L670.5 292.5 L673.0 292.3 L682.8 320.4 Z" fill="#fcfdfc" stroke="#0a0a0a" stroke-width="1.15" stroke-dasharray="0.1 4.1" stroke-linecap="round"/>
<path d="M630.4 409.2 L601.1 414.4 L605.7 406.5 L633.8 403.5 Z" fill="#fcfdfc" stroke="#0a0a0a" stroke-width="1.15" stroke-dasharray="0.1 4.1" stroke-linecap="round"/>
<path d="M677.7 326.3 L666.0 300.5 L670.5 292.5 L680.9 320.5 Z" fill="#fcfdfc" stroke="#0a0a0a" stroke-width="1.15" stroke-dasharray="0.1 4.1" stroke-linecap="round"/>
<path d="M635.9 407.6 L631.3 410.8 L630.4 409.2 L633.8 403.5 Z" fill="#fcfdfc" stroke="#0a0a0a" stroke-width="1.15" stroke-dasharray="0.1 4.1" stroke-linecap="round"/>
<path d="M633.8 403.5 L605.7 406.5 L604.3 402.5 L632.8 400.5 Z" fill="#fcfdfc" stroke="#0a0a0a" stroke-width="1.15" stroke-dasharray="0.1 4.1" stroke-linecap="round"/>
<path d="M677.7 326.3 L680.9 320.5 L682.8 320.4 L682.4 326.0 Z" fill="#fcfdfc" stroke="#0a0a0a" stroke-width="1.15" stroke-dasharray="0.1 4.1" stroke-linecap="round"/>
<path d="M674.6 327.0 L661.9 301.5 L666.0 300.5 L677.7 326.3 Z" fill="#fcfdfc" stroke="#0a0a0a" stroke-width="1.15" stroke-dasharray="0.1 4.1" stroke-linecap="round"/>
<path d="M632.8 400.5 L604.3 402.5 L597.9 405.1 L628.1 402.4 Z" fill="#fcfdfc" stroke="#0a0a0a" stroke-width="1.15" stroke-dasharray="0.1 4.1" stroke-linecap="round"/>
<path d="M673.8 322.2 L660.8 294.8 L661.9 301.5 L674.6 327.0 Z" fill="#fcfdfc" stroke="#0a0a0a" stroke-width="1.15" stroke-dasharray="0.1 4.1" stroke-linecap="round"/>
<path d="M628.1 402.4 L597.9 405.1 L597.4 402.2 L627.8 400.3 Z" fill="#fcfdfc" stroke="#0a0a0a" stroke-width="1.15" stroke-dasharray="0.1 4.1" stroke-linecap="round"/>
<path d="M632.8 400.5 L628.1 402.4 L627.8 400.3 L631.8 395.2 Z" fill="#fcfdfc" stroke="#0a0a0a" stroke-width="1.15" stroke-dasharray="0.1 4.1" stroke-linecap="round"/>
<path d="M627.8 400.3 L597.4 402.2 L603.0 395.2 L631.8 395.2 Z" fill="#fcfdfc" stroke="#0a0a0a" stroke-width="1.15" stroke-dasharray="0.1 4.1" stroke-linecap="round"/>
<path d="M671.8 322.9 L658.0 295.8 L660.8 294.8 L673.8 322.2 Z" fill="#fcfdfc" stroke="#0a0a0a" stroke-width="1.15" stroke-dasharray="0.1 4.1" stroke-linecap="round"/>
<path d="M669.5 329.0 L671.8 322.9 L673.8 322.2 L674.6 327.0 Z" fill="#fcfdfc" stroke="#0a0a0a" stroke-width="1.15" stroke-dasharray="0.1 4.1" stroke-linecap="round"/>
<path d="M669.5 329.0 L654.8 304.1 L658.0 295.8 L671.8 322.9 Z" fill="#fcfdfc" stroke="#0a0a0a" stroke-width="1.15" stroke-dasharray="0.1 4.1" stroke-linecap="round"/>
<path d="M631.8 395.2 L603.0 395.2 L602.6 390.4 L631.6 391.7 Z" fill="#fcfdfc" stroke="#0a0a0a" stroke-width="1.15" stroke-dasharray="0.1 4.1" stroke-linecap="round"/>
<path d="M666.3 330.6 L650.5 306.4 L654.8 304.1 L669.5 329.0 Z" fill="#fcfdfc" stroke="#0a0a0a" stroke-width="1.15" stroke-dasharray="0.1 4.1" stroke-linecap="round"/>
<path d="M631.6 391.7 L602.6 390.4 L596.7 391.0 L627.2 392.1 Z" fill="#fcfdfc" stroke="#0a0a0a" stroke-width="1.15" stroke-dasharray="0.1 4.1" stroke-linecap="round"/>
<path d="M664.5 326.7 L647.9 301.1 L650.5 306.4 L666.3 330.6 Z" fill="#fcfdfc" stroke="#0a0a0a" stroke-width="1.15" stroke-dasharray="0.1 4.1" stroke-linecap="round"/>
<path d="M631.6 391.7 L627.2 392.1 L627.3 389.7 L631.8 385.6 Z" fill="#fcfdfc" stroke="#0a0a0a" stroke-width="1.15" stroke-dasharray="0.1 4.1" stroke-linecap="round"/>
<path d="M661.2 334.0 L662.4 328.1 L664.5 326.7 L666.3 330.6 Z" fill="#fcfdfc" stroke="#0a0a0a" stroke-width="1.15" stroke-dasharray="0.1 4.1" stroke-linecap="round"/>
<path d="M631.8 385.6 L603.0 381.9 L603.7 376.5 L632.4 381.6 Z" fill="#fcfdfc" stroke="#0a0a0a" stroke-width="1.15" stroke-dasharray="0.1 4.1" stroke-linecap="round"/>
<path d="M627.3 389.7 L596.8 387.6 L603.0 381.9 L631.8 385.6 Z" fill="#fcfdfc" stroke="#0a0a0a" stroke-width="1.15" stroke-dasharray="0.1 4.1" stroke-linecap="round"/>
<path d="M658.1 336.5 L639.1 314.5 L643.3 311.1 L661.2 334.0 Z" fill="#fcfdfc" stroke="#0a0a0a" stroke-width="1.15" stroke-dasharray="0.1 4.1" stroke-linecap="round"/>
<path d="M627.2 392.1 L596.7 391.0 L596.8 387.6 L627.3 389.7 Z" fill="#fcfdfc" stroke="#0a0a0a" stroke-width="1.15" stroke-dasharray="0.1 4.1" stroke-linecap="round"/>
<path d="M661.2 334.0 L643.3 311.1 L645.1 302.9 L662.4 328.1 Z" fill="#fcfdfc" stroke="#0a0a0a" stroke-width="1.15" stroke-dasharray="0.1 4.1" stroke-linecap="round"/>
<path d="M662.4 328.1 L645.1 302.9 L647.9 301.1 L664.5 326.7 Z" fill="#fcfdfc" stroke="#0a0a0a" stroke-width="1.15" stroke-dasharray="0.1 4.1" stroke-linecap="round"/>
<path d="M632.4 381.6 L603.7 376.5 L598.6 375.1 L628.6 380.6 Z" fill="#fcfdfc" stroke="#0a0a0a" stroke-width="1.15" stroke-dasharray="0.1 4.1" stroke-linecap="round"/>
<path d="M655.2 333.9 L635.1 310.9 L639.1 314.5 L658.1 336.5 Z" fill="#fcfdfc" stroke="#0a0a0a" stroke-width="1.15" stroke-dasharray="0.1 4.1" stroke-linecap="round"/>
<path d="M632.4 381.6 L628.6 380.6 L629.2 378.0 L633.9 375.0 Z" fill="#fcfdfc" stroke="#0a0a0a" stroke-width="1.15" stroke-dasharray="0.1 4.1" stroke-linecap="round"/>
<path d="M633.9 375.0 L605.8 367.5 L607.5 361.8 L635.1 370.9 Z" fill="#fcfdfc" stroke="#0a0a0a" stroke-width="1.15" stroke-dasharray="0.1 4.1" stroke-linecap="round"/>
<path d="M653.1 341.2 L653.3 335.7 L655.2 333.9 L658.1 336.5 Z" fill="#fcfdfc" stroke="#0a0a0a" stroke-width="1.15" stroke-dasharray="0.1 4.1" stroke-linecap="round"/>
<path d="M650.2 344.4 L628.3 325.4 L632.3 321.0 L653.1 341.2 Z" fill="#fcfdfc" stroke="#0a0a0a" stroke-width="1.15" stroke-dasharray="0.1 4.1" stroke-linecap="round"/>
<path d="M629.2 378.0 L599.4 371.6 L605.8 367.5 L633.9 375.0 Z" fill="#fcfdfc" stroke="#0a0a0a" stroke-width="1.15" stroke-dasharray="0.1 4.1" stroke-linecap="round"/>
<path d="M653.1 341.2 L632.3 321.0 L632.5 313.4 L653.3 335.7 Z" fill="#fcfdfc" stroke="#0a0a0a" stroke-width="1.15" stroke-dasharray="0.1 4.1" stroke-linecap="round"/>
<path d="M628.6 380.6 L598.6 375.1 L599.4 371.6 L629.2 378.0 Z" fill="#fcfdfc" stroke="#0a0a0a" stroke-width="1.15" stroke-dasharray="0.1 4.1" stroke-linecap="round"/>
<path d="M637.8 364.3 L611.2 352.6 L613.8 347.1 L639.7 360.2 Z" fill="#fcfdfc" stroke="#0a0a0a" stroke-width="1.15" stroke-dasharray="0.1 4.1" stroke-linecap="round"/>
<path d="M643.3 353.8 L618.8 338.3 L622.2 333.2 L645.8 350.1 Z" fill="#fcfdfc" stroke="#0a0a0a" stroke-width="1.15" stroke-dasharray="0.1 4.1" stroke-linecap="round"/>
<path d="M653.3 335.7 L632.5 313.4 L635.1 310.9 L655.2 333.9 Z" fill="#fcfdfc" stroke="#0a0a0a" stroke-width="1.15" stroke-dasharray="0.1 4.1" stroke-linecap="round"/>
<path d="M635.1 370.9 L632.1 368.5 L633.2 365.9 L637.8 364.3 Z" fill="#fcfdfc" stroke="#0a0a0a" stroke-width="1.15" stroke-dasharray="0.1 4.1" stroke-linecap="round"/>
<path d="M645.8 350.1 L644.8 345.4 L646.6 343.2 L650.2 344.4 Z" fill="#fcfdfc" stroke="#0a0a0a" stroke-width="1.15" stroke-dasharray="0.1 4.1" stroke-linecap="round"/>
<path d="M635.1 370.9 L607.5 361.8 L603.4 358.5 L632.1 368.5 Z" fill="#fcfdfc" stroke="#0a0a0a" stroke-width="1.15" stroke-dasharray="0.1 4.1" stroke-linecap="round"/>
<path d="M646.6 343.2 L623.3 323.6 L628.3 325.4 L650.2 344.4 Z" fill="#fcfdfc" stroke="#0a0a0a" stroke-width="1.15" stroke-dasharray="0.1 4.1" stroke-linecap="round"/>
<path d="M639.7 360.2 L637.7 356.5 L639.1 354.0 L643.3 353.8 Z" fill="#fcfdfc" stroke="#0a0a0a" stroke-width="1.15" stroke-dasharray="0.1 4.1" stroke-linecap="round"/>
<path d="M633.2 365.9 L604.9 354.9 L611.2 352.6 L637.8 364.3 Z" fill="#fcfdfc" stroke="#0a0a0a" stroke-width="1.15" stroke-dasharray="0.1 4.1" stroke-linecap="round"/>
<path d="M645.8 350.1 L622.2 333.2 L620.9 326.7 L644.8 345.4 Z" fill="#fcfdfc" stroke="#0a0a0a" stroke-width="1.15" stroke-dasharray="0.1 4.1" stroke-linecap="round"/>
<path d="M639.7 360.2 L613.8 347.1 L611.0 342.0 L637.7 356.5 Z" fill="#fcfdfc" stroke="#0a0a0a" stroke-width="1.15" stroke-dasharray="0.1 4.1" stroke-linecap="round"/>
<path d="M639.1 354.0 L613.0 338.6 L618.8 338.3 L643.3 353.8 Z" fill="#fcfdfc" stroke="#0a0a0a" stroke-width="1.15" stroke-dasharray="0.1 4.1" stroke-linecap="round"/>
<path d="M632.1 368.5 L603.4 358.5 L604.9 354.9 L633.2 365.9 Z" fill="#fcfdfc" stroke="#0a0a0a" stroke-width="1.15" stroke-dasharray="0.1 4.1" stroke-linecap="round"/>
<path d="M644.8 345.4 L620.9 326.7 L623.3 323.6 L646.6 343.2 Z" fill="#fcfdfc" stroke="#0a0a0a" stroke-width="1.15" stroke-dasharray="0.1 4.1" stroke-linecap="round"/>
<path d="M637.7 356.5 L611.0 342.0 L613.0 338.6 L639.1 354.0 Z" fill="#fcfdfc" stroke="#0a0a0a" stroke-width="1.15" stroke-dasharray="0.1 4.1" stroke-linecap="round"/>
<ellipse cx="666.2" cy="370.7" rx="48.99" ry="28.28" transform="rotate(-60 666.2 370.7)" fill="#fcfdfc" stroke="#0a0a0a" stroke-width="1.2999999999999998" stroke-dasharray="0.1 4.1" stroke-linecap="round"/>
<ellipse cx="666.2" cy="370.7" rx="46.50" ry="26.85" transform="rotate(-60 666.2 370.7)" fill="none" stroke="#0a0a0a" stroke-width="0.9999999999999999" stroke-dasharray="0.1 4.1" stroke-linecap="round"/>
<path d="M675.3 351.4 L676.6 351.9 L677.7 352.6 L678.7 353.5 L679.5 354.5 L680.2 355.8 L680.8 357.2 L681.1 358.8 L681.4 360.5 L681.4 362.3 L681.3 364.2 L681.0 366.2 L680.5 368.3 L679.9 370.3 L679.2 372.4 L678.3 374.4 L677.2 376.4 L676.0 378.4 L674.8 380.2 L673.4 382.0 L672.0 383.6 L670.4 385.1 L668.9 386.4 L667.3 387.6 L665.7 388.5 L664.1 389.3 L662.5 389.9 L661.0 390.2 L659.5 390.3 L658.1 390.2 L656.8 389.9 L655.6 389.4 L654.5 388.7 L653.6 387.8 L652.7 386.6 L652.1 385.3 L651.6 383.9 L651.2 382.3 L651.0 380.6 L651.0 378.7 L651.2 376.8 L651.5 374.8 L652.0 372.8 L652.6 370.7 L653.4 368.6 L654.3 366.6 L655.4 364.6 L656.6 362.7 L657.9 360.8 L659.3 359.1 L660.7 357.5 L662.2 356.0 L663.8 354.7 L665.4 353.6 L667.0 352.7 L667.1 350.0 L676.7 348.5 Z" fill="none" stroke="#0a0a0a" stroke-width="1.3499999999999999" stroke-dasharray="0.1 4.1" stroke-linecap="round"/>
<ellipse cx="752.4" cy="276.9" rx="33.80" ry="19.52" transform="rotate(60 752.4 276.9)" fill="#fcfdfc" stroke="#0a0a0a" stroke-width="1.15" stroke-dasharray="0.1 4.1" stroke-linecap="round"/>
<path d="M724.4 295.1 L731.5 292.0 L733.4 294.8 L725.6 296.9 Z" fill="#fcfdfc" stroke="#0a0a0a" stroke-width="1.15" stroke-dasharray="0.1 4.1" stroke-linecap="round"/>
<path d="M720.3 286.7 L725.3 279.2 L726.5 282.3 L721.1 288.7 Z" fill="#fcfdfc" stroke="#0a0a0a" stroke-width="1.15" stroke-dasharray="0.1 4.1" stroke-linecap="round"/>
<path d="M725.3 292.4 L732.8 287.9 L731.5 292.0 L724.4 295.1 Z" fill="#fcfdfc" stroke="#0a0a0a" stroke-width="1.15" stroke-dasharray="0.1 4.1" stroke-linecap="round"/>
<path d="M721.1 288.7 L726.5 282.3 L730.8 284.0 L724.0 289.8 Z" fill="#fcfdfc" stroke="#0a0a0a" stroke-width="1.15" stroke-dasharray="0.1 4.1" stroke-linecap="round"/>
<path d="M725.6 296.9 L733.4 294.8 L737.2 294.4 L728.1 296.6 Z" fill="#fcfdfc" stroke="#0a0a0a" stroke-width="1.15" stroke-dasharray="0.1 4.1" stroke-linecap="round"/>
<path d="M730.2 302.2 L740.4 302.9 L742.6 304.9 L731.7 303.5 Z" fill="#fcfdfc" stroke="#0a0a0a" stroke-width="1.15" stroke-dasharray="0.1 4.1" stroke-linecap="round"/>
<path d="M722.2 285.2 L728.1 276.9 L725.3 279.2 L720.3 286.7 Z" fill="#fcfdfc" stroke="#0a0a0a" stroke-width="1.15" stroke-dasharray="0.1 4.1" stroke-linecap="round"/>
<path d="M724.0 289.8 L730.8 284.0 L732.8 287.9 L725.3 292.4 Z" fill="#fcfdfc" stroke="#0a0a0a" stroke-width="1.15" stroke-dasharray="0.1 4.1" stroke-linecap="round"/>
<path d="M729.9 298.7 L740.0 297.6 L740.4 302.9 L730.2 302.2 Z" fill="#fcfdfc" stroke="#0a0a0a" stroke-width="1.15" stroke-dasharray="0.1 4.1" stroke-linecap="round"/>
<path d="M728.1 296.6 L737.2 294.4 L740.0 297.6 L729.9 298.7 Z" fill="#fcfdfc" stroke="#0a0a0a" stroke-width="1.15" stroke-dasharray="0.1 4.1" stroke-linecap="round"/>
<path d="M718.6 278.3 L722.6 266.4 L722.9 269.2 L718.8 280.2 Z" fill="#fcfdfc" stroke="#0a0a0a" stroke-width="1.15" stroke-dasharray="0.1 4.1" stroke-linecap="round"/>
<path d="M718.8 280.2 L722.9 269.2 L727.2 273.0 L721.6 282.6 Z" fill="#fcfdfc" stroke="#0a0a0a" stroke-width="1.15" stroke-dasharray="0.1 4.1" stroke-linecap="round"/>
<path d="M731.7 303.5 L742.6 304.9 L745.3 302.4 L733.4 301.8 Z" fill="#fcfdfc" stroke="#0a0a0a" stroke-width="1.15" stroke-dasharray="0.1 4.1" stroke-linecap="round"/>
<path d="M721.6 282.6 L727.2 273.0 L728.1 276.9 L722.2 285.2 Z" fill="#fcfdfc" stroke="#0a0a0a" stroke-width="1.15" stroke-dasharray="0.1 4.1" stroke-linecap="round"/>
<path d="M721.1 278.2 L726.5 266.3 L722.6 266.4 L718.6 278.3 Z" fill="#fcfdfc" stroke="#0a0a0a" stroke-width="1.15" stroke-dasharray="0.1 4.1" stroke-linecap="round"/>
<path d="M733.4 301.8 L745.3 302.4 L748.4 304.4 L735.4 303.2 Z" fill="#fcfdfc" stroke="#0a0a0a" stroke-width="1.15" stroke-dasharray="0.1 4.1" stroke-linecap="round"/>
<path d="M735.4 303.2 L748.4 304.4 L750.4 310.1 L736.8 306.9 Z" fill="#fcfdfc" stroke="#0a0a0a" stroke-width="1.15" stroke-dasharray="0.1 4.1" stroke-linecap="round"/>
<path d="M736.8 306.9 L750.4 310.1 L752.8 311.1 L738.3 307.5 Z" fill="#fcfdfc" stroke="#0a0a0a" stroke-width="1.15" stroke-dasharray="0.1 4.1" stroke-linecap="round"/>
<path d="M721.3 276.0 L726.7 262.8 L726.5 266.3 L721.1 278.2 Z" fill="#fcfdfc" stroke="#0a0a0a" stroke-width="1.15" stroke-dasharray="0.1 4.1" stroke-linecap="round"/>
<path d="M719.0 272.6 L723.2 257.7 L726.7 262.8 L721.3 276.0 Z" fill="#fcfdfc" stroke="#0a0a0a" stroke-width="1.15" stroke-dasharray="0.1 4.1" stroke-linecap="round"/>
<path d="M738.3 307.5 L752.8 311.1 L753.8 306.8 L739.0 304.7 Z" fill="#fcfdfc" stroke="#0a0a0a" stroke-width="1.15" stroke-dasharray="0.1 4.1" stroke-linecap="round"/>
<path d="M725.3 292.4 L724.4 295.1 L725.6 296.9 L728.1 296.6 Z" fill="#fcfdfc" stroke="#0a0a0a" stroke-width="1.15" stroke-dasharray="0.1 4.1" stroke-linecap="round"/>
<path d="M719.4 271.2 L723.8 255.5 L723.2 257.7 L719.0 272.6 Z" fill="#fcfdfc" stroke="#0a0a0a" stroke-width="1.15" stroke-dasharray="0.1 4.1" stroke-linecap="round"/>
<path d="M722.2 285.2 L720.3 286.7 L721.1 288.7 L724.0 289.8 Z" fill="#fcfdfc" stroke="#0a0a0a" stroke-width="1.15" stroke-dasharray="0.1 4.1" stroke-linecap="round"/>
<path d="M729.9 298.7 L730.2 302.2 L731.7 303.5 L733.4 301.8 Z" fill="#fcfdfc" stroke="#0a0a0a" stroke-width="1.15" stroke-dasharray="0.1 4.1" stroke-linecap="round"/>
<path d="M722.2 272.5 L728.2 257.5 L723.8 255.5 L719.4 271.2 Z" fill="#fcfdfc" stroke="#0a0a0a" stroke-width="1.15" stroke-dasharray="0.1 4.1" stroke-linecap="round"/>
<path d="M739.0 304.7 L753.8 306.8 L756.8 307.4 L740.9 305.1 Z" fill="#fcfdfc" stroke="#0a0a0a" stroke-width="1.15" stroke-dasharray="0.1 4.1" stroke-linecap="round"/>
<path d="M721.1 278.2 L718.6 278.3 L718.8 280.2 L721.6 282.6 Z" fill="#fcfdfc" stroke="#0a0a0a" stroke-width="1.15" stroke-dasharray="0.1 4.1" stroke-linecap="round"/>
<path d="M740.9 305.1 L756.8 307.4 L760.2 312.6 L743.1 308.5 Z" fill="#fcfdfc" stroke="#0a0a0a" stroke-width="1.15" stroke-dasharray="0.1 4.1" stroke-linecap="round"/>
<path d="M743.1 308.5 L760.2 312.6 L762.2 312.5 L744.5 308.4 Z" fill="#fcfdfc" stroke="#0a0a0a" stroke-width="1.15" stroke-dasharray="0.1 4.1" stroke-linecap="round"/>
<path d="M723.2 270.9 L729.6 255.2 L728.2 257.5 L722.2 272.5 Z" fill="#fcfdfc" stroke="#0a0a0a" stroke-width="1.15" stroke-dasharray="0.1 4.1" stroke-linecap="round"/>
<path d="M735.4 303.2 L736.8 306.9 L738.3 307.5 L739.0 304.7 Z" fill="#fcfdfc" stroke="#0a0a0a" stroke-width="1.15" stroke-dasharray="0.1 4.1" stroke-linecap="round"/>
<path d="M721.7 267.2 L727.4 249.5 L729.6 255.2 L723.2 270.9 Z" fill="#fcfdfc" stroke="#0a0a0a" stroke-width="1.15" stroke-dasharray="0.1 4.1" stroke-linecap="round"/>
<path d="M744.5 308.4 L762.2 312.5 L761.6 307.1 L744.1 304.9 Z" fill="#fcfdfc" stroke="#0a0a0a" stroke-width="1.15" stroke-dasharray="0.1 4.1" stroke-linecap="round"/>
<path d="M722.2 272.5 L719.4 271.2 L719.0 272.6 L721.3 276.0 Z" fill="#fcfdfc" stroke="#0a0a0a" stroke-width="1.15" stroke-dasharray="0.1 4.1" stroke-linecap="round"/>
<path d="M722.6 266.4 L728.8 248.2 L727.4 249.5 L721.7 267.2 Z" fill="#fcfdfc" stroke="#0a0a0a" stroke-width="1.15" stroke-dasharray="0.1 4.1" stroke-linecap="round"/>
<path d="M744.1 304.9 L761.6 307.1 L764.0 306.1 L745.6 304.2 Z" fill="#fcfdfc" stroke="#0a0a0a" stroke-width="1.15" stroke-dasharray="0.1 4.1" stroke-linecap="round"/>
<path d="M725.4 269.0 L733.0 252.1 L728.8 248.2 L722.6 266.4 Z" fill="#fcfdfc" stroke="#0a0a0a" stroke-width="1.15" stroke-dasharray="0.1 4.1" stroke-linecap="round"/>
<path d="M740.9 305.1 L743.1 308.5 L744.5 308.4 L744.1 304.9 Z" fill="#fcfdfc" stroke="#0a0a0a" stroke-width="1.15" stroke-dasharray="0.1 4.1" stroke-linecap="round"/>
<path d="M745.6 304.2 L764.0 306.1 L768.2 310.0 L748.4 306.8 Z" fill="#fcfdfc" stroke="#0a0a0a" stroke-width="1.15" stroke-dasharray="0.1 4.1" stroke-linecap="round"/>
<path d="M726.9 268.3 L735.4 251.1 L733.0 252.1 L725.4 269.0 Z" fill="#fcfdfc" stroke="#0a0a0a" stroke-width="1.15" stroke-dasharray="0.1 4.1" stroke-linecap="round"/>
<path d="M748.4 306.8 L768.2 310.0 L769.6 308.7 L749.3 306.0 Z" fill="#fcfdfc" stroke="#0a0a0a" stroke-width="1.15" stroke-dasharray="0.1 4.1" stroke-linecap="round"/>
<path d="M725.4 269.0 L722.6 266.4 L721.7 267.2 L723.2 270.9 Z" fill="#fcfdfc" stroke="#0a0a0a" stroke-width="1.15" stroke-dasharray="0.1 4.1" stroke-linecap="round"/>
<path d="M726.5 264.8 L734.7 245.7 L735.4 251.1 L726.9 268.3 Z" fill="#fcfdfc" stroke="#0a0a0a" stroke-width="1.15" stroke-dasharray="0.1 4.1" stroke-linecap="round"/>
<path d="M749.3 306.0 L769.6 308.7 L767.4 303.0 L747.8 302.3 Z" fill="#fcfdfc" stroke="#0a0a0a" stroke-width="1.15" stroke-dasharray="0.1 4.1" stroke-linecap="round"/>
<path d="M747.8 302.3 L767.4 303.0 L768.8 300.7 L748.8 300.7 Z" fill="#fcfdfc" stroke="#0a0a0a" stroke-width="1.15" stroke-dasharray="0.1 4.1" stroke-linecap="round"/>
<path d="M727.9 264.7 L736.8 245.6 L734.7 245.7 L726.5 264.8 Z" fill="#fcfdfc" stroke="#0a0a0a" stroke-width="1.15" stroke-dasharray="0.1 4.1" stroke-linecap="round"/>
<path d="M745.6 304.2 L748.4 306.8 L749.3 306.0 L747.8 302.3 Z" fill="#fcfdfc" stroke="#0a0a0a" stroke-width="1.15" stroke-dasharray="0.1 4.1" stroke-linecap="round"/>
<path d="M730.1 268.1 L740.2 250.8 L736.8 245.6 L727.9 264.7 Z" fill="#fcfdfc" stroke="#0a0a0a" stroke-width="1.15" stroke-dasharray="0.1 4.1" stroke-linecap="round"/>
<path d="M732.0 268.5 L743.1 251.4 L740.2 250.8 L730.1 268.1 Z" fill="#fcfdfc" stroke="#0a0a0a" stroke-width="1.15" stroke-dasharray="0.1 4.1" stroke-linecap="round"/>
<path d="M748.8 300.7 L768.8 300.7 L773.2 302.7 L751.6 302.0 Z" fill="#fcfdfc" stroke="#0a0a0a" stroke-width="1.15" stroke-dasharray="0.1 4.1" stroke-linecap="round"/>
<path d="M730.1 268.1 L727.9 264.7 L726.5 264.8 L726.9 268.3 Z" fill="#fcfdfc" stroke="#0a0a0a" stroke-width="1.15" stroke-dasharray="0.1 4.1" stroke-linecap="round"/>
<path d="M751.6 302.0 L773.2 302.7 L773.8 300.5 L752.0 300.6 Z" fill="#fcfdfc" stroke="#0a0a0a" stroke-width="1.15" stroke-dasharray="0.1 4.1" stroke-linecap="round"/>
<path d="M732.7 265.7 L744.2 247.1 L743.1 251.4 L732.0 268.5 Z" fill="#fcfdfc" stroke="#0a0a0a" stroke-width="1.15" stroke-dasharray="0.1 4.1" stroke-linecap="round"/>
<path d="M752.0 300.6 L773.8 300.5 L770.2 295.4 L749.7 297.2 Z" fill="#fcfdfc" stroke="#0a0a0a" stroke-width="1.15" stroke-dasharray="0.1 4.1" stroke-linecap="round"/>
<path d="M749.7 297.2 L770.2 295.4 L770.5 291.9 L749.9 295.0 Z" fill="#fcfdfc" stroke="#0a0a0a" stroke-width="1.15" stroke-dasharray="0.1 4.1" stroke-linecap="round"/>
<path d="M748.8 300.7 L751.6 302.0 L752.0 300.6 L749.7 297.2 Z" fill="#fcfdfc" stroke="#0a0a0a" stroke-width="1.15" stroke-dasharray="0.1 4.1" stroke-linecap="round"/>
<path d="M734.2 266.3 L746.6 248.1 L744.2 247.1 L732.7 265.7 Z" fill="#fcfdfc" stroke="#0a0a0a" stroke-width="1.15" stroke-dasharray="0.1 4.1" stroke-linecap="round"/>
<path d="M735.6 270.0 L748.6 253.8 L746.6 248.1 L734.2 266.3 Z" fill="#fcfdfc" stroke="#0a0a0a" stroke-width="1.15" stroke-dasharray="0.1 4.1" stroke-linecap="round"/>
<path d="M737.6 271.4 L751.7 255.8 L748.6 253.8 L735.6 270.0 Z" fill="#fcfdfc" stroke="#0a0a0a" stroke-width="1.15" stroke-dasharray="0.1 4.1" stroke-linecap="round"/>
<path d="M735.6 270.0 L734.2 266.3 L732.7 265.7 L732.0 268.5 Z" fill="#fcfdfc" stroke="#0a0a0a" stroke-width="1.15" stroke-dasharray="0.1 4.1" stroke-linecap="round"/>
<path d="M749.9 295.0 L770.5 291.9 L774.4 291.8 L752.4 294.9 Z" fill="#fcfdfc" stroke="#0a0a0a" stroke-width="1.15" stroke-dasharray="0.1 4.1" stroke-linecap="round"/>
<path d="M749.4 290.6 L769.8 285.2 L768.9 281.3 L748.8 288.0 Z" fill="#fcfdfc" stroke="#0a0a0a" stroke-width="1.15" stroke-dasharray="0.1 4.1" stroke-linecap="round"/>
<path d="M739.3 269.7 L754.3 253.3 L751.7 255.8 L737.6 271.4 Z" fill="#fcfdfc" stroke="#0a0a0a" stroke-width="1.15" stroke-dasharray="0.1 4.1" stroke-linecap="round"/>
<path d="M752.2 293.0 L774.1 289.0 L769.8 285.2 L749.4 290.6 Z" fill="#fcfdfc" stroke="#0a0a0a" stroke-width="1.15" stroke-dasharray="0.1 4.1" stroke-linecap="round"/>
<path d="M749.9 295.0 L752.4 294.9 L752.2 293.0 L749.4 290.6 Z" fill="#fcfdfc" stroke="#0a0a0a" stroke-width="1.15" stroke-dasharray="0.1 4.1" stroke-linecap="round"/>
<path d="M752.4 294.9 L774.4 291.8 L774.1 289.0 L752.2 293.0 Z" fill="#fcfdfc" stroke="#0a0a0a" stroke-width="1.15" stroke-dasharray="0.1 4.1" stroke-linecap="round"/>
<path d="M742.9 276.6 L759.8 263.8 L757.0 260.6 L741.1 274.5 Z" fill="#fcfdfc" stroke="#0a0a0a" stroke-width="1.15" stroke-dasharray="0.1 4.1" stroke-linecap="round"/>
<path d="M741.1 274.5 L757.0 260.6 L756.6 255.3 L740.8 271.0 Z" fill="#fcfdfc" stroke="#0a0a0a" stroke-width="1.15" stroke-dasharray="0.1 4.1" stroke-linecap="round"/>
<path d="M747.0 283.4 L766.2 274.2 L764.1 270.3 L745.7 280.8 Z" fill="#fcfdfc" stroke="#0a0a0a" stroke-width="1.15" stroke-dasharray="0.1 4.1" stroke-linecap="round"/>
<path d="M741.1 274.5 L740.8 271.0 L739.3 269.7 L737.6 271.4 Z" fill="#fcfdfc" stroke="#0a0a0a" stroke-width="1.15" stroke-dasharray="0.1 4.1" stroke-linecap="round"/>
<path d="M748.8 288.0 L768.9 281.3 L771.7 279.0 L750.7 286.5 Z" fill="#fcfdfc" stroke="#0a0a0a" stroke-width="1.15" stroke-dasharray="0.1 4.1" stroke-linecap="round"/>
<path d="M740.8 271.0 L756.6 255.3 L754.3 253.3 L739.3 269.7 Z" fill="#fcfdfc" stroke="#0a0a0a" stroke-width="1.15" stroke-dasharray="0.1 4.1" stroke-linecap="round"/>
<path d="M745.4 276.3 L763.6 263.4 L759.8 263.8 L742.9 276.6 Z" fill="#fcfdfc" stroke="#0a0a0a" stroke-width="1.15" stroke-dasharray="0.1 4.1" stroke-linecap="round"/>
<path d="M749.9 284.5 L770.5 275.9 L766.2 274.2 L747.0 283.4 Z" fill="#fcfdfc" stroke="#0a0a0a" stroke-width="1.15" stroke-dasharray="0.1 4.1" stroke-linecap="round"/>
<path d="M748.8 288.0 L750.7 286.5 L749.9 284.5 L747.0 283.4 Z" fill="#fcfdfc" stroke="#0a0a0a" stroke-width="1.15" stroke-dasharray="0.1 4.1" stroke-linecap="round"/>
<path d="M745.7 280.8 L764.1 270.3 L765.4 266.2 L746.6 278.1 Z" fill="#fcfdfc" stroke="#0a0a0a" stroke-width="1.15" stroke-dasharray="0.1 4.1" stroke-linecap="round"/>
<path d="M745.7 280.8 L746.6 278.1 L745.4 276.3 L742.9 276.6 Z" fill="#fcfdfc" stroke="#0a0a0a" stroke-width="1.15" stroke-dasharray="0.1 4.1" stroke-linecap="round"/>
<path d="M750.7 286.5 L771.7 279.0 L770.5 275.9 L749.9 284.5 Z" fill="#fcfdfc" stroke="#0a0a0a" stroke-width="1.15" stroke-dasharray="0.1 4.1" stroke-linecap="round"/>
<path d="M746.6 278.1 L765.4 266.2 L763.6 263.4 L745.4 276.3 Z" fill="#fcfdfc" stroke="#0a0a0a" stroke-width="1.15" stroke-dasharray="0.1 4.1" stroke-linecap="round"/>
<ellipse cx="735.5" cy="286.6" rx="20.33" ry="11.74" transform="rotate(60 735.5 286.6)" fill="#fcfdfc" stroke="#0a0a0a" stroke-width="1.2999999999999998" stroke-dasharray="0.1 4.1" stroke-linecap="round"/>
<ellipse cx="735.5" cy="286.6" rx="17.00" ry="9.81" transform="rotate(60 735.5 286.6)" fill="none" stroke="#0a0a0a" stroke-width="0.9999999999999999" stroke-dasharray="0.1 4.1" stroke-linecap="round"/>
<ellipse cx="735.5" cy="286.6" rx="13.50" ry="7.79" transform="rotate(60 735.5 286.6)" fill="none" stroke="#0a0a0a" stroke-width="1.25" stroke-dasharray="0.1 4.1" stroke-linecap="round"/>
<path d="M671.0 371.5 L708.0 392.5 L771.0 357.0 L917.2 440.5 L902.0 450.0" fill="none" stroke="#0a0a0a" stroke-width="1.55" />
<text transform="translate(560.0 349.6) scale(0.897 1) skewX(-20.0)" font-size="47.8" font-weight="bold" fill="none" stroke="#666666" stroke-width="1.0" vector-effect="non-scaling-stroke" stroke-linejoin="miter" >группа компаний</text>
<g style="mix-blend-mode:darken">
<path d="M468.9 463.7 L504.2 365.3 L535.5 365.3 L530.7 463.7 L506.9 463.7 L509.0 440.0 L498.1 440.0 L487.9 463.7 Z" fill="#fcfdfc" fill-rule="evenodd" stroke="#666666" stroke-width="1.0" stroke-linejoin="miter"/>
</g>
<g style="mix-blend-mode:darken">
<text transform="translate(537.0 439.6) scale(0.741 1) skewX(-14.0)" font-size="104.0" font-weight="bold" fill="#666666" stroke="#666666" stroke-width="9.2" vector-effect="non-scaling-stroke" stroke-linejoin="miter">ГРОСНАБ</text>
<text transform="translate(537.0 439.6) scale(0.741 1) skewX(-14.0)" font-size="104.0" font-weight="bold" fill="#fcfdfc" stroke="#fcfdfc" stroke-width="7.2" vector-effect="non-scaling-stroke" stroke-linejoin="miter">ГРОСНАБ</text>
<path d="M466.5 461.3 L501.8 362.9 L533.1 362.9 L528.3 461.3 L504.5 461.3 L506.6 437.6 L495.7 437.6 L485.5 461.3 Z M510.7 377.8 L507.3 421.9 L499.1 421.9 Z" fill="#fcfdfc" fill-rule="evenodd" stroke="#666666" stroke-width="1.0" stroke-linejoin="miter"/>
</g>
<text transform="translate(571.5 481.4) scale(1.165 1) skewX(-17.0)" font-size="56.5" font-weight="bold" fill="none" stroke="#666666" stroke-width="1.0" vector-effect="non-scaling-stroke" stroke-linejoin="miter" >техсервис</text>
<path d="M409.7 380.7 C407.9 376.0 404.6 377.4 404.1 366.6 C403.6 355.7 400.3 359.7 408.3 348.2 C416.4 336.6 413.1 341.3 428.2 331.9 C443.3 322.4 436.7 325.7 453.7 319.8 C470.7 313.9 463.6 315.6 479.2 314.2 C494.7 312.7 488.6 313.7 500.4 315.6 C512.2 317.5 509.8 318.4 514.6 319.8" fill="none" stroke="#666666" stroke-width="1.1" />
<path d="M428.9 333.6 C437.1 329.7 436.9 327.7 453.7 322.1 C470.4 316.5 463.6 318.1 479.2 316.7 C494.7 315.3 489.1 316.1 500.4 317.8 C511.7 319.6 508.9 320.7 513.1 322.1" fill="none" stroke="#666666" stroke-width="1.1" />
<path d="M513.1 322.1 L514.6 319.8" fill="none" stroke="#666666" stroke-width="1.1" />
<path d="M409.0 380.7 C411.4 375.8 410.2 377.0 416.1 365.9 C422.0 354.8 422.3 358.1 426.7 347.5 C431.2 336.8 428.6 338.5 429.6 334.0" fill="none" stroke="#666666" stroke-width="1.1" />
<path d="M433.8 341.1 C435.7 339.5 432.9 339.0 439.5 336.4 C446.1 333.9 440.4 335.4 453.7 333.4 C466.9 331.4 465.0 331.1 479.2 330.5 C493.3 329.8 486.5 330.0 496.1 331.4 C505.8 332.9 504.2 333.6 508.2 334.7" fill="none" stroke="#666666" stroke-width="1.1" />
<path d="M469.2 334.1 C472.5 333.6 470.2 332.7 479.2 332.4 C488.1 332.2 486.9 332.0 496.1 333.4 C505.4 334.8 503.2 335.6 506.8 336.7" fill="none" stroke="#666666" stroke-width="1.1" />
<path d="M506.8 336.7 L508.2 334.7" fill="none" stroke="#666666" stroke-width="1.1" />
<path d="M433.8 341.1 C433.5 343.0 432.1 343.1 433.0 346.7 C433.8 350.4 433.3 349.7 436.4 352.1 C439.5 354.5 437.9 354.6 442.3 354.0 C446.8 353.4 444.0 354.5 449.7 350.3 C455.4 346.1 452.8 346.7 459.3 341.4 C465.8 336.0 465.9 336.5 469.2 334.1" fill="none" stroke="#666666" stroke-width="1.1" />
<path d="M410.5 381.4 C412.7 377.3 410.7 375.5 417.1 369.1 C423.5 362.7 419.3 366.3 429.6 362.3 C439.9 358.4 436.2 361.0 448.0 357.2 C459.8 353.4 452.7 353.8 465.0 351.0 C477.3 348.2 472.3 348.5 484.8 348.9 C497.3 349.2 496.6 351.0 502.5 352.1" fill="none" stroke="#666666" stroke-width="1.1" />
<path d="M410.5 381.4 C414.5 382.0 416.4 383.0 422.5 383.0 C428.6 383.0 423.2 385.5 428.9 381.4 C434.5 377.4 431.2 378.0 439.5 370.8 C447.8 363.6 444.2 365.6 453.7 359.8 C463.1 353.9 457.4 356.3 467.8 353.3 C478.2 350.2 473.5 350.2 484.8 350.7 C496.1 351.2 496.1 353.4 501.8 354.7" fill="none" stroke="#666666" stroke-width="1.1" />
<path d="M501.8 354.7 L502.5 352.1" fill="none" stroke="#666666" stroke-width="1.1" />
<path d="M514.6 319.8 L533.0 326.9 L528.7 342.5 L545.7 356.7 L503.9 356.7 L514.6 319.8" fill="none" stroke="#666666" stroke-width="1.1" />
<path d="M396.6 367.9 C394.4 373.2 392.7 373.2 389.8 383.8 C386.9 394.3 386.6 389.6 387.9 399.6 C389.3 409.7 388.9 406.8 393.9 413.9 C399.0 421.0 400.0 418.6 403.0 421.0" fill="none" stroke="#666666" stroke-width="1.1" />
<path d="M396.6 367.9 C398.5 372.2 399.5 371.1 402.2 380.6 C404.8 390.1 404.0 386.4 404.6 396.5 C405.1 406.5 404.3 402.5 403.8 410.7 C403.2 418.9 403.2 417.6 403.0 421.0" fill="none" stroke="#666666" stroke-width="1.1" />
<path d="M428.3 383.0 C424.4 384.3 423.3 382.3 416.5 386.9 C409.6 391.5 412.0 388.8 407.7 396.8 C403.5 404.7 405.1 402.6 403.8 410.7 C402.5 418.8 403.8 417.6 403.8 421.0" fill="none" stroke="#666666" stroke-width="1.1" />
<path d="M428.3 383.0 C427.5 387.5 428.6 387.7 426.0 396.5 C423.3 405.2 425.2 402.0 420.4 409.1 C415.7 416.3 417.2 413.9 411.7 417.8 C406.1 421.8 406.4 420.0 403.8 421.0" fill="none" stroke="#666666" stroke-width="1.1" />
<path d="M386.3 416.3 C386.9 421.3 385.3 421.0 387.9 431.3 C390.6 441.6 388.5 438.4 394.3 447.2 C400.1 455.9 397.4 453.2 405.4 457.5 C413.3 461.7 413.8 459.0 418.0 459.8" fill="none" stroke="#666666" stroke-width="1.1" />
<path d="M386.3 416.3 C389.5 418.6 389.5 416.8 395.8 423.4 C402.2 430.0 399.5 427.1 405.4 436.1 C411.2 445.1 409.1 442.4 413.3 450.3 C417.5 458.3 416.5 456.7 418.0 459.8" fill="none" stroke="#666666" stroke-width="1.1" />
<path d="M421.5 413.1 C419.0 417.6 417.6 418.4 414.1 426.6 C410.5 434.7 411.2 430.3 410.9 437.7 C410.6 445.1 410.6 441.9 413.3 448.7 C415.9 455.6 417.0 455.1 418.8 458.3" fill="none" stroke="#666666" stroke-width="1.1" />
<path d="M421.5 413.1 C422.5 417.6 422.4 417.8 424.4 426.6 C426.4 435.3 427.3 431.3 427.5 439.2 C427.8 447.2 428.1 444.0 425.2 450.3 C422.3 456.7 420.9 455.6 418.8 458.3" fill="none" stroke="#666666" stroke-width="1.1" />
<path d="M402.2 466.2 C405.4 470.9 404.3 472.5 411.7 480.4 C419.1 488.4 415.4 486.0 424.4 490.0 C433.4 493.9 429.7 493.4 438.6 492.3 C447.6 491.3 447.1 488.6 451.3 486.8" fill="none" stroke="#666666" stroke-width="1.1" />
<path d="M402.2 466.2 C406.9 466.7 406.4 465.1 416.5 467.8 C426.5 470.4 423.3 469.4 432.3 474.1 C441.3 478.9 437.1 477.8 443.4 482.0 C449.7 486.3 448.7 485.2 451.3 486.8" fill="none" stroke="#666666" stroke-width="1.1" />
<path d="M430.7 445.6 C430.2 449.8 428.6 449.8 429.1 458.3 C429.7 466.7 428.6 463.5 432.3 470.9 C436.0 478.3 433.9 475.7 440.2 480.4 C446.6 485.2 447.6 483.6 451.3 485.2" fill="none" stroke="#666666" stroke-width="1.1" />
<path d="M430.7 445.6 C433.9 448.7 434.1 448.2 440.2 455.1 C446.3 462.0 445.0 459.3 448.9 466.2 C452.9 473.0 451.3 469.4 452.1 475.7 C452.9 482.0 451.6 482.0 451.3 485.2" fill="none" stroke="#666666" stroke-width="1.1" />
<path d="M528.2 461.9 L532.6 451.4 L574.5 451.4" fill="none" stroke="#666666" stroke-width="1.1" />
<path d="M463.3 469.8 C469.9 470.9 467.7 473.9 483.1 473.0 C498.5 472.2 493.8 471.8 509.5 467.4 C525.3 463.0 523.4 462.3 530.3 459.8" fill="none" stroke="#666666" stroke-width="1.1" />
<path d="M463.3 469.8 L449.5 504.2 L466.1 509.5 L472.7 494.8" fill="none" stroke="#666666" stroke-width="1.1" />
<path d="M472.7 494.8 C476.8 494.8 476.5 495.2 485.0 494.8 C493.5 494.3 493.8 493.9 498.2 493.4" fill="none" stroke="#666666" stroke-width="1.1" />
<path d="M498.2 493.4 L509.5 507.4" fill="none" stroke="#666666" stroke-width="1.1" />
<path d="M509.5 507.4 C515.2 505.4 516.1 506.5 526.5 501.4 C536.9 496.2 536.0 495.1 540.7 491.9" fill="none" stroke="#666666" stroke-width="1.1" />
<path d="M540.7 491.9 L535.0 477.8" fill="none" stroke="#666666" stroke-width="1.1" />
<path d="M535.0 477.8 C537.2 474.6 536.3 474.6 541.6 468.3 C547.0 462.0 547.9 462.0 551.1 458.9" fill="none" stroke="#666666" stroke-width="1.1" />
<path d="M551.1 458.9 L568.1 461.1 L574.7 451.3" fill="none" stroke="#666666" stroke-width="1.1" />
<text transform="translate(681.3 50.6) scale(0.78 1)" text-anchor="middle" font-size="21.6" y="7.7" stroke="#0a0a0a" stroke-width="0.35">3</text>
<line x1="666.0" y1="55.6" x2="646.0" y2="67.0" stroke="#0a0a0a" stroke-width="1.5" />
<text transform="translate(762.0 86.6) scale(0.78 1)" text-anchor="middle" font-size="21.6" y="7.7" stroke="#0a0a0a" stroke-width="0.35">4</text>
<line x1="754.0" y1="93.0" x2="723.0" y2="110.6" stroke="#0a0a0a" stroke-width="1.5" />
<text transform="translate(838.5 131.0) scale(0.78 1)" text-anchor="middle" font-size="21.6" y="7.7" stroke="#0a0a0a" stroke-width="0.35">14</text>
<line x1="828.0" y1="137.6" x2="776.4" y2="164.0" stroke="#0a0a0a" stroke-width="1.5" />
<text transform="translate(884.7 176.6) scale(0.78 1)" text-anchor="middle" font-size="21.6" y="7.7" stroke="#0a0a0a" stroke-width="0.35">7</text>
<line x1="876.4" y1="182.4" x2="844.4" y2="200.5" stroke="#0a0a0a" stroke-width="1.5" />
<text transform="translate(959.0 186.7) scale(0.78 1)" text-anchor="middle" font-size="21.6" y="7.7" stroke="#0a0a0a" stroke-width="0.35">5</text>
<line x1="950.0" y1="193.0" x2="921.0" y2="209.3" stroke="#0a0a0a" stroke-width="1.5" />
<text transform="translate(906.5 328.6) scale(0.78 1)" text-anchor="middle" font-size="21.6" y="7.7" stroke="#0a0a0a" stroke-width="0.35">7</text>
<line x1="938.5" y1="316.0" x2="912.5" y2="329.0" stroke="#0a0a0a" stroke-width="1.5" />
<text transform="translate(948.8 357.0) scale(0.78 1)" text-anchor="middle" font-size="21.6" y="7.7" stroke="#0a0a0a" stroke-width="0.35">14</text>
<line x1="960.0" y1="351.5" x2="982.0" y2="339.5" stroke="#0a0a0a" stroke-width="1.5" />
<text transform="translate(1108.0 290.3) scale(0.78 1)" text-anchor="middle" font-size="21.6" y="7.7" stroke="#0a0a0a" stroke-width="0.35">4</text>
<line x1="1099.0" y1="296.0" x2="1070.0" y2="312.0" stroke="#0a0a0a" stroke-width="1.5" />
<text transform="translate(1156.0 316.0) scale(0.78 1)" text-anchor="middle" font-size="21.6" y="7.7" stroke="#0a0a0a" stroke-width="0.35">3</text>
<line x1="1147.0" y1="321.5" x2="1115.0" y2="339.5" stroke="#0a0a0a" stroke-width="1.5" />
<text transform="translate(1090.6 449.0) scale(0.78 1)" text-anchor="middle" font-size="21.6" y="7.7" stroke="#0a0a0a" stroke-width="0.35">15</text>
<line x1="1102.0" y1="443.5" x2="1126.5" y2="430.0" stroke="#0a0a0a" stroke-width="1.5" />
<text transform="translate(480.4 180.0) scale(0.78 1)" text-anchor="middle" font-size="21.6" y="7.7" stroke="#0a0a0a" stroke-width="0.35">13</text>
<text transform="translate(195.8 350.7) scale(0.78 1)" text-anchor="middle" font-size="21.6" y="7.7" stroke="#0a0a0a" stroke-width="0.35">2</text>
<line x1="188.3" y1="357.7" x2="119.5" y2="397.5" stroke="#0a0a0a" stroke-width="1.5" />
<text transform="translate(89.3 521.4) scale(0.78 1)" text-anchor="middle" font-size="21.6" y="7.7" stroke="#0a0a0a" stroke-width="0.35">3</text>
<line x1="100.0" y1="517.7" x2="130.8" y2="500.8" stroke="#0a0a0a" stroke-width="1.5" />
<text transform="translate(120.8 566.9) scale(0.78 1)" text-anchor="middle" font-size="21.6" y="7.7" stroke="#0a0a0a" stroke-width="0.35">4</text>
<line x1="130.0" y1="565.4" x2="188.8" y2="536.5" stroke="#0a0a0a" stroke-width="1.5" />
<text transform="translate(189.8 606.7) scale(0.78 1)" text-anchor="middle" font-size="21.6" y="7.7" stroke="#0a0a0a" stroke-width="0.35">5</text>
<line x1="199.0" y1="604.0" x2="258.4" y2="573.5" stroke="#0a0a0a" stroke-width="1.5" />
<text transform="translate(264.2 632.2) scale(0.78 1)" text-anchor="middle" font-size="21.6" y="7.7" stroke="#0a0a0a" stroke-width="0.35">6</text>
<line x1="273.0" y1="629.0" x2="336.0" y2="593.7" stroke="#0a0a0a" stroke-width="1.5" />
<text transform="translate(289.5 665.0) scale(0.78 1)" text-anchor="middle" font-size="21.6" y="7.7" stroke="#0a0a0a" stroke-width="0.35">7</text>
<line x1="298.5" y1="667.5" x2="379.3" y2="622.6" stroke="#0a0a0a" stroke-width="1.5" />
<text transform="translate(482.7 776.8) scale(0.78 1)" text-anchor="middle" font-size="21.6" y="7.7" stroke="#0a0a0a" stroke-width="0.35">8</text>
<line x1="490.7" y1="780.2" x2="582.7" y2="727.2" stroke="#0a0a0a" stroke-width="1.5" />
<text transform="translate(603.4 593.2) scale(0.78 1)" text-anchor="middle" font-size="21.6" y="7.7" stroke="#0a0a0a" stroke-width="0.35">9</text>
<line x1="594.0" y1="598.3" x2="560.5" y2="617.4" stroke="#0a0a0a" stroke-width="1.5" />
<text transform="translate(631.7 680.0) scale(0.78 1)" text-anchor="middle" font-size="21.6" y="7.7" stroke="#0a0a0a" stroke-width="0.35">10</text>
<line x1="630.6" y1="642.5" x2="630.6" y2="667.0" stroke="#0a0a0a" stroke-width="1.5" />
<text transform="translate(697.5 735.7) scale(0.78 1)" text-anchor="middle" font-size="21.6" y="7.7" stroke="#0a0a0a" stroke-width="0.35">11</text>
<line x1="698.6" y1="698.0" x2="698.6" y2="727.2" stroke="#0a0a0a" stroke-width="1.5" />
<text transform="translate(887.5 737.3) scale(0.78 1)" text-anchor="middle" font-size="21.6" y="7.7" stroke="#0a0a0a" stroke-width="0.35">12</text>
<line x1="886.8" y1="685.0" x2="886.8" y2="728.5" stroke="#0a0a0a" stroke-width="1.5" />
<text transform="translate(642.5 564.5) scale(0.78 1)" text-anchor="middle" font-size="21.6" y="7.7" stroke="#0a0a0a" stroke-width="0.35">16</text>
<line x1="655.0" y1="572.7" x2="678.6" y2="587.0" stroke="#0a0a0a" stroke-width="1.5" />
<text transform="translate(1175.4 775.4) scale(0.78 1)" text-anchor="middle" font-size="21.6" y="7.7" stroke="#0a0a0a" stroke-width="0.35">1</text>
<line x1="1136.0" y1="727.7" x2="1166.8" y2="763.0" stroke="#0a0a0a" stroke-width="1.5" />
</svg>
</body></html>
